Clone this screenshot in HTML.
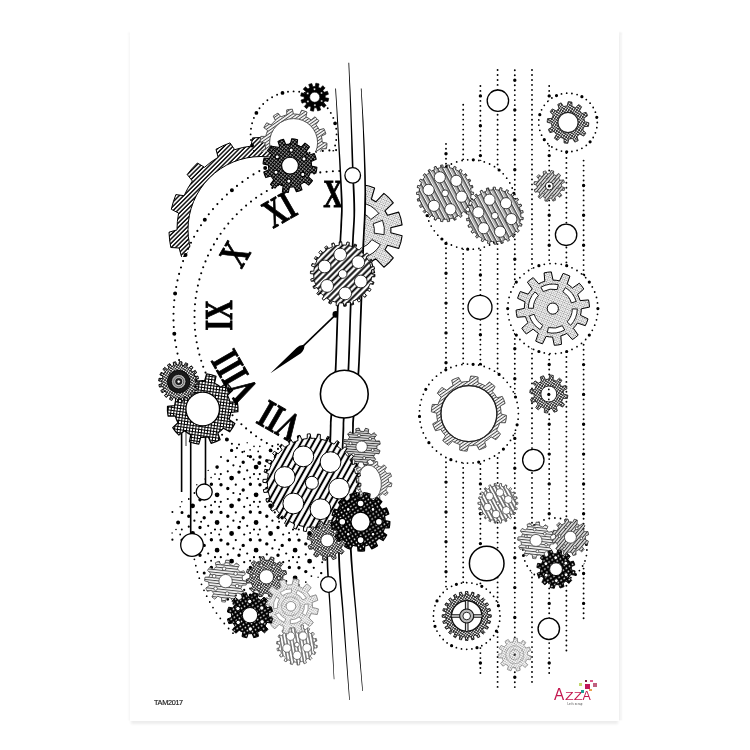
<!DOCTYPE html>
<html lang="fr">
<head>
<meta charset="utf-8">
<title>TAM2017 – AZZA</title>
<style>
html,body{margin:0;padding:0;background:#fff;}
body{width:750px;height:750px;overflow:hidden;position:relative;font-family:"Liberation Sans",sans-serif;}
#sheet{position:absolute;left:130px;top:31px;width:489px;height:689.5px;background:#fff;
 box-shadow:0 4px 2.5px -1px rgba(0,0,0,.075),3.5px 0 1.5px -.5px rgba(0,0,0,.05),-2.5px 0 1.5px -.5px rgba(0,0,0,.03);}
#art{position:absolute;left:0;top:0;width:750px;height:750px;will-change:transform;}
#ref{will-change:transform;position:absolute;left:154px;top:698.2px;font-size:7.3px;line-height:9px;letter-spacing:-.32px;color:#161616;-webkit-text-stroke:.15px #161616;white-space:nowrap;}
#logo{will-change:transform;position:absolute;left:550px;top:676px;width:54px;height:34px;}
#logo span{position:absolute;white-space:nowrap;}
#logo i{position:absolute;display:block;}
</style>
</head>
<body>
<div id="sheet"></div>
<svg id="art" width="750" height="750" viewBox="0 0 750 750">
<defs>
<pattern id="hRing" width="3.1" height="3.1" patternUnits="userSpaceOnUse" patternTransform="rotate(-45)"><line x1="0" y1="1.6" x2="3.1" y2="1.6" stroke="#000" stroke-width="1.4"/></pattern>
<pattern id="hLight" width="2.6" height="2.6" patternUnits="userSpaceOnUse" patternTransform="rotate(-35)"><line x1="0" y1="1.3" x2="2.6" y2="1.3" stroke="#484848" stroke-width="1"/></pattern>
<pattern id="hLightH" width="2.7" height="2.7" patternUnits="userSpaceOnUse" patternTransform="rotate(6)"><line x1="0" y1="1.4" x2="2.7" y2="1.4" stroke="#4a4a4a" stroke-width="1.1"/></pattern>
<pattern id="hMed" width="2.6" height="2.6" patternUnits="userSpaceOnUse" patternTransform="rotate(-50)"><line x1="0" y1="1.3" x2="2.6" y2="1.3" stroke="#333" stroke-width="1.2"/></pattern>
<pattern id="hMedH" width="2.4" height="2.4" patternUnits="userSpaceOnUse" patternTransform="rotate(4)"><line x1="0" y1="1.2" x2="2.4" y2="1.2" stroke="#3a3a3a" stroke-width="1.2"/></pattern>
<pattern id="xDark" width="2.6" height="2.6" patternUnits="userSpaceOnUse" patternTransform="rotate(40)"><path d="M0 1.3 H2.6 M1.3 0 V2.6" stroke="#000" stroke-width="1.4" fill="none"/></pattern>
<pattern id="xMed" width="2.2" height="2.2" patternUnits="userSpaceOnUse" patternTransform="rotate(35)"><path d="M0 1.1 H2.2 M1.1 0 V2.2" stroke="#2a2a2a" stroke-width="0.9" fill="none"/></pattern>
<pattern id="xGrid" width="3" height="3" patternUnits="userSpaceOnUse" patternTransform="rotate(8)"><path d="M0 1.5 H3 M1.5 0 V3" stroke="#000" stroke-width="1" fill="none"/></pattern>
<pattern id="stip" width="2.7" height="2.7" patternUnits="userSpaceOnUse" patternTransform="rotate(20)"><circle cx="0.7" cy="0.7" r="0.5" fill="#111"/><circle cx="2" cy="2" r="0.5" fill="#111"/></pattern>
<pattern id="stipL" width="2.2" height="2.2" patternUnits="userSpaceOnUse" patternTransform="rotate(20)"><circle cx="0.6" cy="0.6" r="0.4" fill="#444"/><circle cx="1.7" cy="1.7" r="0.4" fill="#444"/></pattern>
<pattern id="bdots" width="5.2" height="5.2" patternUnits="userSpaceOnUse" patternTransform="rotate(12)"><rect width="5.2" height="5.2" fill="#000"/><circle cx="1.3" cy="1.3" r="0.8" fill="#fff"/><circle cx="3.9" cy="3.9" r="0.8" fill="#fff"/></pattern>
<pattern id="sBig" width="5.4" height="5.4" patternUnits="userSpaceOnUse" patternTransform="rotate(-61)"><line x1="0" y1="2.7" x2="5.4" y2="2.7" stroke="#000" stroke-width="2"/></pattern>
<pattern id="sMid" width="4.4" height="4.4" patternUnits="userSpaceOnUse" patternTransform="rotate(-45)"><line x1="0" y1="2.2" x2="4.4" y2="2.2" stroke="#000" stroke-width="1.9"/></pattern>
<pattern id="sRight" width="4.4" height="4.4" patternUnits="userSpaceOnUse" patternTransform="rotate(62)"><line x1="0" y1="0.8" x2="4.4" y2="0.8" stroke="#000" stroke-width="1.1"/><line x1="0" y1="2.7" x2="4.4" y2="2.7" stroke="#000" stroke-width="0.5"/></pattern>
<pattern id="sSmall" width="3.4" height="3.4" patternUnits="userSpaceOnUse" patternTransform="rotate(62)"><line x1="0" y1="1.7" x2="3.4" y2="1.7" stroke="#222" stroke-width="1.1"/></pattern>
<pattern id="sSmallV" width="3.2" height="3.2" patternUnits="userSpaceOnUse" patternTransform="rotate(80)"><line x1="0" y1="1.6" x2="3.2" y2="1.6" stroke="#333" stroke-width="1"/></pattern>
<clipPath id="ringClip"><rect x="150" y="120" width="200" height="137"/></clipPath>
<clipPath id="topClip"><rect x="230" y="60" width="120" height="91.5"/></clipPath>
<clipPath id="leftOfRails"><rect x="120" y="30" width="222" height="700"/></clipPath>
<clipPath id="rightOfRails"><rect x="363" y="150" width="80" height="160"/></clipPath>
</defs>
<path d="M218.1 157.3L216 149.3A92 92 0 0 1 230 142.9L234.7 149.7A84 84 0 0 1 251.1 146.1L252.5 137.9A92 92 0 0 1 267.9 137.8L269.4 145.9A84 84 0 0 1 285.9 149.3L290.5 142.4A92 92 0 0 1 304.6 148.5L302.7 156.6A84 84 0 0 1 316.4 166.4L323.4 161.9A92 92 0 0 1 333.8 173.2L328.7 179.8A84 84 0 0 1 337.3 194.3L345.5 193.1A92 92 0 0 1 350.4 207.7L343.1 211.7A84 84 0 0 1 345 228.4L353 230.6A92 92 0 0 1 351.5 245.9L343.2 246.6A84 84 0 0 1 338.2 262.7L344.6 267.9A92 92 0 0 1 337 281.3L329.2 278.6A84 84 0 0 1 318 291.2L321.7 298.6A92 92 0 0 1 309.3 307.8L303.3 302.1A84 84 0 0 1 288 309L288.4 317.3A92 92 0 0 1 273.3 320.7L270.2 313A84 84 0 0 1 253.3 313.1L250.3 320.9A92 92 0 0 1 235.2 317.8L235.4 309.5A84 84 0 0 1 219.9 302.8L214 308.6A92 92 0 0 1 201.5 299.7L205.1 292.2A84 84 0 0 1 193.7 279.7L185.9 282.7A92 92 0 0 1 178.1 269.4L184.4 264A84 84 0 0 1 179.1 248L170.8 247.5A92 92 0 0 1 169 232.2L177 229.9A84 84 0 0 1 178.6 213.1L171.3 209.3A92 92 0 0 1 175.9 194.6L184.1 195.7A84 84 0 0 1 192.4 181L187.2 174.5A92 92 0 0 1 197.4 163L204.5 167.3A84 84 0 0 1 218.1 157.3ZM188 229.5a73 73 0 1 0 146 0a73 73 0 1 0 -146 0Z" fill="url(#hRing)" fill-rule="evenodd" stroke="#000" stroke-width="1" clip-path="url(#ringClip)"/>
<circle cx="340.5" cy="317" r="166" fill="#fff"/>
<g clip-path="url(#leftOfRails)">
<path d="M329.4 483.6h0M322.8 483.1h0M316.1 482.2h0M309.5 481.1h0M303 479.7h0M290 476.2h0M283.7 474h0M277.4 471.6h0M271.3 469h0M265.2 466.1h0M253.5 459.6h0M247.9 456h0M242.4 452.1h0M237 448.1h0M231.9 443.8h0M222.1 434.7h0M217.4 429.9h0M213 424.9h0M208.8 419.7h0M204.8 414.3h0M197.4 403.1h0M194.1 397.3h0M191 391.3h0M188.1 385.3h0M185.5 379.1h0M181 366.5h0M179.1 360.1h0M177.5 353.6h0M176.2 347h0M175.1 340.4h0M173.8 327h0M173.5 320.4h0M173.5 313.7h0M173.8 307h0M174.3 300.3h0M176.2 287h0M177.5 280.4h0M179.1 273.9h0M181 267.5h0M183.1 261.1h0M188.1 248.7h0M191 242.7h0M194.1 236.7h0M197.4 230.9h0M201 225.2h0M208.8 214.3h0M213 209.1h0M217.4 204.1h0M222.1 199.3h0M226.9 194.6h0M237 185.9h0M242.4 181.9h0M247.9 178h0M253.5 174.4h0M259.3 171.1h0M271.3 165h0M277.4 162.4h0M283.7 160h0M290 157.8h0M296.5 155.9h0M309.5 152.9h0M316.1 151.8h0M322.8 150.9h0M329.4 150.4h0M336.1 150.1h0" stroke="#000" stroke-width="2.1" stroke-linecap="round" fill="none"/>
<path d="M336.1 483.9h0M296.5 478.1h0M259.3 462.9h0M226.9 439.4h0M201 408.8h0M183.1 372.9h0M174.3 333.7h0M175.1 293.6h0M185.5 254.9h0M204.8 219.7h0M231.9 190.2h0M265.2 167.9h0M302.9 154.3h0M342.8 150h0" stroke="#000" stroke-width="4" stroke-linecap="round" fill="none"/>
<path d="M345.6 462.9h0M339.3 463h0M332.9 462.8h0M326.6 462.3h0M320.3 461.6h0M314.1 460.6h0M307.9 459.3h0M301.7 457.8h0M295.6 455.9h0M289.7 453.9h0M283.8 451.5h0M278 448.9h0M272.3 446.1h0M266.8 443h0M261.4 439.7h0M256.1 436.2h0M251 432.4h0M246.1 428.4h0M241.4 424.2h0M236.8 419.8h0M232.5 415.2h0M228.3 410.4h0M224.4 405.5h0M220.6 400.3h0M217.1 395.1h0M213.9 389.6h0M210.8 384.1h0M208 378.4h0M205.5 372.6h0M203.2 366.7h0M201.2 360.7h0M199.4 354.6h0M197.9 348.4h0M196.7 342.2h0M195.7 336h0M195 329.7h0M194.6 323.3h0M194.5 317h0M194.6 310.7h0M195 304.3h0M195.7 298h0M196.7 291.8h0M197.9 285.6h0M199.4 279.4h0M201.2 273.3h0M203.2 267.3h0M205.5 261.4h0M208 255.6h0M210.8 249.9h0M213.9 244.4h0M217.1 238.9h0M220.6 233.7h0M224.4 228.5h0M228.3 223.6h0M232.5 218.8h0M236.8 214.2h0M241.4 209.8h0M246.1 205.6h0M251 201.6h0M256.1 197.8h0M261.4 194.3h0M266.8 191h0M272.3 187.9h0M278 185.1h0M283.8 182.5h0M289.7 180.1h0M295.6 178.1h0M301.7 176.2h0M307.9 174.7h0M314.1 173.4h0M320.3 172.4h0M326.6 171.7h0M332.9 171.2h0M339.3 171h0M345.6 171.1h0" stroke="#000" stroke-width="2.1" stroke-linecap="round" fill="none"/>
</g>
<g clip-path="url(#topClip)">
<path d="M336.6 134.4h0M336.2 140h0M335.1 145.5h0M333.3 150.9h0M327.7 160.6h0M324 164.8h0M319.8 168.5h0M315.1 171.6h0M310.1 174.1h0M299.2 177h0M293.6 177.4h0M288 177h0M282.5 175.9h0M277.1 174.1h0M267.4 168.5h0M263.2 164.8h0M259.5 160.6h0M256.4 155.9h0M253.9 150.9h0M251 140h0M250.6 134.4h0M251 128.8h0M252.1 123.3h0M253.9 117.9h0M259.5 108.2h0M263.2 104h0M267.4 100.3h0M272.1 97.2h0M277.1 94.7h0M288 91.8h0M293.6 91.4h0M299.2 91.8h0M304.7 92.9h0M310.1 94.7h0M319.8 100.3h0M324 104h0M327.7 108.2h0M330.8 112.9h0M333.3 117.9h0M336.2 128.8h0" stroke="#000" stroke-width="1.9" stroke-linecap="round" fill="none"/>
<path d="M330.8 155.9h0M304.7 175.9h0M272.1 171.6h0M252.1 145.5h0M256.4 112.9h0M282.5 92.9h0M315.1 97.2h0M335.1 123.3h0" stroke="#000" stroke-width="3.8" stroke-linecap="round" fill="none"/>
<path d="M286.8 114.8L286.7 109.9A33.4 33.4 0 0 1 292.4 109.2L293.4 114A28.6 28.6 0 0 1 299.6 114.6L301.6 110.2A33.4 33.4 0 0 1 307 112L305.9 116.8A28.6 28.6 0 0 1 311.1 120L314.9 116.8A33.4 33.4 0 0 1 318.9 120.8L315.9 124.6A28.6 28.6 0 0 1 319.2 129.8L323.9 128.6A33.4 33.4 0 0 1 325.9 134L321.4 136.1A28.6 28.6 0 0 1 322.2 142.2L327 143.2A33.4 33.4 0 0 1 326.4 148.8L321.5 148.8A28.6 28.6 0 0 1 319.5 154.6L323.4 157.6A33.4 33.4 0 0 1 320.5 162.4L316.1 160.3A28.6 28.6 0 0 1 311.8 164.7L314 169.1A33.4 33.4 0 0 1 309.2 172.1L306.2 168.3A28.6 28.6 0 0 1 300.4 170.4L300.5 175.3A33.4 33.4 0 0 1 294.8 176L293.8 171.2A28.6 28.6 0 0 1 287.6 170.6L285.6 175A33.4 33.4 0 0 1 280.2 173.2L281.3 168.4A28.6 28.6 0 0 1 276.1 165.2L272.3 168.4A33.4 33.4 0 0 1 268.3 164.4L271.3 160.6A28.6 28.6 0 0 1 268 155.4L263.3 156.6A33.4 33.4 0 0 1 261.3 151.2L265.8 149.1A28.6 28.6 0 0 1 265 143L260.2 142A33.4 33.4 0 0 1 260.8 136.4L265.7 136.4A28.6 28.6 0 0 1 267.7 130.6L263.8 127.6A33.4 33.4 0 0 1 266.7 122.8L271.1 124.9A28.6 28.6 0 0 1 275.4 120.5L273.2 116.1A33.4 33.4 0 0 1 278 113.1L281 116.9A28.6 28.6 0 0 1 286.8 114.8ZM269.6 142.6a24 24 0 1 0 48 0a24 24 0 1 0 -48 0Z" fill="#fff"/>
<path d="M286.8 114.8L286.7 109.9A33.4 33.4 0 0 1 292.4 109.2L293.4 114A28.6 28.6 0 0 1 299.6 114.6L301.6 110.2A33.4 33.4 0 0 1 307 112L305.9 116.8A28.6 28.6 0 0 1 311.1 120L314.9 116.8A33.4 33.4 0 0 1 318.9 120.8L315.9 124.6A28.6 28.6 0 0 1 319.2 129.8L323.9 128.6A33.4 33.4 0 0 1 325.9 134L321.4 136.1A28.6 28.6 0 0 1 322.2 142.2L327 143.2A33.4 33.4 0 0 1 326.4 148.8L321.5 148.8A28.6 28.6 0 0 1 319.5 154.6L323.4 157.6A33.4 33.4 0 0 1 320.5 162.4L316.1 160.3A28.6 28.6 0 0 1 311.8 164.7L314 169.1A33.4 33.4 0 0 1 309.2 172.1L306.2 168.3A28.6 28.6 0 0 1 300.4 170.4L300.5 175.3A33.4 33.4 0 0 1 294.8 176L293.8 171.2A28.6 28.6 0 0 1 287.6 170.6L285.6 175A33.4 33.4 0 0 1 280.2 173.2L281.3 168.4A28.6 28.6 0 0 1 276.1 165.2L272.3 168.4A33.4 33.4 0 0 1 268.3 164.4L271.3 160.6A28.6 28.6 0 0 1 268 155.4L263.3 156.6A33.4 33.4 0 0 1 261.3 151.2L265.8 149.1A28.6 28.6 0 0 1 265 143L260.2 142A33.4 33.4 0 0 1 260.8 136.4L265.7 136.4A28.6 28.6 0 0 1 267.7 130.6L263.8 127.6A33.4 33.4 0 0 1 266.7 122.8L271.1 124.9A28.6 28.6 0 0 1 275.4 120.5L273.2 116.1A33.4 33.4 0 0 1 278 113.1L281 116.9A28.6 28.6 0 0 1 286.8 114.8ZM269.6 142.6a24 24 0 1 0 48 0a24 24 0 1 0 -48 0Z" fill="url(#hLight)" fill-rule="evenodd" stroke="#444" stroke-width="0.9"/>
</g>
<path d="M250.1 616.1h0M258.2 617.6h0" stroke="#000" stroke-width="1.2" stroke-linecap="round" fill="none"/>
<path d="M172.1 533h0M196.8 484.7h0M208.2 470.4h0M211.1 588.4h0M247.2 442.7h0M266.8 443.6h0M286.2 608.9h0M305.8 471.3h0M318.1 577.2h0M337.8 501.8h0M344.8 526.7h0M337.8 557.2h0" stroke="#000" stroke-width="1.4" stroke-linecap="round" fill="none"/>
<path d="M176 529.5h0M205.2 479.1h0M211.1 477.6h0M181.8 501.8h0M180.2 506.8h0M254 446.4h0M250.1 449.9h0M254 612.6h0M259.8 446.4h0M283.2 451.4h0M259.8 612.6h0M328.1 560.7h0M297.2 589.9h0M336.2 506.8h0" stroke="#000" stroke-width="1.6" stroke-linecap="round" fill="none"/>
<path d="M194.4 493h0M215 474.1h0M188.8 499h0M180.2 534.5h0M208.2 581.2h0M244.2 451.4h0M219.2 589.9h0M240.1 604.9h0M247.2 608.9h0M258.2 451.4h0M279.1 604.9h0M266.8 609.8h0M313.8 484.7h0M318.1 494.1h0M325.2 498.1h0M332 501.8h0M328.1 505.3h0M311.4 576.1h0M332 557.2h0M305.8 582.1h0M337.8 529.5h0M336.2 534.5h0" stroke="#000" stroke-width="1.8" stroke-linecap="round" fill="none"/>
<path d="M172.4 512h0M201.1 494.1h0M211.1 505.3h0M201.1 521.8h0M181.8 529.5h0M211.1 533h0M201.1 549.5h0M211.1 560.7h0M215 584.9h0M239 444.4h0M221 457h0M235.8 457h0M240.1 466.4h0M219.2 479.1h0M250.1 477.6h0M240.1 494.1h0M219.2 506.8h0M250.1 505.3h0M240.1 521.8h0M219.2 534.5h0M250.1 533h0M240.1 549.5h0M219.2 562.2h0M250.1 560.7h0M240.1 577.2h0M233.4 603.8h0M250.1 588.4h0M278 444.4h0M279.1 466.4h0M258.2 479.1h0M289.1 477.6h0M279.1 494.1h0M258.2 506.8h0M289.1 505.3h0M279.1 521.8h0M258.2 534.5h0M289.1 533h0M279.1 549.5h0M258.2 562.2h0M289.1 560.7h0M279.1 577.2h0M258.2 589.9h0M289.1 588.4h0M298.8 474.1h0M297.2 479.1h0M297.2 506.8h0M318.1 521.8h0M297.2 534.5h0M328.1 533h0M318.1 549.5h0M322.2 562.2h0M297.2 562.2h0M298.8 584.9h0M344.8 516.2h0M344.8 543.9h0" stroke="#000" stroke-width="2" stroke-linecap="round" fill="none"/>
<path d="M172.4 539.7h0M196.8 512.4h0M194.4 520.7h0M208.2 498.1h0M205.2 506.8h0M215 501.8h0M196.8 540.1h0M188.8 526.7h0M208.2 525.8h0M205.2 534.5h0M215 529.5h0M208.2 553.5h0M205.2 562.2h0M215 557.2h0M233.4 465.3h0M235.8 484.7h0M233.4 493h0M227.8 471.3h0M220.8 474.1h0M247.2 470.4h0M244.2 479.1h0M254 474.1h0M235.8 512.4h0M233.4 520.7h0M227.8 499h0M220.8 501.8h0M247.2 498.1h0M244.2 506.8h0M254 501.8h0M235.8 540.1h0M233.4 548.4h0M227.8 526.7h0M220.8 529.5h0M247.2 525.8h0M244.2 534.5h0M254 529.5h0M235.8 567.8h0M233.4 576.1h0M227.8 554.4h0M220.8 557.2h0M247.2 553.5h0M244.2 562.2h0M254 557.2h0M235.8 595.5h0M227.8 582.1h0M220.8 584.9h0M247.2 581.2h0M244.2 589.9h0M254 584.9h0M274.8 457h0M272.4 465.3h0M274.8 484.7h0M272.4 493h0M266.8 471.3h0M259.8 474.1h0M286.2 470.4h0M283.2 479.1h0M293 474.1h0M274.8 512.4h0M272.4 520.7h0M266.8 499h0M259.8 501.8h0M286.2 498.1h0M283.2 506.8h0M293 501.8h0M274.8 540.1h0M272.4 548.4h0M266.8 526.7h0M259.8 529.5h0M286.2 525.8h0M283.2 534.5h0M293 529.5h0M274.8 567.8h0M272.4 576.1h0M266.8 554.4h0M259.8 557.2h0M286.2 553.5h0M283.2 562.2h0M293 557.2h0M274.8 595.5h0M272.4 603.8h0M266.8 582.1h0M259.8 584.9h0M286.2 581.2h0M283.2 589.9h0M293 584.9h0M311.4 493h0M313.8 512.4h0M311.4 520.7h0M305.8 499h0M298.8 501.8h0M322.2 506.8h0M313.8 540.1h0M311.4 548.4h0M305.8 526.7h0M298.8 529.5h0M325.2 525.8h0M322.2 534.5h0M332 529.5h0M328.4 567.4h0M313.8 567.8h0M305.8 554.4h0M298.8 557.2h0M325.2 553.5h0" stroke="#000" stroke-width="2.2" stroke-linecap="round" fill="none"/>
<path d="M289.4 456.6h0M321.2 573.1h0M299 595.5h0" stroke="#000" stroke-width="2.4" stroke-linecap="round" fill="none"/>
<path d="M221 595.5h0M239 610.6h0M278 610.6h0M321.2 490h0M338 512.4h0" stroke="#000" stroke-width="2.6" stroke-linecap="round" fill="none"/>
<path d="M227.8 460.8h0M227.8 599.3h0M338 540.1h0" stroke="#000" stroke-width="2.8" stroke-linecap="round" fill="none"/>
<path d="M182 512.4h0M204.2 573.1h0M289.4 595.1h0M270.6 616.6h0" stroke="#000" stroke-width="3" stroke-linecap="round" fill="none"/>
<path d="M204.2 490h0M182 540.1h0M282.2 600.8h0" stroke="#000" stroke-width="3.2" stroke-linecap="round" fill="none"/>
<path d="M211.4 484.3h0M188.8 516.2h0M204.2 517.7h0M200 499.8h0M211.4 512h0M188.8 543.9h0M204.2 545.4h0M200 527.5h0M211.4 539.7h0M200 555.2h0M211.4 567.4h0M231.6 450.4h0M243.2 462.3h0M250.4 456.6h0M227.8 488.5h0M243.2 490h0M239 472.1h0M221 484.7h0M250.4 484.3h0M227.8 516.2h0M243.2 517.7h0M239 499.8h0M221 512.4h0M250.4 512h0M227.8 543.9h0M243.2 545.4h0M239 527.5h0M221 540.1h0M250.4 539.7h0M227.8 571.6h0M243.2 573.1h0M239 555.2h0M221 567.8h0M250.4 567.4h0M243.2 600.8h0M239 582.9h0M250.4 595.1h0M266.8 460.8h0M282.2 462.3h0M260 457h0M266.8 488.5h0M282.2 490h0M278 472.1h0M260 484.7h0M289.4 484.3h0M266.8 516.2h0M282.2 517.7h0M278 499.8h0M260 512.4h0M289.4 512h0M266.8 543.9h0M282.2 545.4h0M278 527.5h0M260 540.1h0M289.4 539.7h0M266.8 571.6h0M282.2 573.1h0M278 555.2h0M260 567.8h0M289.4 567.4h0M266.8 599.3h0M278 582.9h0M260 595.5h0M305.8 488.5h0M299 484.7h0M305.8 516.2h0M321.2 517.7h0M317 499.8h0M299 512.4h0M328.4 512h0M305.8 543.9h0M321.2 545.4h0M317 527.5h0M299 540.1h0M328.4 539.7h0M305.8 571.6h0M317 555.2h0M299 567.8h0" stroke="#000" stroke-width="3.4" stroke-linecap="round" fill="none"/>
<path d="M217.1 467.1h0M309.6 478.1h0" stroke="#000" stroke-width="3.6" stroke-linecap="round" fill="none"/>
<path d="M270.6 450.4h0" stroke="#000" stroke-width="3.8" stroke-linecap="round" fill="none"/>
<path d="M178.1 522.5h0M295.1 467.1h0" stroke="#000" stroke-width="4" stroke-linecap="round" fill="none"/>
<path d="M334.1 550.2h0" stroke="#000" stroke-width="4.2" stroke-linecap="round" fill="none"/>
<path d="M334.1 522.5h0" stroke="#000" stroke-width="4.4" stroke-linecap="round" fill="none"/>
<path d="M256.1 605.6h0" stroke="#000" stroke-width="4.6" stroke-linecap="round" fill="none"/>
<path d="M192.6 505.8h0M192.6 533.5h0M231.6 478.1h0M217.1 494.8h0M231.6 505.8h0M217.1 522.5h0M231.6 533.5h0M217.1 550.2h0M231.6 561.2h0M217.1 577.9h0M231.6 588.9h0M256.1 467.1h0M270.6 478.1h0M256.1 494.8h0M270.6 505.8h0M256.1 522.5h0M270.6 533.5h0M256.1 550.2h0M270.6 561.2h0M256.1 577.9h0M270.6 588.9h0M295.1 494.8h0M309.6 505.8h0M295.1 522.5h0M309.6 533.5h0M295.1 550.2h0M309.6 561.2h0M295.1 577.9h0" stroke="#000" stroke-width="4.8" stroke-linecap="round" fill="none"/>
<path d="M233 633.2h0M228.6 628.5h0M224.3 623.5h0M220.3 618.4h0M216.5 613.1h0M213 607.6h0M209.8 602h0M206.7 596.2h0M204 590.3h0M201.5 584.3h0M199.3 578.2h0M197.4 572h0M195.8 565.7h0M194.4 559.3h0M193.4 552.9h0" stroke="#000" stroke-width="1.8" stroke-linecap="round" fill="none"/>
<path d="M181.6 425V492M190.7 430V534M205.5 432V484" stroke="#000" stroke-width="1.6" fill="none"/>
<path d="M186 428V446" stroke="#000" stroke-width="0.8" fill="none"/>
<circle cx="204.2" cy="492" r="8" fill="#fff" stroke="#000" stroke-width="1.3"/>
<circle cx="192" cy="545" r="11.3" fill="#fff" stroke="#000" stroke-width="1.3"/>
<path d="M230.1 402.1L237.3 401.9A35.3 35.3 0 0 1 237.9 411.6L230.8 412.3A28.3 28.3 0 0 1 229 419.5L234.9 423.6A35.3 35.3 0 0 1 229.7 431.8L223.5 428.2A28.3 28.3 0 0 1 217.8 433L220.1 439.7A35.3 35.3 0 0 1 211.1 443.3L208.2 436.8A28.3 28.3 0 0 1 200.8 437.2L198.8 444.1A35.3 35.3 0 0 1 189.4 441.7L190.9 434.7A28.3 28.3 0 0 1 184.6 430.7L178.9 435.1A35.3 35.3 0 0 1 172.7 427.6L178 422.8A28.3 28.3 0 0 1 175.3 415.9L168.1 416.1A35.3 35.3 0 0 1 167.5 406.4L174.6 405.7A28.3 28.3 0 0 1 176.4 398.5L170.5 394.4A35.3 35.3 0 0 1 175.7 386.2L181.9 389.8A28.3 28.3 0 0 1 187.6 385L185.3 378.3A35.3 35.3 0 0 1 194.3 374.7L197.2 381.2A28.3 28.3 0 0 1 204.6 380.8L206.6 373.9A35.3 35.3 0 0 1 216 376.3L214.5 383.3A28.3 28.3 0 0 1 220.8 387.3L226.5 382.9A35.3 35.3 0 0 1 232.7 390.4L227.4 395.2A28.3 28.3 0 0 1 230.1 402.1Z" fill="#fff"/>
<path d="M230.1 402.1L237.3 401.9A35.3 35.3 0 0 1 237.9 411.6L230.8 412.3A28.3 28.3 0 0 1 229 419.5L234.9 423.6A35.3 35.3 0 0 1 229.7 431.8L223.5 428.2A28.3 28.3 0 0 1 217.8 433L220.1 439.7A35.3 35.3 0 0 1 211.1 443.3L208.2 436.8A28.3 28.3 0 0 1 200.8 437.2L198.8 444.1A35.3 35.3 0 0 1 189.4 441.7L190.9 434.7A28.3 28.3 0 0 1 184.6 430.7L178.9 435.1A35.3 35.3 0 0 1 172.7 427.6L178 422.8A28.3 28.3 0 0 1 175.3 415.9L168.1 416.1A35.3 35.3 0 0 1 167.5 406.4L174.6 405.7A28.3 28.3 0 0 1 176.4 398.5L170.5 394.4A35.3 35.3 0 0 1 175.7 386.2L181.9 389.8A28.3 28.3 0 0 1 187.6 385L185.3 378.3A35.3 35.3 0 0 1 194.3 374.7L197.2 381.2A28.3 28.3 0 0 1 204.6 380.8L206.6 373.9A35.3 35.3 0 0 1 216 376.3L214.5 383.3A28.3 28.3 0 0 1 220.8 387.3L226.5 382.9A35.3 35.3 0 0 1 232.7 390.4L227.4 395.2A28.3 28.3 0 0 1 230.1 402.1Z" fill="url(#xGrid)" stroke="#000" stroke-width="1.2" stroke-linejoin="round"/>
<circle cx="202.7" cy="409" r="16.8" fill="#fff" stroke="#000" stroke-width="1.3"/>
<path d="M195.4 381.8L198.7 382.3A20 20 0 0 1 198.4 384.9L195.1 384.7A16.7 16.7 0 0 1 194.5 387L197.5 388.4A20 20 0 0 1 196.4 390.8L193.4 389.6A16.7 16.7 0 0 1 192.1 391.6L194.5 393.9A20 20 0 0 1 192.7 395.9L190.2 393.7A16.7 16.7 0 0 1 188.3 395.2L189.9 398.2A20 20 0 0 1 187.6 399.5L185.8 396.7A16.7 16.7 0 0 1 183.6 397.6L184.2 400.8A20 20 0 0 1 181.7 401.4L180.8 398.2A16.7 16.7 0 0 1 178.5 398.3L178 401.6A20 20 0 0 1 175.4 401.3L175.6 398A16.7 16.7 0 0 1 173.3 397.4L171.9 400.4A20 20 0 0 1 169.5 399.3L170.7 396.3A16.7 16.7 0 0 1 168.7 395L166.4 397.4A20 20 0 0 1 164.4 395.6L166.6 393.1A16.7 16.7 0 0 1 165.1 391.2L162.1 392.8A20 20 0 0 1 160.8 390.5L163.6 388.7A16.7 16.7 0 0 1 162.7 386.5L159.5 387.1A20 20 0 0 1 158.9 384.6L162.1 383.7A16.7 16.7 0 0 1 162 381.4L158.7 380.9A20 20 0 0 1 159 378.3L162.3 378.5A16.7 16.7 0 0 1 162.9 376.2L159.9 374.8A20 20 0 0 1 161 372.4L164 373.6A16.7 16.7 0 0 1 165.3 371.6L162.9 369.3A20 20 0 0 1 164.7 367.3L167.2 369.5A16.7 16.7 0 0 1 169.1 368L167.5 365A20 20 0 0 1 169.8 363.7L171.6 366.5A16.7 16.7 0 0 1 173.8 365.6L173.2 362.4A20 20 0 0 1 175.7 361.8L176.6 365A16.7 16.7 0 0 1 178.9 364.9L179.4 361.6A20 20 0 0 1 182 361.9L181.8 365.2A16.7 16.7 0 0 1 184.1 365.8L185.5 362.8A20 20 0 0 1 187.9 363.9L186.7 366.9A16.7 16.7 0 0 1 188.7 368.2L191 365.8A20 20 0 0 1 193 367.6L190.8 370.1A16.7 16.7 0 0 1 192.3 372L195.3 370.4A20 20 0 0 1 196.6 372.7L193.8 374.5A16.7 16.7 0 0 1 194.7 376.7L197.9 376.1A20 20 0 0 1 198.5 378.6L195.3 379.5A16.7 16.7 0 0 1 195.4 381.8Z" fill="#fff"/>
<path d="M195.4 381.8L198.7 382.3A20 20 0 0 1 198.4 384.9L195.1 384.7A16.7 16.7 0 0 1 194.5 387L197.5 388.4A20 20 0 0 1 196.4 390.8L193.4 389.6A16.7 16.7 0 0 1 192.1 391.6L194.5 393.9A20 20 0 0 1 192.7 395.9L190.2 393.7A16.7 16.7 0 0 1 188.3 395.2L189.9 398.2A20 20 0 0 1 187.6 399.5L185.8 396.7A16.7 16.7 0 0 1 183.6 397.6L184.2 400.8A20 20 0 0 1 181.7 401.4L180.8 398.2A16.7 16.7 0 0 1 178.5 398.3L178 401.6A20 20 0 0 1 175.4 401.3L175.6 398A16.7 16.7 0 0 1 173.3 397.4L171.9 400.4A20 20 0 0 1 169.5 399.3L170.7 396.3A16.7 16.7 0 0 1 168.7 395L166.4 397.4A20 20 0 0 1 164.4 395.6L166.6 393.1A16.7 16.7 0 0 1 165.1 391.2L162.1 392.8A20 20 0 0 1 160.8 390.5L163.6 388.7A16.7 16.7 0 0 1 162.7 386.5L159.5 387.1A20 20 0 0 1 158.9 384.6L162.1 383.7A16.7 16.7 0 0 1 162 381.4L158.7 380.9A20 20 0 0 1 159 378.3L162.3 378.5A16.7 16.7 0 0 1 162.9 376.2L159.9 374.8A20 20 0 0 1 161 372.4L164 373.6A16.7 16.7 0 0 1 165.3 371.6L162.9 369.3A20 20 0 0 1 164.7 367.3L167.2 369.5A16.7 16.7 0 0 1 169.1 368L167.5 365A20 20 0 0 1 169.8 363.7L171.6 366.5A16.7 16.7 0 0 1 173.8 365.6L173.2 362.4A20 20 0 0 1 175.7 361.8L176.6 365A16.7 16.7 0 0 1 178.9 364.9L179.4 361.6A20 20 0 0 1 182 361.9L181.8 365.2A16.7 16.7 0 0 1 184.1 365.8L185.5 362.8A20 20 0 0 1 187.9 363.9L186.7 366.9A16.7 16.7 0 0 1 188.7 368.2L191 365.8A20 20 0 0 1 193 367.6L190.8 370.1A16.7 16.7 0 0 1 192.3 372L195.3 370.4A20 20 0 0 1 196.6 372.7L193.8 374.5A16.7 16.7 0 0 1 194.7 376.7L197.9 376.1A20 20 0 0 1 198.5 378.6L195.3 379.5A16.7 16.7 0 0 1 195.4 381.8Z" fill="url(#xMed)" stroke="#000" stroke-width="1" stroke-linejoin="round"/>
<circle cx="178.7" cy="381.6" r="11.3" fill="#1a1a1a" stroke="#000" stroke-width="0.8"/>
<circle cx="178.7" cy="381.6" r="7.3" fill="#aaa" stroke="#000" stroke-width="0.8"/>
<circle cx="178.7" cy="381.6" r="4.9" fill="#ddd" stroke="#333" stroke-width="0.7"/>
<circle cx="178.7" cy="381.6" r="3.3" fill="#222" stroke="#000" stroke-width="0.5"/>
<circle cx="178.7" cy="381.6" r="1.6" fill="#fff" stroke="#000" stroke-width="0.5"/>
<g opacity="0.999">
<text transform="translate(340.5 193.4) rotate(0) scale(0.675 1)" x="5" y="13.3" stroke="#000" stroke-width="0.9" text-anchor="middle" font-family="'Liberation Serif',serif" font-weight="bold" font-size="40.5">XII</text>
<text transform="translate(279.5 209.7) rotate(-30) scale(0.675 1)" x="0" y="13.3" stroke="#000" stroke-width="0.9" text-anchor="middle" font-family="'Liberation Serif',serif" font-weight="bold" font-size="40.5">XI</text>
<text transform="translate(234.8 254.4) rotate(-60) scale(0.675 1)" x="0" y="13.3" stroke="#000" stroke-width="0.9" text-anchor="middle" font-family="'Liberation Serif',serif" font-weight="bold" font-size="40.5">X</text>
<text transform="translate(218.5 315.4) rotate(-90) scale(0.675 1)" x="0" y="13.3" stroke="#000" stroke-width="0.9" text-anchor="middle" font-family="'Liberation Serif',serif" font-weight="bold" font-size="40.5">IX</text>
<text transform="translate(234.8 376.4) rotate(-120) scale(0.675 1)" x="0" y="13.3" stroke="#000" stroke-width="0.9" text-anchor="middle" font-family="'Liberation Serif',serif" font-weight="bold" font-size="40.5">VIII</text>
<text transform="translate(279.5 421.1) rotate(-150) scale(0.675 1)" x="0" y="13.3" stroke="#000" stroke-width="0.9" text-anchor="middle" font-family="'Liberation Serif',serif" font-weight="bold" font-size="40.5">VII</text>
</g>
<path d="M335.8 314.6L301.5 347.6" stroke="#000" stroke-width="1.6" fill="none"/>
<path d="M270.4 373.2L296.4 348.1Q300.3 344.2 304.3 345.3Q305 349.6 300.9 353.3Z" fill="#000"/>
<circle cx="335.8" cy="314.4" r="3.3" fill="#000" stroke="#000" stroke-width="0"/>
<g clip-path="url(#rightOfRails)">
<path d="M390.8 232.8L402.1 235.7A46 46 0 0 1 398.7 248.5L387.5 245.3A34.5 34.5 0 0 1 384.9 249.7L393.3 257.8A46 46 0 0 1 383.9 267.2L375.8 258.8A34.5 34.5 0 0 1 371.4 261.4L374.6 272.6A46 46 0 0 1 361.8 276L358.9 264.7A34.5 34.5 0 0 1 353.9 264.7L351 276A46 46 0 0 1 338.2 272.6L341.4 261.4A34.5 34.5 0 0 1 337 258.8L328.9 267.2A46 46 0 0 1 319.5 257.8L327.9 249.7A34.5 34.5 0 0 1 325.3 245.3L314.1 248.5A46 46 0 0 1 310.7 235.7L322 232.8A34.5 34.5 0 0 1 322 227.8L310.7 224.9A46 46 0 0 1 314.1 212.1L325.3 215.3A34.5 34.5 0 0 1 327.9 210.9L319.5 202.8A46 46 0 0 1 328.9 193.4L337 201.8A34.5 34.5 0 0 1 341.4 199.2L338.2 188A46 46 0 0 1 351 184.6L353.9 195.9A34.5 34.5 0 0 1 358.9 195.9L361.8 184.6A46 46 0 0 1 374.6 188L371.4 199.2A34.5 34.5 0 0 1 375.8 201.8L383.9 193.4A46 46 0 0 1 393.3 202.8L384.9 210.9A34.5 34.5 0 0 1 387.5 215.3L398.7 212.1A46 46 0 0 1 402.1 224.9L390.8 227.8A34.5 34.5 0 0 1 390.8 232.8Z" fill="#fff"/>
<path d="M390.8 232.8L402.1 235.7A46 46 0 0 1 398.7 248.5L387.5 245.3A34.5 34.5 0 0 1 384.9 249.7L393.3 257.8A46 46 0 0 1 383.9 267.2L375.8 258.8A34.5 34.5 0 0 1 371.4 261.4L374.6 272.6A46 46 0 0 1 361.8 276L358.9 264.7A34.5 34.5 0 0 1 353.9 264.7L351 276A46 46 0 0 1 338.2 272.6L341.4 261.4A34.5 34.5 0 0 1 337 258.8L328.9 267.2A46 46 0 0 1 319.5 257.8L327.9 249.7A34.5 34.5 0 0 1 325.3 245.3L314.1 248.5A46 46 0 0 1 310.7 235.7L322 232.8A34.5 34.5 0 0 1 322 227.8L310.7 224.9A46 46 0 0 1 314.1 212.1L325.3 215.3A34.5 34.5 0 0 1 327.9 210.9L319.5 202.8A46 46 0 0 1 328.9 193.4L337 201.8A34.5 34.5 0 0 1 341.4 199.2L338.2 188A46 46 0 0 1 351 184.6L353.9 195.9A34.5 34.5 0 0 1 358.9 195.9L361.8 184.6A46 46 0 0 1 374.6 188L371.4 199.2A34.5 34.5 0 0 1 375.8 201.8L383.9 193.4A46 46 0 0 1 393.3 202.8L384.9 210.9A34.5 34.5 0 0 1 387.5 215.3L398.7 212.1A46 46 0 0 1 402.1 224.9L390.8 227.8A34.5 34.5 0 0 1 390.8 232.8Z" fill="url(#stip)" stroke="#000" stroke-width="1.1" stroke-linejoin="round"/>
<path d="M359.8 202.5A28 28 0 0 1 378.8 213.4L370.8 219.5A18 18 0 0 0 358.6 212.4Z" fill="#fff" stroke="#000" stroke-width="0.9"/>
<path d="M382.5 220.3A28 28 0 0 1 384.1 234.7L374.2 233.1A18 18 0 0 0 373.2 223.8Z" fill="#fff" stroke="#000" stroke-width="0.9"/>
<path d="M380.4 244.7A28 28 0 0 1 362.7 257.6L360.4 247.8A18 18 0 0 0 371.8 239.6Z" fill="#fff" stroke="#000" stroke-width="0.9"/>
</g>
<path d="M335.6 88.4L336.1 97.5L336.9 110.5L337.8 125.3L338.6 140L339.5 155.2L340.4 171.7L341.2 187.3L341.7 200L341.8 208.7L341.7 214.7L341.5 219.6L341.2 225L341 230.4L340.7 235.3L340.3 241.3L339.9 250L339.4 262.6L338.8 278L338.3 294.4L337.7 310.3L337.2 326.1L336.6 342.4L336.1 357.5L335.6 370L335.1 378.7L334.6 384.7L334.1 389.6L333.6 395L332.9 401.3L332.2 407.6L331.5 413.7L331 419L330.8 422.2L330.7 423.9L330.7 426.9L330.5 434L330 447.1L329.4 464.3L328.8 482.9L328.3 500L327.9 514.9L327.4 529.2L327.2 543.3L327.3 557.7L327.8 572.6L328.7 587.6L329.7 602.8L330.7 618L331.6 634.7L332.6 652.4L333.5 668.3L334.1 679.3L362.6 691L361.5 678.2L360 659.9L358.2 639.4L356.6 620L355 601.9L353.3 583.6L351.8 565.7L350.8 549.2L350.4 534.6L350.4 521.5L350.7 508.6L351 495L351.4 479.1L351.9 462.1L352.4 446.2L352.8 434L353 427.2L353 424.2L353.1 422.3L353.3 419L353.8 413.7L354.5 407.6L355.3 401.3L356 395L356.7 389.8L357.3 385.1L358 379.2L358.6 370L359.3 356.2L359.9 339.1L360.6 321L361.2 304L361.8 288.2L362.3 272.6L362.8 257.9L363.3 245L363.8 234.5L364.3 225.9L364.7 218.1L365 210L365.2 201.7L365.2 193.7L365.2 185.3L365 176L364.7 165.2L364.3 153.5L363.9 141.5L363.4 130L362.8 118.3L362.2 106.3L361.6 95.8L361.2 88.4Z" fill="#fff"/>
<path d="M335.2 88.4L335.5 93.9L336 101.5L336.5 110.5L337 120.3L337.5 130.3L338 140L338.5 149.9L339.1 160.7L339.6 171.7L340.1 182.3L340.5 191.9L340.8 200L341 206.2L341 210.9L340.8 214.7L340.7 218L340.5 221.2L340.3 225L340.2 228.8L340 232L339.8 235.3L339.6 239.1L339.3 243.8L339 250L338.7 258L338.4 267.5L338 278L337.6 288.9L337.2 299.9L336.8 310.3L336.5 320.7L336.1 331.5L335.8 342.4L335.4 352.7L335.1 362.1L334.7 370L334.4 376.2L334.1 380.9L333.8 384.7L333.4 388L333.1 391.3L332.7 395L332.3 399.2L331.8 403.4L331.3 407.6L330.9 411.7L330.4 415.5L330.1 419L329.9 421.4L329.9 422.8L329.9 423.9L329.8 425.6L329.8 428.7L329.6 434L329.3 442.1L329 452.5L328.6 464.3L328.1 476.7L327.7 488.9L327.4 500L327.1 510.1L326.8 519.8L326.6 529.2L326.4 538.6L326.3 548L326.5 557.7L326.8 567.6L327.4 577.6L328 587.6L328.8 597.7L329.5 607.9L330.1 618L330.8 628.9L331.5 640.6L332.2 652.4L332.9 663.4L333.4 672.6L333.8 679.3L334.4 679.3L334 672.6L333.6 663.4L333 652.4L332.4 640.6L331.8 628.9L331.3 618L330.7 607.9L330.1 597.7L329.4 587.6L328.9 577.6L328.4 567.6L328.1 557.7L328.1 548L328.1 538.6L328.3 529.2L328.6 519.8L328.9 510.1L329.2 500L329.5 488.9L329.9 476.7L330.3 464.3L330.7 452.5L331.1 442.1L331.4 434L331.5 428.7L331.6 425.6L331.6 423.9L331.6 422.8L331.7 421.4L331.9 419L332.2 415.5L332.6 411.7L333.1 407.6L333.6 403.4L334.1 399.2L334.5 395L334.8 391.3L335.2 388L335.5 384.7L335.8 380.9L336.1 376.2L336.5 370L336.8 362.1L337.2 352.7L337.5 342.4L337.9 331.5L338.2 320.7L338.6 310.3L338.9 299.9L339.3 288.9L339.7 278L340.1 267.5L340.5 258L340.8 250L341.1 243.8L341.3 239.1L341.5 235.3L341.7 232L341.9 228.8L342.1 225L342.2 221.2L342.4 218L342.6 214.7L342.7 210.9L342.7 206.2L342.6 200L342.2 191.9L341.7 182.3L341.1 171.7L340.5 160.7L339.8 149.9L339.2 140L338.6 130.3L338 120.3L337.4 110.5L336.8 101.5L336.3 93.9L336 88.4Z" fill="#000"/>
<path d="M348.4 62.8L348.6 67.8L348.9 74.7L349.2 82.8L349.6 91.8L349.9 101L350.2 110L350.5 119.1L350.8 128.9L351.1 138.9L351.3 148.9L351.6 158.5L351.9 167.3L352.1 175.4L352.5 182.9L352.8 190L353.1 196.9L353.3 203.5L353.4 210L353.4 215.9L353.2 221.1L352.9 226.1L352.5 231.4L352.2 237.5L351.8 245L351.5 254.2L351.1 264.7L350.8 276.1L350.4 287.8L350 299.4L349.6 310.3L349.3 321L348.9 331.9L348.6 342.7L348.2 352.9L347.9 362.1L347.5 370L347.2 376.2L346.8 380.9L346.4 384.7L346.1 388L345.7 391.3L345.3 395L344.9 399.2L344.4 403.4L344 407.6L343.5 411.7L343.1 415.5L342.8 419L342.7 421.5L342.6 423L342.6 424.2L342.6 425.9L342.5 428.9L342.3 434L342 441.5L341.5 450.9L341 461.6L340.5 472.9L340 484.3L339.6 495L339.2 505.2L338.8 515.5L338.4 525.7L338.1 536L338 546.3L338.1 556.7L338.5 567L339.2 577.1L340 587.2L341 597.6L342 608.5L343 620L344 633.3L345.2 648.4L346.4 664L347.5 678.6L348.5 691.1L349.2 700L349.8 700L349.2 691.1L348.3 678.6L347.3 664L346.2 648.4L345.2 633.3L344.2 620L343.4 608.5L342.5 597.6L341.6 587.2L340.9 577.1L340.3 567L339.9 556.7L339.8 546.3L339.9 536L340.2 525.7L340.6 515.5L341 505.2L341.4 495L341.8 484.3L342.3 472.9L342.8 461.6L343.3 450.9L343.7 441.5L344.1 434L344.3 428.9L344.3 425.9L344.3 424.2L344.3 423L344.4 421.5L344.6 419L344.9 415.5L345.3 411.7L345.7 407.6L346.2 403.4L346.7 399.2L347.1 395L347.5 391.3L347.8 388L348.2 384.7L348.6 380.9L348.9 376.2L349.3 370L349.6 362.1L350 352.9L350.3 342.7L350.7 331.9L351 321L351.4 310.3L351.7 299.4L352.1 287.8L352.5 276.1L352.9 264.7L353.2 254.2L353.6 245L353.9 237.5L354.3 231.4L354.6 226.1L354.9 221.1L355.1 215.9L355.2 210L355.1 203.5L354.9 196.9L354.6 190L354.2 182.9L353.9 175.4L353.5 167.3L353.2 158.5L352.9 148.9L352.5 138.9L352.1 128.9L351.7 119.1L351.4 110L351 101L350.6 91.8L350.1 82.8L349.7 74.7L349.4 67.8L349.2 62.8Z" fill="#000"/>
<path d="M360.8 88.4L361.1 92.9L361.4 99L361.8 106.3L362.2 114.3L362.5 122.3L362.9 130L363.1 137.6L363.4 145.5L363.7 153.5L363.9 161.4L364.1 169L364.2 176L364.3 182.3L364.4 188.2L364.4 193.7L364.3 199L364.2 204.4L364.1 210L363.9 215.5L363.7 220.7L363.4 225.9L363.1 231.5L362.8 237.8L362.4 245L362.1 253.4L361.8 262.6L361.4 272.6L361.1 282.9L360.7 293.5L360.3 304L359.9 315.1L359.5 327L359.1 339.1L358.6 350.8L358.2 361.3L357.7 370L357.3 376.6L356.9 381.4L356.4 385.1L356 388.3L355.6 391.4L355.1 395L354.7 399.2L354.2 403.4L353.6 407.6L353.2 411.7L352.7 415.5L352.4 419L352.2 421.5L352.1 423L352.1 424.2L352.1 425.9L352.1 428.9L351.9 434L351.7 441.6L351.4 451.2L351 462.1L350.7 473.5L350.3 484.7L350.1 495L349.9 504.2L349.7 513L349.5 521.5L349.5 530.2L349.6 539.3L349.9 549.2L350.5 560L351.5 571.6L352.5 583.6L353.7 595.8L354.9 608L356 620L357.1 632.6L358.3 646.3L359.5 659.9L360.7 672.6L361.6 683.3L362.3 691L362.9 691L362.3 683.3L361.4 672.6L360.4 659.9L359.3 646.3L358.2 632.6L357.2 620L356.2 608L355.1 595.8L354.1 583.6L353.1 571.6L352.3 560L351.7 549.2L351.3 539.3L351.2 530.2L351.3 521.5L351.5 513L351.7 504.2L351.9 495L352.1 484.7L352.4 473.5L352.8 462.1L353.1 451.2L353.4 441.6L353.7 434L353.8 428.9L353.9 425.9L353.9 424.2L353.9 423L354 421.5L354.2 419L354.5 415.5L354.9 411.7L355.4 407.6L355.9 403.4L356.4 399.2L356.9 395L357.3 391.4L357.7 388.3L358.2 385.1L358.6 381.4L359 376.6L359.5 370L359.9 361.3L360.4 350.8L360.8 339.1L361.2 327L361.7 315.1L362.1 304L362.5 293.5L362.8 282.9L363.2 272.6L363.5 262.6L363.9 253.4L364.2 245L364.5 237.8L364.8 231.5L365.2 225.9L365.4 220.7L365.7 215.5L365.9 210L366 204.4L366.1 199L366.1 193.7L366 188.2L365.9 182.3L365.8 176L365.6 169L365.3 161.4L365 153.5L364.7 145.5L364.3 137.6L363.9 130L363.6 122.3L363.1 114.3L362.6 106.3L362.2 99L361.8 92.9L361.6 88.4Z" fill="#000"/>
<circle cx="352.7" cy="175.4" r="7.8" fill="#fff" stroke="#000" stroke-width="1.3"/>
<circle cx="344.3" cy="394.1" r="23.9" fill="#fff" stroke="#000" stroke-width="1.6"/>
<circle cx="328.4" cy="584.5" r="7.8" fill="#fff" stroke="#000" stroke-width="1.3"/>
<path d="M325.3 97.7L328.7 98.3A14 14 0 0 1 328 101.6L324.6 100.9A10.6 10.6 0 0 1 323.6 102.9L326.2 105.2A14 14 0 0 1 324 107.6L321.4 105.4A10.6 10.6 0 0 1 319.6 106.6L320.7 109.9A14 14 0 0 1 317.6 110.9L316.5 107.7A10.6 10.6 0 0 1 314.2 107.8L313.6 111.2A14 14 0 0 1 310.3 110.5L311 107.1A10.6 10.6 0 0 1 309 106.1L306.7 108.7A14 14 0 0 1 304.3 106.5L306.5 103.9A10.6 10.6 0 0 1 305.3 102.1L302 103.2A14 14 0 0 1 301 100.1L304.2 99A10.6 10.6 0 0 1 304.1 96.7L300.7 96.1A14 14 0 0 1 301.4 92.8L304.8 93.5A10.6 10.6 0 0 1 305.8 91.5L303.2 89.2A14 14 0 0 1 305.4 86.8L308 89A10.6 10.6 0 0 1 309.8 87.8L308.7 84.5A14 14 0 0 1 311.8 83.5L312.9 86.7A10.6 10.6 0 0 1 315.2 86.6L315.8 83.2A14 14 0 0 1 319.1 83.9L318.4 87.3A10.6 10.6 0 0 1 320.4 88.3L322.7 85.7A14 14 0 0 1 325.1 87.9L322.9 90.5A10.6 10.6 0 0 1 324.1 92.3L327.4 91.2A14 14 0 0 1 328.4 94.3L325.2 95.4A10.6 10.6 0 0 1 325.3 97.7Z" fill="#fff"/>
<path d="M325.3 97.7L328.7 98.3A14 14 0 0 1 328 101.6L324.6 100.9A10.6 10.6 0 0 1 323.6 102.9L326.2 105.2A14 14 0 0 1 324 107.6L321.4 105.4A10.6 10.6 0 0 1 319.6 106.6L320.7 109.9A14 14 0 0 1 317.6 110.9L316.5 107.7A10.6 10.6 0 0 1 314.2 107.8L313.6 111.2A14 14 0 0 1 310.3 110.5L311 107.1A10.6 10.6 0 0 1 309 106.1L306.7 108.7A14 14 0 0 1 304.3 106.5L306.5 103.9A10.6 10.6 0 0 1 305.3 102.1L302 103.2A14 14 0 0 1 301 100.1L304.2 99A10.6 10.6 0 0 1 304.1 96.7L300.7 96.1A14 14 0 0 1 301.4 92.8L304.8 93.5A10.6 10.6 0 0 1 305.8 91.5L303.2 89.2A14 14 0 0 1 305.4 86.8L308 89A10.6 10.6 0 0 1 309.8 87.8L308.7 84.5A14 14 0 0 1 311.8 83.5L312.9 86.7A10.6 10.6 0 0 1 315.2 86.6L315.8 83.2A14 14 0 0 1 319.1 83.9L318.4 87.3A10.6 10.6 0 0 1 320.4 88.3L322.7 85.7A14 14 0 0 1 325.1 87.9L322.9 90.5A10.6 10.6 0 0 1 324.1 92.3L327.4 91.2A14 14 0 0 1 328.4 94.3L325.2 95.4A10.6 10.6 0 0 1 325.3 97.7Z" fill="#000" stroke="#000" stroke-width="0.6" stroke-linejoin="round"/>
<circle cx="314.7" cy="97.2" r="5" fill="#fff" stroke="#000" stroke-width="0.5"/>
<circle cx="321.7" cy="101" r="1.1" fill="#fff" stroke="#000" stroke-width="0.5"/>
<circle cx="314.9" cy="105.2" r="1.1" fill="#fff" stroke="#000" stroke-width="0.5"/>
<circle cx="307.9" cy="101.4" r="1.1" fill="#fff" stroke="#000" stroke-width="0.5"/>
<circle cx="307.7" cy="93.4" r="1.1" fill="#fff" stroke="#000" stroke-width="0.5"/>
<circle cx="314.5" cy="89.2" r="1.1" fill="#fff" stroke="#000" stroke-width="0.5"/>
<circle cx="321.5" cy="93" r="1.1" fill="#fff" stroke="#000" stroke-width="0.5"/>
<path d="M311.5 166.1L316.9 167.3A27 27 0 0 1 315.9 173.2L310.4 172.5A21.5 21.5 0 0 1 308.4 176.8L312.5 180.6A27 27 0 0 1 308.7 185.1L304.2 181.8A21.5 21.5 0 0 1 300.3 184.5L302 189.8A27 27 0 0 1 296.4 191.8L294.2 186.7A21.5 21.5 0 0 1 289.5 187.1L288.3 192.5A27 27 0 0 1 282.4 191.5L283.1 186A21.5 21.5 0 0 1 278.8 184L275 188.1A27 27 0 0 1 270.5 184.3L273.8 179.8A21.5 21.5 0 0 1 271.1 175.9L265.8 177.6A27 27 0 0 1 263.8 172L268.9 169.8A21.5 21.5 0 0 1 268.5 165.1L263.1 163.9A27 27 0 0 1 264.1 158L269.6 158.7A21.5 21.5 0 0 1 271.6 154.4L267.5 150.6A27 27 0 0 1 271.3 146.1L275.8 149.4A21.5 21.5 0 0 1 279.7 146.7L278 141.4A27 27 0 0 1 283.6 139.4L285.8 144.5A21.5 21.5 0 0 1 290.5 144.1L291.7 138.7A27 27 0 0 1 297.6 139.7L296.9 145.2A21.5 21.5 0 0 1 301.2 147.2L305 143.1A27 27 0 0 1 309.5 146.9L306.2 151.4A21.5 21.5 0 0 1 308.9 155.3L314.2 153.6A27 27 0 0 1 316.2 159.2L311.1 161.4A21.5 21.5 0 0 1 311.5 166.1Z" fill="#fff"/>
<path d="M311.5 166.1L316.9 167.3A27 27 0 0 1 315.9 173.2L310.4 172.5A21.5 21.5 0 0 1 308.4 176.8L312.5 180.6A27 27 0 0 1 308.7 185.1L304.2 181.8A21.5 21.5 0 0 1 300.3 184.5L302 189.8A27 27 0 0 1 296.4 191.8L294.2 186.7A21.5 21.5 0 0 1 289.5 187.1L288.3 192.5A27 27 0 0 1 282.4 191.5L283.1 186A21.5 21.5 0 0 1 278.8 184L275 188.1A27 27 0 0 1 270.5 184.3L273.8 179.8A21.5 21.5 0 0 1 271.1 175.9L265.8 177.6A27 27 0 0 1 263.8 172L268.9 169.8A21.5 21.5 0 0 1 268.5 165.1L263.1 163.9A27 27 0 0 1 264.1 158L269.6 158.7A21.5 21.5 0 0 1 271.6 154.4L267.5 150.6A27 27 0 0 1 271.3 146.1L275.8 149.4A21.5 21.5 0 0 1 279.7 146.7L278 141.4A27 27 0 0 1 283.6 139.4L285.8 144.5A21.5 21.5 0 0 1 290.5 144.1L291.7 138.7A27 27 0 0 1 297.6 139.7L296.9 145.2A21.5 21.5 0 0 1 301.2 147.2L305 143.1A27 27 0 0 1 309.5 146.9L306.2 151.4A21.5 21.5 0 0 1 308.9 155.3L314.2 153.6A27 27 0 0 1 316.2 159.2L311.1 161.4A21.5 21.5 0 0 1 311.5 166.1Z" fill="url(#xDark)" stroke="#000" stroke-width="1.1" stroke-linejoin="round"/>
<circle cx="290" cy="165.6" r="8.4" fill="#fff" stroke="#000" stroke-width="1.1"/>
<circle cx="302.8" cy="174.4" r="2.1" fill="#fff" stroke="#000" stroke-width="1.1"/>
<circle cx="288.8" cy="181.1" r="2.1" fill="#fff" stroke="#000" stroke-width="1.1"/>
<circle cx="276" cy="172.3" r="2.1" fill="#fff" stroke="#000" stroke-width="1.1"/>
<circle cx="277.2" cy="156.8" r="2.1" fill="#fff" stroke="#000" stroke-width="1.1"/>
<circle cx="291.2" cy="150.1" r="2.1" fill="#fff" stroke="#000" stroke-width="1.1"/>
<circle cx="304" cy="158.9" r="2.1" fill="#fff" stroke="#000" stroke-width="1.1"/>
<path d="M371.7 274L375 274.4A32.3 32.3 0 0 1 374.9 276.8L371.6 276.9A29 29 0 0 1 370.9 280.9L374 282.2A32.3 32.3 0 0 1 373.3 284.4L370 283.7A29 29 0 0 1 368.4 287.5L371.1 289.4A32.3 32.3 0 0 1 369.9 291.4L366.9 290A29 29 0 0 1 364.4 293.2L366.6 295.7A32.3 32.3 0 0 1 364.9 297.4L362.4 295.3A29 29 0 0 1 359.2 297.9L360.7 300.8A32.3 32.3 0 0 1 358.7 302.1L356.7 299.4A29 29 0 0 1 353 301.1L353.7 304.4A32.3 32.3 0 0 1 351.5 305.1L350.2 302A29 29 0 0 1 346.2 302.8L346.2 306.1A32.3 32.3 0 0 1 343.8 306.3L343.3 303A29 29 0 0 1 339.2 302.8L338.4 306A32.3 32.3 0 0 1 336.1 305.6L336.3 302.3A29 29 0 0 1 332.4 301.1L330.8 304A32.3 32.3 0 0 1 328.7 303.1L329.7 299.9A29 29 0 0 1 326.2 297.9L324 300.3A32.3 32.3 0 0 1 322.1 298.9L323.9 296.1A29 29 0 0 1 321 293.2L318.2 295.1A32.3 32.3 0 0 1 316.8 293.3L319.2 290.9A29 29 0 0 1 317 287.5L313.9 288.6A32.3 32.3 0 0 1 312.9 286.5L315.8 284.8A29 29 0 0 1 314.5 281L311.2 281.3A32.3 32.3 0 0 1 310.8 279L314 278.1A29 29 0 0 1 313.7 274L310.4 273.6A32.3 32.3 0 0 1 310.5 271.2L313.8 271.1A29 29 0 0 1 314.5 267.1L311.4 265.8A32.3 32.3 0 0 1 312.1 263.6L315.4 264.3A29 29 0 0 1 317 260.5L314.3 258.6A32.3 32.3 0 0 1 315.5 256.6L318.5 258A29 29 0 0 1 321 254.8L318.8 252.3A32.3 32.3 0 0 1 320.5 250.6L323 252.7A29 29 0 0 1 326.2 250.1L324.7 247.2A32.3 32.3 0 0 1 326.7 245.9L328.7 248.6A29 29 0 0 1 332.4 246.9L331.7 243.6A32.3 32.3 0 0 1 333.9 242.9L335.2 246A29 29 0 0 1 339.2 245.2L339.2 241.9A32.3 32.3 0 0 1 341.6 241.7L342.1 245A29 29 0 0 1 346.2 245.2L347 242A32.3 32.3 0 0 1 349.3 242.4L349.1 245.7A29 29 0 0 1 353 246.9L354.6 244A32.3 32.3 0 0 1 356.7 244.9L355.7 248.1A29 29 0 0 1 359.2 250.1L361.4 247.7A32.3 32.3 0 0 1 363.3 249.1L361.5 251.9A29 29 0 0 1 364.4 254.8L367.2 252.9A32.3 32.3 0 0 1 368.6 254.7L366.2 257.1A29 29 0 0 1 368.4 260.5L371.5 259.4A32.3 32.3 0 0 1 372.5 261.5L369.6 263.2A29 29 0 0 1 370.9 267L374.2 266.7A32.3 32.3 0 0 1 374.6 269L371.4 269.9A29 29 0 0 1 371.7 274Z" fill="#fff"/>
<path d="M371.7 274L375 274.4A32.3 32.3 0 0 1 374.9 276.8L371.6 276.9A29 29 0 0 1 370.9 280.9L374 282.2A32.3 32.3 0 0 1 373.3 284.4L370 283.7A29 29 0 0 1 368.4 287.5L371.1 289.4A32.3 32.3 0 0 1 369.9 291.4L366.9 290A29 29 0 0 1 364.4 293.2L366.6 295.7A32.3 32.3 0 0 1 364.9 297.4L362.4 295.3A29 29 0 0 1 359.2 297.9L360.7 300.8A32.3 32.3 0 0 1 358.7 302.1L356.7 299.4A29 29 0 0 1 353 301.1L353.7 304.4A32.3 32.3 0 0 1 351.5 305.1L350.2 302A29 29 0 0 1 346.2 302.8L346.2 306.1A32.3 32.3 0 0 1 343.8 306.3L343.3 303A29 29 0 0 1 339.2 302.8L338.4 306A32.3 32.3 0 0 1 336.1 305.6L336.3 302.3A29 29 0 0 1 332.4 301.1L330.8 304A32.3 32.3 0 0 1 328.7 303.1L329.7 299.9A29 29 0 0 1 326.2 297.9L324 300.3A32.3 32.3 0 0 1 322.1 298.9L323.9 296.1A29 29 0 0 1 321 293.2L318.2 295.1A32.3 32.3 0 0 1 316.8 293.3L319.2 290.9A29 29 0 0 1 317 287.5L313.9 288.6A32.3 32.3 0 0 1 312.9 286.5L315.8 284.8A29 29 0 0 1 314.5 281L311.2 281.3A32.3 32.3 0 0 1 310.8 279L314 278.1A29 29 0 0 1 313.7 274L310.4 273.6A32.3 32.3 0 0 1 310.5 271.2L313.8 271.1A29 29 0 0 1 314.5 267.1L311.4 265.8A32.3 32.3 0 0 1 312.1 263.6L315.4 264.3A29 29 0 0 1 317 260.5L314.3 258.6A32.3 32.3 0 0 1 315.5 256.6L318.5 258A29 29 0 0 1 321 254.8L318.8 252.3A32.3 32.3 0 0 1 320.5 250.6L323 252.7A29 29 0 0 1 326.2 250.1L324.7 247.2A32.3 32.3 0 0 1 326.7 245.9L328.7 248.6A29 29 0 0 1 332.4 246.9L331.7 243.6A32.3 32.3 0 0 1 333.9 242.9L335.2 246A29 29 0 0 1 339.2 245.2L339.2 241.9A32.3 32.3 0 0 1 341.6 241.7L342.1 245A29 29 0 0 1 346.2 245.2L347 242A32.3 32.3 0 0 1 349.3 242.4L349.1 245.7A29 29 0 0 1 353 246.9L354.6 244A32.3 32.3 0 0 1 356.7 244.9L355.7 248.1A29 29 0 0 1 359.2 250.1L361.4 247.7A32.3 32.3 0 0 1 363.3 249.1L361.5 251.9A29 29 0 0 1 364.4 254.8L367.2 252.9A32.3 32.3 0 0 1 368.6 254.7L366.2 257.1A29 29 0 0 1 368.4 260.5L371.5 259.4A32.3 32.3 0 0 1 372.5 261.5L369.6 263.2A29 29 0 0 1 370.9 267L374.2 266.7A32.3 32.3 0 0 1 374.6 269L371.4 269.9A29 29 0 0 1 371.7 274Z" fill="url(#sMid)" stroke="#000" stroke-width="0.9" stroke-linejoin="round"/>
<circle cx="342.7" cy="274" r="4.3" fill="#fff" stroke="#000" stroke-width="0.8"/>
<circle cx="360.8" cy="281.5" r="6.4" fill="#fff" stroke="#000" stroke-width="0.8"/>
<circle cx="345.2" cy="293.4" r="6.4" fill="#fff" stroke="#000" stroke-width="0.8"/>
<circle cx="327.1" cy="285.9" r="6.4" fill="#fff" stroke="#000" stroke-width="0.8"/>
<circle cx="324.6" cy="266.5" r="6.4" fill="#fff" stroke="#000" stroke-width="0.8"/>
<circle cx="340.2" cy="254.6" r="6.4" fill="#fff" stroke="#000" stroke-width="0.8"/>
<circle cx="358.3" cy="262.1" r="6.4" fill="#fff" stroke="#000" stroke-width="0.8"/>
<path d="M388.5 481.9L391.9 483.2A20 20 0 0 1 391.2 486.7L387.5 486.6A16.5 16.5 0 0 1 385.8 490L388.1 492.9A20 20 0 0 1 385.8 495.5L382.6 493.6A16.5 16.5 0 0 1 379.5 495.7L380 499.3A20 20 0 0 1 376.6 500.5L374.9 497.2A16.5 16.5 0 0 1 371.1 497.5L369.8 500.9A20 20 0 0 1 366.3 500.2L366.4 496.5A16.5 16.5 0 0 1 363 494.8L360.1 497.1A20 20 0 0 1 357.5 494.8L359.4 491.6A16.5 16.5 0 0 1 357.3 488.5L353.7 489A20 20 0 0 1 352.5 485.6L355.8 483.9A16.5 16.5 0 0 1 355.5 480.1L352.1 478.8A20 20 0 0 1 352.8 475.3L356.5 475.4A16.5 16.5 0 0 1 358.2 472L355.9 469.1A20 20 0 0 1 358.2 466.5L361.4 468.4A16.5 16.5 0 0 1 364.5 466.3L364 462.7A20 20 0 0 1 367.4 461.5L369.1 464.8A16.5 16.5 0 0 1 372.9 464.5L374.2 461.1A20 20 0 0 1 377.7 461.8L377.6 465.5A16.5 16.5 0 0 1 381 467.2L383.9 464.9A20 20 0 0 1 386.5 467.2L384.6 470.4A16.5 16.5 0 0 1 386.7 473.5L390.3 473A20 20 0 0 1 391.5 476.4L388.2 478.1A16.5 16.5 0 0 1 388.5 481.9Z" fill="#fff"/>
<path d="M388.5 481.9L391.9 483.2A20 20 0 0 1 391.2 486.7L387.5 486.6A16.5 16.5 0 0 1 385.8 490L388.1 492.9A20 20 0 0 1 385.8 495.5L382.6 493.6A16.5 16.5 0 0 1 379.5 495.7L380 499.3A20 20 0 0 1 376.6 500.5L374.9 497.2A16.5 16.5 0 0 1 371.1 497.5L369.8 500.9A20 20 0 0 1 366.3 500.2L366.4 496.5A16.5 16.5 0 0 1 363 494.8L360.1 497.1A20 20 0 0 1 357.5 494.8L359.4 491.6A16.5 16.5 0 0 1 357.3 488.5L353.7 489A20 20 0 0 1 352.5 485.6L355.8 483.9A16.5 16.5 0 0 1 355.5 480.1L352.1 478.8A20 20 0 0 1 352.8 475.3L356.5 475.4A16.5 16.5 0 0 1 358.2 472L355.9 469.1A20 20 0 0 1 358.2 466.5L361.4 468.4A16.5 16.5 0 0 1 364.5 466.3L364 462.7A20 20 0 0 1 367.4 461.5L369.1 464.8A16.5 16.5 0 0 1 372.9 464.5L374.2 461.1A20 20 0 0 1 377.7 461.8L377.6 465.5A16.5 16.5 0 0 1 381 467.2L383.9 464.9A20 20 0 0 1 386.5 467.2L384.6 470.4A16.5 16.5 0 0 1 386.7 473.5L390.3 473A20 20 0 0 1 391.5 476.4L388.2 478.1A16.5 16.5 0 0 1 388.5 481.9Z" fill="url(#hLight)" stroke="#555" stroke-width="0.9" stroke-linejoin="round"/>
<ellipse cx="370" cy="482" rx="11.3" ry="17" fill="#fff" stroke="#555" stroke-width="0.9" transform="rotate(-8 370 482)"/>
<path d="M376.7 449L380 450.6A18.8 18.8 0 0 1 379 453.8L375.4 453.3A15.3 15.3 0 0 1 373.5 456.3L375.6 459.3A18.8 18.8 0 0 1 373.1 461.6L370.2 459.3A15.3 15.3 0 0 1 367.1 461L367.4 464.6A18.8 18.8 0 0 1 364.1 465.3L362.8 462A15.3 15.3 0 0 1 359.3 461.8L357.7 465.1A18.8 18.8 0 0 1 354.5 464.1L355 460.5A15.3 15.3 0 0 1 352 458.6L349 460.7A18.8 18.8 0 0 1 346.7 458.2L349 455.3A15.3 15.3 0 0 1 347.3 452.2L343.7 452.5A18.8 18.8 0 0 1 343 449.2L346.3 447.9A15.3 15.3 0 0 1 346.5 444.4L343.2 442.8A18.8 18.8 0 0 1 344.2 439.6L347.8 440.1A15.3 15.3 0 0 1 349.7 437.1L347.6 434.1A18.8 18.8 0 0 1 350.1 431.8L353 434.1A15.3 15.3 0 0 1 356.1 432.4L355.8 428.8A18.8 18.8 0 0 1 359.1 428.1L360.4 431.4A15.3 15.3 0 0 1 363.9 431.6L365.5 428.3A18.8 18.8 0 0 1 368.7 429.3L368.2 432.9A15.3 15.3 0 0 1 371.2 434.8L374.2 432.7A18.8 18.8 0 0 1 376.5 435.2L374.2 438.1A15.3 15.3 0 0 1 375.9 441.2L379.5 440.9A18.8 18.8 0 0 1 380.2 444.2L376.9 445.5A15.3 15.3 0 0 1 376.7 449Z" fill="#fff"/>
<path d="M376.7 449L380 450.6A18.8 18.8 0 0 1 379 453.8L375.4 453.3A15.3 15.3 0 0 1 373.5 456.3L375.6 459.3A18.8 18.8 0 0 1 373.1 461.6L370.2 459.3A15.3 15.3 0 0 1 367.1 461L367.4 464.6A18.8 18.8 0 0 1 364.1 465.3L362.8 462A15.3 15.3 0 0 1 359.3 461.8L357.7 465.1A18.8 18.8 0 0 1 354.5 464.1L355 460.5A15.3 15.3 0 0 1 352 458.6L349 460.7A18.8 18.8 0 0 1 346.7 458.2L349 455.3A15.3 15.3 0 0 1 347.3 452.2L343.7 452.5A18.8 18.8 0 0 1 343 449.2L346.3 447.9A15.3 15.3 0 0 1 346.5 444.4L343.2 442.8A18.8 18.8 0 0 1 344.2 439.6L347.8 440.1A15.3 15.3 0 0 1 349.7 437.1L347.6 434.1A18.8 18.8 0 0 1 350.1 431.8L353 434.1A15.3 15.3 0 0 1 356.1 432.4L355.8 428.8A18.8 18.8 0 0 1 359.1 428.1L360.4 431.4A15.3 15.3 0 0 1 363.9 431.6L365.5 428.3A18.8 18.8 0 0 1 368.7 429.3L368.2 432.9A15.3 15.3 0 0 1 371.2 434.8L374.2 432.7A18.8 18.8 0 0 1 376.5 435.2L374.2 438.1A15.3 15.3 0 0 1 375.9 441.2L379.5 440.9A18.8 18.8 0 0 1 380.2 444.2L376.9 445.5A15.3 15.3 0 0 1 376.7 449Z" fill="url(#hMedH)" stroke="#333" stroke-width="0.9" stroke-linejoin="round"/>
<circle cx="361.6" cy="446.7" r="5.7" fill="#fff" stroke="#333" stroke-width="0.8"/>
<circle cx="372.7" cy="450.1" r="1.5" fill="#fff" stroke="#333" stroke-width="0.8"/>
<circle cx="364.2" cy="458" r="1.5" fill="#fff" stroke="#333" stroke-width="0.8"/>
<circle cx="353.1" cy="454.6" r="1.5" fill="#fff" stroke="#333" stroke-width="0.8"/>
<circle cx="350.5" cy="443.3" r="1.5" fill="#fff" stroke="#333" stroke-width="0.8"/>
<circle cx="359" cy="435.4" r="1.5" fill="#fff" stroke="#333" stroke-width="0.8"/>
<circle cx="370.1" cy="438.8" r="1.5" fill="#fff" stroke="#333" stroke-width="0.8"/>
<path d="M356.4 482.7L360.9 483.3A49 49 0 0 1 360.8 486.2L356.3 486.4A44.5 44.5 0 0 1 355.4 492L359.7 493.5A49 49 0 0 1 359 496.3L354.5 495.6A44.5 44.5 0 0 1 352.6 500.8L356.4 503.2A49 49 0 0 1 355.2 505.8L350.9 504.2A44.5 44.5 0 0 1 348 508.9L351.2 512A49 49 0 0 1 349.5 514.3L345.6 511.8A44.5 44.5 0 0 1 341.7 515.8L344.3 519.6A49 49 0 0 1 342.1 521.4L338.9 518.2A44.5 44.5 0 0 1 334.2 521.3L335.9 525.5A49 49 0 0 1 333.4 526.8L330.9 523A44.5 44.5 0 0 1 325.7 525.1L326.5 529.6A49 49 0 0 1 323.8 530.3L322.1 526.1A44.5 44.5 0 0 1 316.6 527L316.5 531.6A49 49 0 0 1 313.6 531.8L312.9 527.3A44.5 44.5 0 0 1 307.3 527.1L306.3 531.5A49 49 0 0 1 303.4 531.1L303.6 526.5A44.5 44.5 0 0 1 298.2 525.1L296.3 529.2A49 49 0 0 1 293.6 528.2L294.7 523.9A44.5 44.5 0 0 1 289.7 521.4L286.9 525A49 49 0 0 1 284.5 523.4L286.6 519.4A44.5 44.5 0 0 1 282.2 515.9L278.7 518.9A49 49 0 0 1 276.7 516.9L279.5 513.3A44.5 44.5 0 0 1 275.9 509L272 511.2A49 49 0 0 1 270.4 508.8L273.9 505.9A44.5 44.5 0 0 1 271.3 501L266.9 502.3A49 49 0 0 1 265.9 499.6L269.9 497.5A44.5 44.5 0 0 1 268.4 492.1L263.9 492.5A49 49 0 0 1 263.4 489.6L267.8 488.5A44.5 44.5 0 0 1 267.4 482.9L262.9 482.3A49 49 0 0 1 263 479.4L267.5 479.2A44.5 44.5 0 0 1 268.4 473.6L264.1 472.1A49 49 0 0 1 264.8 469.3L269.3 470A44.5 44.5 0 0 1 271.2 464.8L267.4 462.4A49 49 0 0 1 268.6 459.8L272.9 461.4A44.5 44.5 0 0 1 275.8 456.7L272.6 453.6A49 49 0 0 1 274.3 451.3L278.2 453.8A44.5 44.5 0 0 1 282.1 449.8L279.5 446A49 49 0 0 1 281.7 444.2L284.9 447.4A44.5 44.5 0 0 1 289.6 444.3L287.9 440.1A49 49 0 0 1 290.4 438.8L292.9 442.6A44.5 44.5 0 0 1 298.1 440.5L297.3 436A49 49 0 0 1 300 435.3L301.7 439.5A44.5 44.5 0 0 1 307.2 438.6L307.3 434A49 49 0 0 1 310.2 433.8L310.9 438.3A44.5 44.5 0 0 1 316.5 438.5L317.5 434.1A49 49 0 0 1 320.4 434.5L320.2 439.1A44.5 44.5 0 0 1 325.6 440.5L327.5 436.4A49 49 0 0 1 330.2 437.4L329.1 441.7A44.5 44.5 0 0 1 334.1 444.2L336.9 440.6A49 49 0 0 1 339.3 442.2L337.2 446.2A44.5 44.5 0 0 1 341.6 449.7L345.1 446.7A49 49 0 0 1 347.1 448.7L344.3 452.3A44.5 44.5 0 0 1 347.9 456.6L351.8 454.4A49 49 0 0 1 353.4 456.8L349.9 459.7A44.5 44.5 0 0 1 352.5 464.6L356.9 463.3A49 49 0 0 1 357.9 466L353.9 468.1A44.5 44.5 0 0 1 355.4 473.5L359.9 473.1A49 49 0 0 1 360.4 476L356 477.1A44.5 44.5 0 0 1 356.4 482.7Z" fill="#fff"/>
<path d="M356.4 482.7L360.9 483.3A49 49 0 0 1 360.8 486.2L356.3 486.4A44.5 44.5 0 0 1 355.4 492L359.7 493.5A49 49 0 0 1 359 496.3L354.5 495.6A44.5 44.5 0 0 1 352.6 500.8L356.4 503.2A49 49 0 0 1 355.2 505.8L350.9 504.2A44.5 44.5 0 0 1 348 508.9L351.2 512A49 49 0 0 1 349.5 514.3L345.6 511.8A44.5 44.5 0 0 1 341.7 515.8L344.3 519.6A49 49 0 0 1 342.1 521.4L338.9 518.2A44.5 44.5 0 0 1 334.2 521.3L335.9 525.5A49 49 0 0 1 333.4 526.8L330.9 523A44.5 44.5 0 0 1 325.7 525.1L326.5 529.6A49 49 0 0 1 323.8 530.3L322.1 526.1A44.5 44.5 0 0 1 316.6 527L316.5 531.6A49 49 0 0 1 313.6 531.8L312.9 527.3A44.5 44.5 0 0 1 307.3 527.1L306.3 531.5A49 49 0 0 1 303.4 531.1L303.6 526.5A44.5 44.5 0 0 1 298.2 525.1L296.3 529.2A49 49 0 0 1 293.6 528.2L294.7 523.9A44.5 44.5 0 0 1 289.7 521.4L286.9 525A49 49 0 0 1 284.5 523.4L286.6 519.4A44.5 44.5 0 0 1 282.2 515.9L278.7 518.9A49 49 0 0 1 276.7 516.9L279.5 513.3A44.5 44.5 0 0 1 275.9 509L272 511.2A49 49 0 0 1 270.4 508.8L273.9 505.9A44.5 44.5 0 0 1 271.3 501L266.9 502.3A49 49 0 0 1 265.9 499.6L269.9 497.5A44.5 44.5 0 0 1 268.4 492.1L263.9 492.5A49 49 0 0 1 263.4 489.6L267.8 488.5A44.5 44.5 0 0 1 267.4 482.9L262.9 482.3A49 49 0 0 1 263 479.4L267.5 479.2A44.5 44.5 0 0 1 268.4 473.6L264.1 472.1A49 49 0 0 1 264.8 469.3L269.3 470A44.5 44.5 0 0 1 271.2 464.8L267.4 462.4A49 49 0 0 1 268.6 459.8L272.9 461.4A44.5 44.5 0 0 1 275.8 456.7L272.6 453.6A49 49 0 0 1 274.3 451.3L278.2 453.8A44.5 44.5 0 0 1 282.1 449.8L279.5 446A49 49 0 0 1 281.7 444.2L284.9 447.4A44.5 44.5 0 0 1 289.6 444.3L287.9 440.1A49 49 0 0 1 290.4 438.8L292.9 442.6A44.5 44.5 0 0 1 298.1 440.5L297.3 436A49 49 0 0 1 300 435.3L301.7 439.5A44.5 44.5 0 0 1 307.2 438.6L307.3 434A49 49 0 0 1 310.2 433.8L310.9 438.3A44.5 44.5 0 0 1 316.5 438.5L317.5 434.1A49 49 0 0 1 320.4 434.5L320.2 439.1A44.5 44.5 0 0 1 325.6 440.5L327.5 436.4A49 49 0 0 1 330.2 437.4L329.1 441.7A44.5 44.5 0 0 1 334.1 444.2L336.9 440.6A49 49 0 0 1 339.3 442.2L337.2 446.2A44.5 44.5 0 0 1 341.6 449.7L345.1 446.7A49 49 0 0 1 347.1 448.7L344.3 452.3A44.5 44.5 0 0 1 347.9 456.6L351.8 454.4A49 49 0 0 1 353.4 456.8L349.9 459.7A44.5 44.5 0 0 1 352.5 464.6L356.9 463.3A49 49 0 0 1 357.9 466L353.9 468.1A44.5 44.5 0 0 1 355.4 473.5L359.9 473.1A49 49 0 0 1 360.4 476L356 477.1A44.5 44.5 0 0 1 356.4 482.7Z" fill="url(#sBig)" stroke="#000" stroke-width="1" stroke-linejoin="round"/>
<circle cx="311.9" cy="482.8" r="6.5" fill="#fff" stroke="#000" stroke-width="1"/>
<circle cx="303.3" cy="456.4" r="10.4" fill="#fff" stroke="#000" stroke-width="1"/>
<circle cx="330.5" cy="462.1" r="10.4" fill="#fff" stroke="#000" stroke-width="1"/>
<circle cx="339.1" cy="488.6" r="10.4" fill="#fff" stroke="#000" stroke-width="1"/>
<circle cx="320.5" cy="509.2" r="10.4" fill="#fff" stroke="#000" stroke-width="1"/>
<circle cx="293.3" cy="503.5" r="10.4" fill="#fff" stroke="#000" stroke-width="1"/>
<circle cx="284.7" cy="477" r="10.4" fill="#fff" stroke="#000" stroke-width="1"/>
<path d="M343.3 540.5L347.3 541.6A20 20 0 0 1 346.7 545.1L342.6 545.1A16 16 0 0 1 341.1 548.4L344 551.4A20 20 0 0 1 341.8 554.2L338.2 552.1A16 16 0 0 1 335.3 554.3L336.2 558.3A20 20 0 0 1 332.9 559.6L330.9 556A16 16 0 0 1 327.2 556.4L326.1 560.4A20 20 0 0 1 322.6 559.8L322.6 555.7A16 16 0 0 1 319.3 554.2L316.3 557.1A20 20 0 0 1 313.5 554.9L315.6 551.3A16 16 0 0 1 313.4 548.4L309.4 549.3A20 20 0 0 1 308.1 546L311.7 544A16 16 0 0 1 311.3 540.3L307.3 539.2A20 20 0 0 1 307.9 535.7L312 535.7A16 16 0 0 1 313.5 532.4L310.6 529.4A20 20 0 0 1 312.8 526.6L316.4 528.7A16 16 0 0 1 319.3 526.5L318.4 522.5A20 20 0 0 1 321.7 521.2L323.7 524.8A16 16 0 0 1 327.4 524.4L328.5 520.4A20 20 0 0 1 332 521L332 525.1A16 16 0 0 1 335.3 526.6L338.3 523.7A20 20 0 0 1 341.1 525.9L339 529.5A16 16 0 0 1 341.2 532.4L345.2 531.5A20 20 0 0 1 346.5 534.8L342.9 536.8A16 16 0 0 1 343.3 540.5Z" fill="#fff"/>
<path d="M343.3 540.5L347.3 541.6A20 20 0 0 1 346.7 545.1L342.6 545.1A16 16 0 0 1 341.1 548.4L344 551.4A20 20 0 0 1 341.8 554.2L338.2 552.1A16 16 0 0 1 335.3 554.3L336.2 558.3A20 20 0 0 1 332.9 559.6L330.9 556A16 16 0 0 1 327.2 556.4L326.1 560.4A20 20 0 0 1 322.6 559.8L322.6 555.7A16 16 0 0 1 319.3 554.2L316.3 557.1A20 20 0 0 1 313.5 554.9L315.6 551.3A16 16 0 0 1 313.4 548.4L309.4 549.3A20 20 0 0 1 308.1 546L311.7 544A16 16 0 0 1 311.3 540.3L307.3 539.2A20 20 0 0 1 307.9 535.7L312 535.7A16 16 0 0 1 313.5 532.4L310.6 529.4A20 20 0 0 1 312.8 526.6L316.4 528.7A16 16 0 0 1 319.3 526.5L318.4 522.5A20 20 0 0 1 321.7 521.2L323.7 524.8A16 16 0 0 1 327.4 524.4L328.5 520.4A20 20 0 0 1 332 521L332 525.1A16 16 0 0 1 335.3 526.6L338.3 523.7A20 20 0 0 1 341.1 525.9L339 529.5A16 16 0 0 1 341.2 532.4L345.2 531.5A20 20 0 0 1 346.5 534.8L342.9 536.8A16 16 0 0 1 343.3 540.5Z" fill="url(#xMed)" stroke="#222" stroke-width="0.9" stroke-linejoin="round"/>
<circle cx="327.3" cy="540.4" r="6.5" fill="#fff" stroke="#222" stroke-width="0.9"/>
<circle cx="338.6" cy="542.7" r="1.6" fill="#fff" stroke="#222" stroke-width="0.9"/>
<circle cx="331" cy="551.3" r="1.6" fill="#fff" stroke="#222" stroke-width="0.9"/>
<circle cx="319.7" cy="549" r="1.6" fill="#fff" stroke="#222" stroke-width="0.9"/>
<circle cx="316" cy="538.1" r="1.6" fill="#fff" stroke="#222" stroke-width="0.9"/>
<circle cx="323.6" cy="529.5" r="1.6" fill="#fff" stroke="#222" stroke-width="0.9"/>
<circle cx="334.9" cy="531.8" r="1.6" fill="#fff" stroke="#222" stroke-width="0.9"/>
<path d="M385.2 520.7L389.9 521.5A29.3 29.3 0 0 1 389.2 527.9L384.5 527.8A24.6 24.6 0 0 1 382.9 532.2L386.7 535.1A29.3 29.3 0 0 1 383.1 540.6L379 538.2A24.6 24.6 0 0 1 375.5 541.4L377.5 545.7A29.3 29.3 0 0 1 371.8 548.9L369.2 544.8A24.6 24.6 0 0 1 364.7 546.1L364.5 550.8A29.3 29.3 0 0 1 358 551L357.6 546.2A24.6 24.6 0 0 1 352.9 545.2L350.5 549.3A29.3 29.3 0 0 1 344.7 546.4L346.6 542A24.6 24.6 0 0 1 342.9 538.9L338.9 541.5A29.3 29.3 0 0 1 335.1 536.2L338.8 533.2A24.6 24.6 0 0 1 337 528.8L332.2 529.1A29.3 29.3 0 0 1 331.3 522.7L336 521.7A24.6 24.6 0 0 1 336.5 517L332.1 515.1A29.3 29.3 0 0 1 334.3 509L338.9 510.3A24.6 24.6 0 0 1 341.5 506.3L338.5 502.6A29.3 29.3 0 0 1 343.2 498.2L346.7 501.5A24.6 24.6 0 0 1 350.9 499.2L349.9 494.5A29.3 29.3 0 0 1 356.2 492.8L357.7 497.4A24.6 24.6 0 0 1 362.5 497.3L363.8 492.7A29.3 29.3 0 0 1 370.1 494.1L369.4 498.8A24.6 24.6 0 0 1 373.6 500.9L377 497.5A29.3 29.3 0 0 1 381.9 501.7L379.1 505.5A24.6 24.6 0 0 1 381.8 509.4L386.4 507.9A29.3 29.3 0 0 1 388.8 513.9L384.5 516A24.6 24.6 0 0 1 385.2 520.7Z" fill="#fff"/>
<path d="M385.2 520.7L389.9 521.5A29.3 29.3 0 0 1 389.2 527.9L384.5 527.8A24.6 24.6 0 0 1 382.9 532.2L386.7 535.1A29.3 29.3 0 0 1 383.1 540.6L379 538.2A24.6 24.6 0 0 1 375.5 541.4L377.5 545.7A29.3 29.3 0 0 1 371.8 548.9L369.2 544.8A24.6 24.6 0 0 1 364.7 546.1L364.5 550.8A29.3 29.3 0 0 1 358 551L357.6 546.2A24.6 24.6 0 0 1 352.9 545.2L350.5 549.3A29.3 29.3 0 0 1 344.7 546.4L346.6 542A24.6 24.6 0 0 1 342.9 538.9L338.9 541.5A29.3 29.3 0 0 1 335.1 536.2L338.8 533.2A24.6 24.6 0 0 1 337 528.8L332.2 529.1A29.3 29.3 0 0 1 331.3 522.7L336 521.7A24.6 24.6 0 0 1 336.5 517L332.1 515.1A29.3 29.3 0 0 1 334.3 509L338.9 510.3A24.6 24.6 0 0 1 341.5 506.3L338.5 502.6A29.3 29.3 0 0 1 343.2 498.2L346.7 501.5A24.6 24.6 0 0 1 350.9 499.2L349.9 494.5A29.3 29.3 0 0 1 356.2 492.8L357.7 497.4A24.6 24.6 0 0 1 362.5 497.3L363.8 492.7A29.3 29.3 0 0 1 370.1 494.1L369.4 498.8A24.6 24.6 0 0 1 373.6 500.9L377 497.5A29.3 29.3 0 0 1 381.9 501.7L379.1 505.5A24.6 24.6 0 0 1 381.8 509.4L386.4 507.9A29.3 29.3 0 0 1 388.8 513.9L384.5 516A24.6 24.6 0 0 1 385.2 520.7Z" fill="url(#bdots)" stroke="#000" stroke-width="1.2" stroke-linejoin="round"/>
<circle cx="360.6" cy="521.8" r="9.6" fill="#fff" stroke="#000" stroke-width="1.2"/>
<circle cx="360.6" cy="503.5" r="3.4" fill="#fff" stroke="#000" stroke-width="1.2"/>
<circle cx="378.9" cy="521.8" r="3.4" fill="#fff" stroke="#000" stroke-width="1.2"/>
<circle cx="360.6" cy="540.1" r="3.4" fill="#fff" stroke="#000" stroke-width="1.2"/>
<circle cx="342.3" cy="521.8" r="3.4" fill="#fff" stroke="#000" stroke-width="1.2"/>
<circle cx="373" cy="509.4" r="1.9" fill="#fff" stroke="#000" stroke-width="1.2"/>
<circle cx="373" cy="534.2" r="1.9" fill="#fff" stroke="#000" stroke-width="1.2"/>
<circle cx="348.2" cy="534.2" r="1.9" fill="#fff" stroke="#000" stroke-width="1.2"/>
<circle cx="348.2" cy="509.4" r="1.9" fill="#fff" stroke="#000" stroke-width="1.2"/>
<path d="M242.6 580.3L246.6 581.3A21 21 0 0 1 246.2 585L242.1 585.2A17 17 0 0 1 240.7 588.9L243.7 591.8A21 21 0 0 1 241.5 594.8L237.8 592.9A17 17 0 0 1 234.8 595.4L235.9 599.4A21 21 0 0 1 232.5 600.9L230.2 597.5A17 17 0 0 1 226.4 598.1L225.4 602.1A21 21 0 0 1 221.7 601.7L221.5 597.6A17 17 0 0 1 217.8 596.2L214.9 599.2A21 21 0 0 1 211.9 597L213.8 593.3A17 17 0 0 1 211.3 590.3L207.3 591.4A21 21 0 0 1 205.8 588L209.2 585.7A17 17 0 0 1 208.6 581.9L204.6 580.9A21 21 0 0 1 205 577.2L209.1 577A17 17 0 0 1 210.5 573.3L207.5 570.4A21 21 0 0 1 209.7 567.4L213.4 569.3A17 17 0 0 1 216.4 566.8L215.3 562.8A21 21 0 0 1 218.7 561.3L221 564.7A17 17 0 0 1 224.8 564.1L225.8 560.1A21 21 0 0 1 229.5 560.5L229.7 564.6A17 17 0 0 1 233.4 566L236.3 563A21 21 0 0 1 239.3 565.2L237.4 568.9A17 17 0 0 1 239.9 571.9L243.9 570.8A21 21 0 0 1 245.4 574.2L242 576.5A17 17 0 0 1 242.6 580.3Z" fill="#fff"/>
<path d="M242.6 580.3L246.6 581.3A21 21 0 0 1 246.2 585L242.1 585.2A17 17 0 0 1 240.7 588.9L243.7 591.8A21 21 0 0 1 241.5 594.8L237.8 592.9A17 17 0 0 1 234.8 595.4L235.9 599.4A21 21 0 0 1 232.5 600.9L230.2 597.5A17 17 0 0 1 226.4 598.1L225.4 602.1A21 21 0 0 1 221.7 601.7L221.5 597.6A17 17 0 0 1 217.8 596.2L214.9 599.2A21 21 0 0 1 211.9 597L213.8 593.3A17 17 0 0 1 211.3 590.3L207.3 591.4A21 21 0 0 1 205.8 588L209.2 585.7A17 17 0 0 1 208.6 581.9L204.6 580.9A21 21 0 0 1 205 577.2L209.1 577A17 17 0 0 1 210.5 573.3L207.5 570.4A21 21 0 0 1 209.7 567.4L213.4 569.3A17 17 0 0 1 216.4 566.8L215.3 562.8A21 21 0 0 1 218.7 561.3L221 564.7A17 17 0 0 1 224.8 564.1L225.8 560.1A21 21 0 0 1 229.5 560.5L229.7 564.6A17 17 0 0 1 233.4 566L236.3 563A21 21 0 0 1 239.3 565.2L237.4 568.9A17 17 0 0 1 239.9 571.9L243.9 570.8A21 21 0 0 1 245.4 574.2L242 576.5A17 17 0 0 1 242.6 580.3Z" fill="url(#hLightH)" stroke="#444" stroke-width="0.8" stroke-linejoin="round"/>
<circle cx="225.6" cy="581.1" r="6.7" fill="#fff" stroke="#444" stroke-width="0.8"/>
<circle cx="237.1" cy="586" r="1.8" fill="#fff" stroke="#444" stroke-width="0.8"/>
<circle cx="227.1" cy="593.5" r="1.8" fill="#fff" stroke="#444" stroke-width="0.8"/>
<circle cx="215.6" cy="588.6" r="1.8" fill="#fff" stroke="#444" stroke-width="0.8"/>
<circle cx="214.1" cy="576.2" r="1.8" fill="#fff" stroke="#444" stroke-width="0.8"/>
<circle cx="224.1" cy="568.7" r="1.8" fill="#fff" stroke="#444" stroke-width="0.8"/>
<circle cx="235.6" cy="573.6" r="1.8" fill="#fff" stroke="#444" stroke-width="0.8"/>
<path d="M282.7 579.3L286.3 581.1A20.4 20.4 0 0 1 285.3 584.5L281.3 583.9A16.5 16.5 0 0 1 279.3 587.1L281.5 590.5A20.4 20.4 0 0 1 278.9 592.9L275.7 590.4A16.5 16.5 0 0 1 272.4 592.2L272.7 596.2A20.4 20.4 0 0 1 269.1 597L267.7 593.3A16.5 16.5 0 0 1 263.9 593.1L262.1 596.7A20.4 20.4 0 0 1 258.7 595.7L259.3 591.7A16.5 16.5 0 0 1 256.1 589.7L252.7 591.9A20.4 20.4 0 0 1 250.3 589.3L252.8 586.1A16.5 16.5 0 0 1 251 582.8L247 583.1A20.4 20.4 0 0 1 246.2 579.5L249.9 578.1A16.5 16.5 0 0 1 250.1 574.3L246.5 572.5A20.4 20.4 0 0 1 247.5 569.1L251.5 569.7A16.5 16.5 0 0 1 253.5 566.5L251.3 563.1A20.4 20.4 0 0 1 253.9 560.7L257.1 563.2A16.5 16.5 0 0 1 260.4 561.4L260.1 557.4A20.4 20.4 0 0 1 263.7 556.6L265.1 560.3A16.5 16.5 0 0 1 268.9 560.5L270.7 556.9A20.4 20.4 0 0 1 274.1 557.9L273.5 561.9A16.5 16.5 0 0 1 276.7 563.9L280.1 561.7A20.4 20.4 0 0 1 282.5 564.3L280 567.5A16.5 16.5 0 0 1 281.8 570.8L285.8 570.5A20.4 20.4 0 0 1 286.6 574.1L282.9 575.5A16.5 16.5 0 0 1 282.7 579.3Z" fill="#fff"/>
<path d="M282.7 579.3L286.3 581.1A20.4 20.4 0 0 1 285.3 584.5L281.3 583.9A16.5 16.5 0 0 1 279.3 587.1L281.5 590.5A20.4 20.4 0 0 1 278.9 592.9L275.7 590.4A16.5 16.5 0 0 1 272.4 592.2L272.7 596.2A20.4 20.4 0 0 1 269.1 597L267.7 593.3A16.5 16.5 0 0 1 263.9 593.1L262.1 596.7A20.4 20.4 0 0 1 258.7 595.7L259.3 591.7A16.5 16.5 0 0 1 256.1 589.7L252.7 591.9A20.4 20.4 0 0 1 250.3 589.3L252.8 586.1A16.5 16.5 0 0 1 251 582.8L247 583.1A20.4 20.4 0 0 1 246.2 579.5L249.9 578.1A16.5 16.5 0 0 1 250.1 574.3L246.5 572.5A20.4 20.4 0 0 1 247.5 569.1L251.5 569.7A16.5 16.5 0 0 1 253.5 566.5L251.3 563.1A20.4 20.4 0 0 1 253.9 560.7L257.1 563.2A16.5 16.5 0 0 1 260.4 561.4L260.1 557.4A20.4 20.4 0 0 1 263.7 556.6L265.1 560.3A16.5 16.5 0 0 1 268.9 560.5L270.7 556.9A20.4 20.4 0 0 1 274.1 557.9L273.5 561.9A16.5 16.5 0 0 1 276.7 563.9L280.1 561.7A20.4 20.4 0 0 1 282.5 564.3L280 567.5A16.5 16.5 0 0 1 281.8 570.8L285.8 570.5A20.4 20.4 0 0 1 286.6 574.1L282.9 575.5A16.5 16.5 0 0 1 282.7 579.3Z" fill="url(#xMed)" stroke="#222" stroke-width="0.9" stroke-linejoin="round"/>
<circle cx="266.4" cy="576.8" r="7.2" fill="#fff" stroke="#222" stroke-width="0.9"/>
<circle cx="278.8" cy="578" r="1.6" fill="#fff" stroke="#222" stroke-width="0.9"/>
<circle cx="271.5" cy="588.2" r="1.6" fill="#fff" stroke="#222" stroke-width="0.9"/>
<circle cx="259.1" cy="586.9" r="1.6" fill="#fff" stroke="#222" stroke-width="0.9"/>
<circle cx="254" cy="575.6" r="1.6" fill="#fff" stroke="#222" stroke-width="0.9"/>
<circle cx="261.3" cy="565.4" r="1.6" fill="#fff" stroke="#222" stroke-width="0.9"/>
<circle cx="273.7" cy="566.7" r="1.6" fill="#fff" stroke="#222" stroke-width="0.9"/>
<path d="M314.4 644.9L317.3 645.5A20.4 20.4 0 0 1 317 647.9L314.1 648A17.5 17.5 0 0 1 313.3 650.9L315.8 652.5A20.4 20.4 0 0 1 314.7 654.6L311.9 653.6A17.5 17.5 0 0 1 310.2 656.1L312 658.4A20.4 20.4 0 0 1 310.2 660.1L308 658.2A17.5 17.5 0 0 1 305.5 660L306.4 662.8A20.4 20.4 0 0 1 304.2 663.8L302.7 661.2A17.5 17.5 0 0 1 299.7 662L299.6 664.9A20.4 20.4 0 0 1 297.2 665.1L296.7 662.2A17.5 17.5 0 0 1 293.6 661.9L292.5 664.6A20.4 20.4 0 0 1 290.2 664L290.7 661.1A17.5 17.5 0 0 1 288 659.7L286 661.9A20.4 20.4 0 0 1 284 660.5L285.5 658A17.5 17.5 0 0 1 283.4 655.8L280.8 657.2A20.4 20.4 0 0 1 279.4 655.2L281.6 653.3A17.5 17.5 0 0 1 280.4 650.5L277.5 650.9A20.4 20.4 0 0 1 276.9 648.5L279.6 647.5A17.5 17.5 0 0 1 279.4 644.5L276.5 643.9A20.4 20.4 0 0 1 276.8 641.5L279.7 641.4A17.5 17.5 0 0 1 280.5 638.5L278 636.9A20.4 20.4 0 0 1 279.1 634.8L281.9 635.8A17.5 17.5 0 0 1 283.6 633.3L281.8 631A20.4 20.4 0 0 1 283.6 629.3L285.8 631.2A17.5 17.5 0 0 1 288.3 629.4L287.4 626.6A20.4 20.4 0 0 1 289.6 625.6L291.1 628.2A17.5 17.5 0 0 1 294.1 627.4L294.2 624.5A20.4 20.4 0 0 1 296.6 624.3L297.1 627.2A17.5 17.5 0 0 1 300.2 627.5L301.3 624.8A20.4 20.4 0 0 1 303.6 625.4L303.1 628.3A17.5 17.5 0 0 1 305.8 629.7L307.8 627.5A20.4 20.4 0 0 1 309.8 628.9L308.3 631.4A17.5 17.5 0 0 1 310.4 633.6L313 632.2A20.4 20.4 0 0 1 314.4 634.2L312.2 636.1A17.5 17.5 0 0 1 313.4 638.9L316.3 638.5A20.4 20.4 0 0 1 316.9 640.9L314.2 641.9A17.5 17.5 0 0 1 314.4 644.9Z" fill="#fff"/>
<path d="M314.4 644.9L317.3 645.5A20.4 20.4 0 0 1 317 647.9L314.1 648A17.5 17.5 0 0 1 313.3 650.9L315.8 652.5A20.4 20.4 0 0 1 314.7 654.6L311.9 653.6A17.5 17.5 0 0 1 310.2 656.1L312 658.4A20.4 20.4 0 0 1 310.2 660.1L308 658.2A17.5 17.5 0 0 1 305.5 660L306.4 662.8A20.4 20.4 0 0 1 304.2 663.8L302.7 661.2A17.5 17.5 0 0 1 299.7 662L299.6 664.9A20.4 20.4 0 0 1 297.2 665.1L296.7 662.2A17.5 17.5 0 0 1 293.6 661.9L292.5 664.6A20.4 20.4 0 0 1 290.2 664L290.7 661.1A17.5 17.5 0 0 1 288 659.7L286 661.9A20.4 20.4 0 0 1 284 660.5L285.5 658A17.5 17.5 0 0 1 283.4 655.8L280.8 657.2A20.4 20.4 0 0 1 279.4 655.2L281.6 653.3A17.5 17.5 0 0 1 280.4 650.5L277.5 650.9A20.4 20.4 0 0 1 276.9 648.5L279.6 647.5A17.5 17.5 0 0 1 279.4 644.5L276.5 643.9A20.4 20.4 0 0 1 276.8 641.5L279.7 641.4A17.5 17.5 0 0 1 280.5 638.5L278 636.9A20.4 20.4 0 0 1 279.1 634.8L281.9 635.8A17.5 17.5 0 0 1 283.6 633.3L281.8 631A20.4 20.4 0 0 1 283.6 629.3L285.8 631.2A17.5 17.5 0 0 1 288.3 629.4L287.4 626.6A20.4 20.4 0 0 1 289.6 625.6L291.1 628.2A17.5 17.5 0 0 1 294.1 627.4L294.2 624.5A20.4 20.4 0 0 1 296.6 624.3L297.1 627.2A17.5 17.5 0 0 1 300.2 627.5L301.3 624.8A20.4 20.4 0 0 1 303.6 625.4L303.1 628.3A17.5 17.5 0 0 1 305.8 629.7L307.8 627.5A20.4 20.4 0 0 1 309.8 628.9L308.3 631.4A17.5 17.5 0 0 1 310.4 633.6L313 632.2A20.4 20.4 0 0 1 314.4 634.2L312.2 636.1A17.5 17.5 0 0 1 313.4 638.9L316.3 638.5A20.4 20.4 0 0 1 316.9 640.9L314.2 641.9A17.5 17.5 0 0 1 314.4 644.9Z" fill="url(#sSmallV)" stroke="#444" stroke-width="0.7" stroke-linejoin="round"/>
<circle cx="296.9" cy="644.7" r="2.4" fill="#fff" stroke="#444" stroke-width="0.7"/>
<circle cx="307" cy="647.8" r="4.2" fill="#fff" stroke="#444" stroke-width="0.7"/>
<circle cx="297.1" cy="655.3" r="4.2" fill="#fff" stroke="#444" stroke-width="0.7"/>
<circle cx="286.9" cy="648.1" r="4.2" fill="#fff" stroke="#444" stroke-width="0.7"/>
<circle cx="290.5" cy="636.2" r="4.2" fill="#fff" stroke="#444" stroke-width="0.7"/>
<circle cx="303" cy="636" r="4.2" fill="#fff" stroke="#444" stroke-width="0.7"/>
<path d="M312.4 607.4L318.4 608.9A27.6 27.6 0 0 1 317.2 614.6L311.1 613.6A21.5 21.5 0 0 1 308.9 618L313.4 622.3A27.6 27.6 0 0 1 309.6 626.6L304.8 622.7A21.5 21.5 0 0 1 300.6 625.5L302.4 631.4A27.6 27.6 0 0 1 296.9 633.2L294.7 627.5A21.5 21.5 0 0 1 289.8 627.8L288.3 633.8A27.6 27.6 0 0 1 282.6 632.6L283.6 626.5A21.5 21.5 0 0 1 279.2 624.3L274.9 628.8A27.6 27.6 0 0 1 270.6 625L274.5 620.2A21.5 21.5 0 0 1 271.7 616L265.8 617.8A27.6 27.6 0 0 1 264 612.3L269.7 610.1A21.5 21.5 0 0 1 269.4 605.2L263.4 603.7A27.6 27.6 0 0 1 264.6 598L270.7 599A21.5 21.5 0 0 1 272.9 594.6L268.4 590.3A27.6 27.6 0 0 1 272.2 586L277 589.9A21.5 21.5 0 0 1 281.2 587.1L279.4 581.2A27.6 27.6 0 0 1 284.9 579.4L287.1 585.1A21.5 21.5 0 0 1 292 584.8L293.5 578.8A27.6 27.6 0 0 1 299.2 580L298.2 586.1A21.5 21.5 0 0 1 302.6 588.3L306.9 583.8A27.6 27.6 0 0 1 311.2 587.6L307.3 592.4A21.5 21.5 0 0 1 310.1 596.6L316 594.8A27.6 27.6 0 0 1 317.8 600.3L312.1 602.5A21.5 21.5 0 0 1 312.4 607.4Z" fill="#fff"/>
<path d="M312.4 607.4L318.4 608.9A27.6 27.6 0 0 1 317.2 614.6L311.1 613.6A21.5 21.5 0 0 1 308.9 618L313.4 622.3A27.6 27.6 0 0 1 309.6 626.6L304.8 622.7A21.5 21.5 0 0 1 300.6 625.5L302.4 631.4A27.6 27.6 0 0 1 296.9 633.2L294.7 627.5A21.5 21.5 0 0 1 289.8 627.8L288.3 633.8A27.6 27.6 0 0 1 282.6 632.6L283.6 626.5A21.5 21.5 0 0 1 279.2 624.3L274.9 628.8A27.6 27.6 0 0 1 270.6 625L274.5 620.2A21.5 21.5 0 0 1 271.7 616L265.8 617.8A27.6 27.6 0 0 1 264 612.3L269.7 610.1A21.5 21.5 0 0 1 269.4 605.2L263.4 603.7A27.6 27.6 0 0 1 264.6 598L270.7 599A21.5 21.5 0 0 1 272.9 594.6L268.4 590.3A27.6 27.6 0 0 1 272.2 586L277 589.9A21.5 21.5 0 0 1 281.2 587.1L279.4 581.2A27.6 27.6 0 0 1 284.9 579.4L287.1 585.1A21.5 21.5 0 0 1 292 584.8L293.5 578.8A27.6 27.6 0 0 1 299.2 580L298.2 586.1A21.5 21.5 0 0 1 302.6 588.3L306.9 583.8A27.6 27.6 0 0 1 311.2 587.6L307.3 592.4A21.5 21.5 0 0 1 310.1 596.6L316 594.8A27.6 27.6 0 0 1 317.8 600.3L312.1 602.5A21.5 21.5 0 0 1 312.4 607.4Z" fill="url(#stipL)" stroke="#777" stroke-width="0.8" stroke-linejoin="round"/>
<circle cx="290.9" cy="606.3" r="4.8" fill="#fff" stroke="#777" stroke-width="0.8"/>
<path d="M308.2 603.9A17.5 17.5 0 0 1 305.7 615.6L302.3 613.5A13.5 13.5 0 0 0 304.3 604.4Z" fill="#fff" stroke="#777" stroke-width="0.7"/>
<path d="M301.7 620.1A17.5 17.5 0 0 1 290.3 623.8L290.4 619.8A13.5 13.5 0 0 0 299.2 616.9Z" fill="#fff" stroke="#777" stroke-width="0.7"/>
<path d="M284.3 622.5A17.5 17.5 0 0 1 275.4 614.5L279 612.6A13.5 13.5 0 0 0 285.8 618.8Z" fill="#fff" stroke="#777" stroke-width="0.7"/>
<path d="M273.6 608.7A17.5 17.5 0 0 1 276.1 597L279.5 599.1A13.5 13.5 0 0 0 277.5 608.2Z" fill="#fff" stroke="#777" stroke-width="0.7"/>
<path d="M280.1 592.5A17.5 17.5 0 0 1 291.5 588.8L291.4 592.8A13.5 13.5 0 0 0 282.6 595.7Z" fill="#fff" stroke="#777" stroke-width="0.7"/>
<path d="M297.5 590.1A17.5 17.5 0 0 1 306.4 598.1L302.8 600A13.5 13.5 0 0 0 296 593.8Z" fill="#fff" stroke="#777" stroke-width="0.7"/>
<circle cx="290.9" cy="606.3" r="9.5" fill="none" stroke="#888" stroke-width="0.6"/>
<path d="M268.4 617L272.6 618.4A22.8 22.8 0 0 1 271.3 623.2L267 622.4A18.5 18.5 0 0 1 265 626L268 629.2A22.8 22.8 0 0 1 264.5 632.8L261.1 630A18.5 18.5 0 0 1 257.6 632.1L258.5 636.3A22.8 22.8 0 0 1 253.7 637.7L252.2 633.6A18.5 18.5 0 0 1 248.2 633.6L246.8 637.8A22.8 22.8 0 0 1 242 636.5L242.8 632.2A18.5 18.5 0 0 1 239.2 630.2L236 633.2A22.8 22.8 0 0 1 232.4 629.7L235.2 626.3A18.5 18.5 0 0 1 233.1 622.8L228.9 623.7A22.8 22.8 0 0 1 227.5 618.9L231.6 617.4A18.5 18.5 0 0 1 231.6 613.4L227.4 612A22.8 22.8 0 0 1 228.7 607.2L233 608A18.5 18.5 0 0 1 235 604.4L232 601.2A22.8 22.8 0 0 1 235.5 597.6L238.9 600.4A18.5 18.5 0 0 1 242.4 598.3L241.5 594.1A22.8 22.8 0 0 1 246.3 592.7L247.8 596.8A18.5 18.5 0 0 1 251.8 596.8L253.2 592.6A22.8 22.8 0 0 1 258 593.9L257.2 598.2A18.5 18.5 0 0 1 260.8 600.2L264 597.2A22.8 22.8 0 0 1 267.6 600.7L264.8 604.1A18.5 18.5 0 0 1 266.9 607.6L271.1 606.7A22.8 22.8 0 0 1 272.5 611.5L268.4 613A18.5 18.5 0 0 1 268.4 617Z" fill="#fff"/>
<path d="M268.4 617L272.6 618.4A22.8 22.8 0 0 1 271.3 623.2L267 622.4A18.5 18.5 0 0 1 265 626L268 629.2A22.8 22.8 0 0 1 264.5 632.8L261.1 630A18.5 18.5 0 0 1 257.6 632.1L258.5 636.3A22.8 22.8 0 0 1 253.7 637.7L252.2 633.6A18.5 18.5 0 0 1 248.2 633.6L246.8 637.8A22.8 22.8 0 0 1 242 636.5L242.8 632.2A18.5 18.5 0 0 1 239.2 630.2L236 633.2A22.8 22.8 0 0 1 232.4 629.7L235.2 626.3A18.5 18.5 0 0 1 233.1 622.8L228.9 623.7A22.8 22.8 0 0 1 227.5 618.9L231.6 617.4A18.5 18.5 0 0 1 231.6 613.4L227.4 612A22.8 22.8 0 0 1 228.7 607.2L233 608A18.5 18.5 0 0 1 235 604.4L232 601.2A22.8 22.8 0 0 1 235.5 597.6L238.9 600.4A18.5 18.5 0 0 1 242.4 598.3L241.5 594.1A22.8 22.8 0 0 1 246.3 592.7L247.8 596.8A18.5 18.5 0 0 1 251.8 596.8L253.2 592.6A22.8 22.8 0 0 1 258 593.9L257.2 598.2A18.5 18.5 0 0 1 260.8 600.2L264 597.2A22.8 22.8 0 0 1 267.6 600.7L264.8 604.1A18.5 18.5 0 0 1 266.9 607.6L271.1 606.7A22.8 22.8 0 0 1 272.5 611.5L268.4 613A18.5 18.5 0 0 1 268.4 617Z" fill="url(#bdots)" stroke="#000" stroke-width="1" stroke-linejoin="round"/>
<circle cx="250" cy="615.2" r="7.7" fill="#fff" stroke="#000" stroke-width="1"/>
<circle cx="262.1" cy="621.8" r="2.2" fill="#fff" stroke="#000" stroke-width="1"/>
<circle cx="250.3" cy="629" r="2.2" fill="#fff" stroke="#000" stroke-width="1"/>
<circle cx="238.2" cy="622.4" r="2.2" fill="#fff" stroke="#000" stroke-width="1"/>
<circle cx="237.9" cy="608.6" r="2.2" fill="#fff" stroke="#000" stroke-width="1"/>
<circle cx="249.7" cy="601.4" r="2.2" fill="#fff" stroke="#000" stroke-width="1"/>
<circle cx="261.8" cy="608" r="2.2" fill="#fff" stroke="#000" stroke-width="1"/>
<path d="M446 143.9h0M446 148.8h0M446 158.8h0M446 163.8h0M446 168.7h0M446 173.7h0M446 178.7h0M446 188.6h0M446 193.6h0M446 198.6h0M446 203.6h0M446 208.5h0M446 218.5h0M446 223.4h0M446 228.4h0M446 233.4h0M446 238.4h0M446 248.3h0M446 253.3h0M446 258.3h0M446 263.2h0M446 268.2h0M446 278.2h0M446 283.1h0M446 288.1h0M446 293.1h0M446 298.1h0M446 308h0M446 313h0M446 318h0M446 322.9h0M446 327.9h0M446 337.9h0M446 342.9h0M446 347.8h0M446 352.8h0M446 357.8h0M446 367.7h0M446 372.7h0M446 377.7h0M446 382.6h0M446 387.6h0M446 397.6h0M446 402.5h0M446 407.5h0M446 412.5h0M446 417.5h0M446 427.4h0M446 432.4h0M446 437.4h0M446 442.3h0M446 447.3h0M446 457.3h0M446 462.2h0M446 467.2h0M446 472.2h0M446 477.2h0M446 487.1h0M446 492.1h0M446 497.1h0M446 502.1h0M446 507h0M446 517h0M446 522h0M446 526.9h0M446 531.9h0M446 536.9h0M446 546.8h0M446 551.8h0M446 556.8h0M446 561.8h0M446 566.7h0M446 576.7h0M446 581.6h0M446 586.6h0" stroke="#000" stroke-width="1.9" stroke-linecap="round" fill="none"/>
<path d="M446 153.8h0M446 183.7h0M446 213.5h0M446 243.4h0M446 273.2h0M446 303.1h0M446 332.9h0M446 362.8h0M446 392.6h0M446 422.4h0M446 452.3h0M446 482.1h0M446 512h0M446 541.8h0M446 571.7h0" stroke="#000" stroke-width="3.4" stroke-linecap="round" fill="none"/>
<path d="M463.2 104.7h0M463.2 109.7h0M463.2 114.7h0M463.2 119.6h0M463.2 124.6h0M463.2 129.6h0M463.2 134.6h0M463.2 139.5h0M463.2 144.5h0M463.2 149.5h0M463.2 154.4h0M463.2 159.4h0M463.2 164.4h0M463.2 169.4h0M463.2 174.3h0M463.2 179.3h0M463.2 184.3h0M463.2 189.3h0M463.2 194.2h0M463.2 199.2h0M463.2 204.2h0M463.2 209.2h0M463.2 214.1h0M463.2 219.1h0M463.2 224.1h0M463.2 229.1h0M463.2 234.1h0M463.2 239h0M463.2 244h0M463.2 249h0M463.2 253.9h0M463.2 258.9h0M463.2 263.9h0M463.2 268.9h0M463.2 273.8h0M463.2 278.8h0M463.2 283.8h0M463.2 288.8h0M463.2 293.8h0M463.2 298.7h0M463.2 303.7h0M463.2 308.7h0M463.2 313.6h0M463.2 318.6h0M463.2 323.6h0M463.2 328.6h0M463.2 333.6h0M463.2 338.5h0M463.2 343.5h0M463.2 348.5h0M463.2 353.4h0M463.2 358.4h0M463.2 363.4h0M463.2 368.4h0M463.2 373.3h0M463.2 378.3h0M463.2 383.3h0M463.2 388.3h0M463.2 393.2h0M463.2 398.2h0M463.2 403.2h0M463.2 408.2h0M463.2 413.1h0M463.2 418.1h0M463.2 423.1h0M463.2 428.1h0M463.2 433h0M463.2 438h0M463.2 443h0M463.2 448h0M463.2 452.9h0M463.2 457.9h0M463.2 462.9h0M463.2 467.9h0M463.2 472.8h0M463.2 477.8h0M463.2 482.8h0M463.2 487.8h0M463.2 492.7h0M463.2 497.7h0M463.2 502.7h0M463.2 507.7h0M463.2 512.6h0M463.2 517.6h0M463.2 522.6h0M463.2 527.6h0M463.2 532.5h0M463.2 537.5h0M463.2 542.5h0M463.2 547.5h0M463.2 552.4h0M463.2 557.4h0M463.2 562.4h0M463.2 567.4h0M463.2 572.4h0M463.2 577.3h0M463.2 582.3h0" stroke="#000" stroke-width="1.9" stroke-linecap="round" fill="none"/>
<path d="M480.4 86h0M480.4 90.9h0M480.4 100.9h0M480.4 105.9h0M480.4 110.8h0M480.4 115.8h0M480.4 120.8h0M480.4 130.7h0M480.4 135.7h0M480.4 140.7h0M480.4 145.7h0M480.4 150.6h0M480.4 160.6h0M480.4 165.6h0M480.4 170.5h0M480.4 175.5h0M480.4 180.5h0M480.4 190.4h0M480.4 195.4h0M480.4 200.4h0M480.4 205.3h0M480.4 210.3h0M480.4 220.3h0M480.4 225.2h0M480.4 230.2h0M480.4 235.2h0M480.4 240.2h0M480.4 250.1h0M480.4 255.1h0M480.4 260.1h0M480.4 265h0M480.4 270h0M480.4 280h0M480.4 284.9h0M480.4 289.9h0M480.4 294.9h0M480.4 299.9h0M480.4 309.8h0M480.4 314.8h0M480.4 319.8h0M480.4 324.8h0M480.4 329.7h0M480.4 339.7h0M480.4 344.6h0M480.4 349.6h0M480.4 354.6h0M480.4 359.6h0M480.4 369.5h0M480.4 374.5h0M480.4 379.5h0M480.4 384.4h0M480.4 389.4h0M480.4 399.4h0M480.4 404.4h0M480.4 409.3h0M480.4 414.3h0M480.4 419.3h0M480.4 429.2h0M480.4 434.2h0M480.4 439.2h0M480.4 444.1h0M480.4 449.1h0M480.4 459.1h0M480.4 464h0M480.4 469h0M480.4 474h0M480.4 479h0M480.4 488.9h0M480.4 493.9h0M480.4 498.9h0M480.4 503.9h0M480.4 508.8h0M480.4 518.8h0M480.4 523.8h0M480.4 528.7h0M480.4 533.7h0M480.4 538.7h0M480.4 548.6h0M480.4 553.6h0M480.4 558.6h0M480.4 563.5h0M480.4 568.5h0M480.4 578.5h0M480.4 583.4h0M480.4 588.4h0M480.4 593.4h0M480.4 598.4h0M480.4 608.3h0M480.4 613.3h0M480.4 618.3h0M480.4 623.2h0M480.4 628.2h0M480.4 638.2h0M480.4 643.1h0M480.4 648.1h0M480.4 653.1h0M480.4 658.1h0M480.4 668h0M480.4 673h0" stroke="#000" stroke-width="1.9" stroke-linecap="round" fill="none"/>
<path d="M480.4 95.9h0M480.4 125.8h0M480.4 155.6h0M480.4 185.4h0M480.4 215.3h0M480.4 245.2h0M480.4 275h0M480.4 304.9h0M480.4 334.7h0M480.4 364.5h0M480.4 394.4h0M480.4 424.2h0M480.4 454.1h0M480.4 483.9h0M480.4 513.8h0M480.4 543.6h0M480.4 573.5h0M480.4 603.4h0M480.4 633.2h0M480.4 663h0" stroke="#000" stroke-width="3.4" stroke-linecap="round" fill="none"/>
<path d="M497.6 70h0M497.6 75h0M497.6 80h0M497.6 84.9h0M497.6 89.9h0M497.6 94.9h0M497.6 99.8h0M497.6 104.8h0M497.6 109.8h0M497.6 114.8h0M497.6 119.8h0M497.6 124.7h0M497.6 129.7h0M497.6 134.7h0M497.6 139.6h0M497.6 144.6h0M497.6 149.6h0M497.6 154.6h0M497.6 159.6h0M497.6 164.5h0M497.6 169.5h0M497.6 174.5h0M497.6 179.4h0M497.6 184.4h0M497.6 189.4h0M497.6 194.4h0M497.6 199.3h0M497.6 204.3h0M497.6 209.3h0M497.6 214.3h0M497.6 219.2h0M497.6 224.2h0M497.6 229.2h0M497.6 234.2h0M497.6 239.1h0M497.6 244.1h0M497.6 249.1h0M497.6 254.1h0M497.6 259h0M497.6 264h0M497.6 269h0M497.6 274h0M497.6 278.9h0M497.6 283.9h0M497.6 288.9h0M497.6 293.9h0M497.6 298.9h0M497.6 303.8h0M497.6 308.8h0M497.6 313.8h0M497.6 318.8h0M497.6 323.7h0M497.6 328.7h0M497.6 333.7h0M497.6 338.6h0M497.6 343.6h0M497.6 348.6h0M497.6 353.6h0M497.6 358.5h0M497.6 363.5h0M497.6 368.5h0M497.6 373.5h0M497.6 378.4h0M497.6 383.4h0M497.6 388.4h0M497.6 393.4h0M497.6 398.3h0M497.6 403.3h0M497.6 408.3h0M497.6 413.3h0M497.6 418.2h0M497.6 423.2h0M497.6 428.2h0M497.6 433.2h0M497.6 438.1h0M497.6 443.1h0M497.6 448.1h0M497.6 453.1h0M497.6 458h0M497.6 463h0M497.6 468h0M497.6 473h0M497.6 477.9h0M497.6 482.9h0M497.6 487.9h0M497.6 492.9h0M497.6 497.8h0M497.6 502.8h0M497.6 507.8h0M497.6 512.8h0M497.6 517.8h0M497.6 522.7h0M497.6 527.7h0M497.6 532.7h0M497.6 537.6h0M497.6 542.6h0M497.6 547.6h0M497.6 552.6h0M497.6 557.5h0M497.6 562.5h0M497.6 567.5h0M497.6 572.5h0M497.6 577.5h0M497.6 582.4h0M497.6 587.4h0M497.6 592.4h0M497.6 597.3h0M497.6 602.3h0M497.6 607.3h0M497.6 612.3h0M497.6 617.2h0M497.6 622.2h0M497.6 627.2h0M497.6 632.2h0M497.6 637.1h0M497.6 642.1h0M497.6 647.1h0M497.6 652.1h0M497.6 657h0M497.6 662h0M497.6 667h0M497.6 672h0M497.6 676.9h0M497.6 681.9h0M497.6 686.9h0" stroke="#000" stroke-width="1.9" stroke-linecap="round" fill="none"/>
<path d="M514.8 70.2h0M514.8 75.2h0M514.8 85.2h0M514.8 90.2h0M514.8 95.1h0M514.8 100.1h0M514.8 105.1h0M514.8 115h0M514.8 120h0M514.8 125h0M514.8 129.9h0M514.8 134.9h0M514.8 144.9h0M514.8 149.8h0M514.8 154.8h0M514.8 159.8h0M514.8 164.8h0M514.8 174.7h0M514.8 179.7h0M514.8 184.7h0M514.8 189.6h0M514.8 194.6h0M514.8 204.6h0M514.8 209.6h0M514.8 214.5h0M514.8 219.5h0M514.8 224.5h0M514.8 234.4h0M514.8 239.4h0M514.8 244.4h0M514.8 249.3h0M514.8 254.3h0M514.8 264.3h0M514.8 269.2h0M514.8 274.2h0M514.8 279.2h0M514.8 284.2h0M514.8 294.1h0M514.8 299.1h0M514.8 304.1h0M514.8 309.1h0M514.8 314h0M514.8 324h0M514.8 328.9h0M514.8 333.9h0M514.8 338.9h0M514.8 343.9h0M514.8 353.8h0M514.8 358.8h0M514.8 363.8h0M514.8 368.7h0M514.8 373.7h0M514.8 383.7h0M514.8 388.6h0M514.8 393.6h0M514.8 398.6h0M514.8 403.6h0M514.8 413.5h0M514.8 418.5h0M514.8 423.5h0M514.8 428.4h0M514.8 433.4h0M514.8 443.4h0M514.8 448.3h0M514.8 453.3h0M514.8 458.3h0M514.8 463.3h0M514.8 473.2h0M514.8 478.2h0M514.8 483.2h0M514.8 488.1h0M514.8 493.1h0M514.8 503.1h0M514.8 508h0M514.8 513h0M514.8 518h0M514.8 523h0M514.8 532.9h0M514.8 537.9h0M514.8 542.9h0M514.8 547.9h0M514.8 552.8h0M514.8 562.8h0M514.8 567.8h0M514.8 572.7h0M514.8 577.7h0M514.8 582.7h0M514.8 592.6h0M514.8 597.6h0M514.8 602.6h0M514.8 607.5h0M514.8 612.5h0M514.8 622.5h0M514.8 627.5h0M514.8 632.4h0M514.8 637.4h0M514.8 642.4h0M514.8 652.3h0M514.8 657.3h0M514.8 662.3h0M514.8 667.2h0M514.8 672.2h0M514.8 682.2h0M514.8 687.1h0" stroke="#000" stroke-width="1.9" stroke-linecap="round" fill="none"/>
<path d="M514.8 80.2h0M514.8 110h0M514.8 139.9h0M514.8 169.8h0M514.8 199.6h0M514.8 229.4h0M514.8 259.3h0M514.8 289.1h0M514.8 319h0M514.8 348.8h0M514.8 378.7h0M514.8 408.5h0M514.8 438.4h0M514.8 468.2h0M514.8 498.1h0M514.8 527.9h0M514.8 557.8h0M514.8 587.6h0M514.8 617.5h0M514.8 647.4h0M514.8 677.2h0" stroke="#000" stroke-width="3.4" stroke-linecap="round" fill="none"/>
<path d="M532 70h0M532 75h0M532 80h0M532 84.9h0M532 89.9h0M532 94.9h0M532 99.8h0M532 104.8h0M532 109.8h0M532 114.8h0M532 119.8h0M532 124.7h0M532 129.7h0M532 134.7h0M532 139.6h0M532 144.6h0M532 149.6h0M532 154.6h0M532 159.6h0M532 164.5h0M532 169.5h0M532 174.5h0M532 179.4h0M532 184.4h0M532 189.4h0M532 194.4h0M532 199.3h0M532 204.3h0M532 209.3h0M532 214.3h0M532 219.2h0M532 224.2h0M532 229.2h0M532 234.2h0M532 239.1h0M532 244.1h0M532 249.1h0M532 254.1h0M532 259h0M532 264h0M532 269h0M532 274h0M532 278.9h0M532 283.9h0M532 288.9h0M532 293.9h0M532 298.9h0M532 303.8h0M532 308.8h0M532 313.8h0M532 318.8h0M532 323.7h0M532 328.7h0M532 333.7h0M532 338.6h0M532 343.6h0M532 348.6h0M532 353.6h0M532 358.5h0M532 363.5h0M532 368.5h0M532 373.5h0M532 378.4h0M532 383.4h0M532 388.4h0M532 393.4h0M532 398.3h0M532 403.3h0M532 408.3h0M532 413.3h0M532 418.2h0M532 423.2h0M532 428.2h0M532 433.2h0M532 438.1h0M532 443.1h0M532 448.1h0M532 453.1h0M532 458h0M532 463h0M532 468h0M532 473h0M532 477.9h0M532 482.9h0M532 487.9h0M532 492.9h0M532 497.8h0M532 502.8h0M532 507.8h0M532 512.8h0M532 517.8h0M532 522.7h0M532 527.7h0M532 532.7h0M532 537.6h0M532 542.6h0M532 547.6h0M532 552.6h0M532 557.5h0M532 562.5h0M532 567.5h0M532 572.5h0M532 577.5h0M532 582.4h0M532 587.4h0M532 592.4h0M532 597.3h0M532 602.3h0M532 607.3h0M532 612.3h0M532 617.2h0M532 622.2h0M532 627.2h0M532 632.2h0M532 637.1h0M532 642.1h0M532 647.1h0M532 652.1h0M532 657h0M532 662h0M532 667h0M532 672h0M532 676.9h0M532 681.9h0" stroke="#000" stroke-width="1.9" stroke-linecap="round" fill="none"/>
<path d="M549.2 86h0M549.2 90.9h0M549.2 100.9h0M549.2 105.9h0M549.2 110.8h0M549.2 115.8h0M549.2 120.8h0M549.2 130.7h0M549.2 135.7h0M549.2 140.7h0M549.2 145.7h0M549.2 150.6h0M549.2 160.6h0M549.2 165.6h0M549.2 170.5h0M549.2 175.5h0M549.2 180.5h0M549.2 190.4h0M549.2 195.4h0M549.2 200.4h0M549.2 205.3h0M549.2 210.3h0M549.2 220.3h0M549.2 225.2h0M549.2 230.2h0M549.2 235.2h0M549.2 240.2h0M549.2 250.1h0M549.2 255.1h0M549.2 260.1h0M549.2 265h0M549.2 270h0M549.2 280h0M549.2 284.9h0M549.2 289.9h0M549.2 294.9h0M549.2 299.9h0M549.2 309.8h0M549.2 314.8h0M549.2 319.8h0M549.2 324.8h0M549.2 329.7h0M549.2 339.7h0M549.2 344.6h0M549.2 349.6h0M549.2 354.6h0M549.2 359.6h0M549.2 369.5h0M549.2 374.5h0M549.2 379.5h0M549.2 384.4h0M549.2 389.4h0M549.2 399.4h0M549.2 404.4h0M549.2 409.3h0M549.2 414.3h0M549.2 419.3h0M549.2 429.2h0M549.2 434.2h0M549.2 439.2h0M549.2 444.1h0M549.2 449.1h0M549.2 459.1h0M549.2 464h0M549.2 469h0M549.2 474h0M549.2 479h0M549.2 488.9h0M549.2 493.9h0M549.2 498.9h0M549.2 503.9h0M549.2 508.8h0M549.2 518.8h0M549.2 523.8h0M549.2 528.7h0M549.2 533.7h0M549.2 538.7h0M549.2 548.6h0M549.2 553.6h0M549.2 558.6h0M549.2 563.5h0M549.2 568.5h0M549.2 578.5h0M549.2 583.4h0M549.2 588.4h0M549.2 593.4h0M549.2 598.4h0M549.2 608.3h0M549.2 613.3h0M549.2 618.3h0M549.2 623.2h0M549.2 628.2h0M549.2 638.2h0M549.2 643.1h0M549.2 648.1h0M549.2 653.1h0M549.2 658.1h0M549.2 668h0M549.2 673h0" stroke="#000" stroke-width="1.9" stroke-linecap="round" fill="none"/>
<path d="M549.2 95.9h0M549.2 125.8h0M549.2 155.6h0M549.2 185.4h0M549.2 215.3h0M549.2 245.2h0M549.2 275h0M549.2 304.9h0M549.2 334.7h0M549.2 364.5h0M549.2 394.4h0M549.2 424.2h0M549.2 454.1h0M549.2 483.9h0M549.2 513.8h0M549.2 543.6h0M549.2 573.5h0M549.2 603.4h0M549.2 633.2h0M549.2 663h0" stroke="#000" stroke-width="3.4" stroke-linecap="round" fill="none"/>
<path d="M566.4 153h0M566.4 158h0M566.4 162.9h0M566.4 167.9h0M566.4 172.9h0M566.4 177.9h0M566.4 182.8h0M566.4 187.8h0M566.4 192.8h0M566.4 197.8h0M566.4 202.8h0M566.4 207.7h0M566.4 212.7h0M566.4 217.7h0M566.4 222.6h0M566.4 227.6h0M566.4 232.6h0M566.4 237.6h0M566.4 242.6h0M566.4 247.5h0M566.4 252.5h0M566.4 257.5h0M566.4 262.4h0M566.4 267.4h0M566.4 272.4h0M566.4 277.4h0M566.4 282.4h0M566.4 287.3h0M566.4 292.3h0M566.4 297.3h0M566.4 302.2h0M566.4 307.2h0M566.4 312.2h0M566.4 317.2h0M566.4 322.1h0M566.4 327.1h0M566.4 332.1h0M566.4 337.1h0M566.4 342h0M566.4 347h0M566.4 352h0M566.4 357h0M566.4 361.9h0M566.4 366.9h0M566.4 371.9h0M566.4 376.9h0M566.4 381.9h0M566.4 386.8h0M566.4 391.8h0M566.4 396.8h0M566.4 401.8h0M566.4 406.7h0M566.4 411.7h0M566.4 416.7h0M566.4 421.6h0M566.4 426.6h0M566.4 431.6h0M566.4 436.6h0M566.4 441.5h0M566.4 446.5h0M566.4 451.5h0M566.4 456.5h0M566.4 461.4h0M566.4 466.4h0M566.4 471.4h0M566.4 476.4h0M566.4 481.3h0M566.4 486.3h0M566.4 491.3h0M566.4 496.3h0M566.4 501.2h0M566.4 506.2h0M566.4 511.2h0M566.4 516.2h0M566.4 521.1h0M566.4 526.1h0M566.4 531.1h0M566.4 536.1h0M566.4 541h0M566.4 546h0M566.4 551h0M566.4 556h0M566.4 561h0M566.4 565.9h0M566.4 570.9h0M566.4 575.9h0M566.4 580.8h0M566.4 585.8h0M566.4 590.8h0M566.4 595.8h0M566.4 600.8h0M566.4 605.7h0M566.4 610.7h0M566.4 615.7h0M566.4 620.6h0M566.4 625.6h0M566.4 630.6h0M566.4 635.6h0M566.4 640.5h0M566.4 645.5h0M566.4 650.5h0" stroke="#000" stroke-width="1.9" stroke-linecap="round" fill="none"/>
<path d="M583.6 160.6h0M583.6 165.6h0M583.6 170.6h0M583.6 175.6h0M583.6 180.5h0M583.6 190.5h0M583.6 195.4h0M583.6 200.4h0M583.6 205.4h0M583.6 210.4h0M583.6 220.3h0M583.6 225.3h0M583.6 230.3h0M583.6 235.2h0M583.6 240.2h0M583.6 250.2h0M583.6 255.1h0M583.6 260.1h0M583.6 265.1h0M583.6 270.1h0M583.6 280h0M583.6 285h0M583.6 290h0M583.6 294.9h0M583.6 299.9h0M583.6 309.9h0M583.6 314.9h0M583.6 319.8h0M583.6 324.8h0M583.6 329.8h0M583.6 339.7h0M583.6 344.7h0M583.6 349.7h0M583.6 354.6h0M583.6 359.6h0M583.6 369.6h0M583.6 374.5h0M583.6 379.5h0M583.6 384.5h0M583.6 389.5h0M583.6 399.4h0M583.6 404.4h0M583.6 409.4h0M583.6 414.4h0M583.6 419.3h0M583.6 429.3h0M583.6 434.2h0M583.6 439.2h0M583.6 444.2h0M583.6 449.2h0M583.6 459.1h0M583.6 464.1h0M583.6 469.1h0M583.6 474h0M583.6 479h0M583.6 489h0M583.6 493.9h0M583.6 498.9h0M583.6 503.9h0M583.6 508.9h0M583.6 518.8h0M583.6 523.8h0M583.6 528.8h0M583.6 533.8h0M583.6 538.7h0M583.6 548.7h0M583.6 553.6h0M583.6 558.6h0M583.6 563.6h0M583.6 568.6h0M583.6 578.5h0M583.6 583.5h0M583.6 588.5h0M583.6 593.5h0M583.6 598.4h0M583.6 608.4h0M583.6 613.3h0M583.6 618.3h0" stroke="#000" stroke-width="1.9" stroke-linecap="round" fill="none"/>
<path d="M583.6 185.5h0M583.6 215.3h0M583.6 245.2h0M583.6 275.1h0M583.6 304.9h0M583.6 334.8h0M583.6 364.6h0M583.6 394.4h0M583.6 424.3h0M583.6 454.1h0M583.6 484h0M583.6 513.8h0M583.6 543.7h0M583.6 573.5h0M583.6 603.4h0" stroke="#000" stroke-width="3.4" stroke-linecap="round" fill="none"/>
<circle cx="568" cy="122.5" r="29.3" fill="#fff"/>
<path d="M597.3 122.5h0M596.8 127.7h0M595.4 132.8h0M593.2 137.5h0M586.3 145.4h0M581.9 148.3h0M577.1 150.4h0M571.9 151.5h0M561.5 151.1h0M556.5 149.4h0M551.9 147h0M547.8 143.7h0M541.6 135.2h0M539.8 130.3h0M538.8 125.1h0M538.8 119.9h0M541.6 109.8h0M544.3 105.3h0M547.8 101.3h0M551.9 98h0M561.5 93.9h0M566.7 93.2h0M571.9 93.5h0M577.1 94.6h0M586.3 99.6h0M590.1 103.2h0M593.2 107.5h0M595.4 112.2h0" stroke="#000" stroke-width="1.8" stroke-linecap="round" fill="none"/>
<path d="M590.1 141.8h0M566.7 151.8h0M544.3 139.7h0M539.8 114.7h0M556.5 95.6h0M581.9 96.7h0M596.8 117.3h0" stroke="#000" stroke-width="3.2" stroke-linecap="round" fill="none"/>
<circle cx="470.5" cy="204.5" r="44.8" fill="#fff"/>
<path d="M515.3 204.5h0M514.9 210.1h0M513.9 215.6h0M509.8 226.1h0M506.7 230.8h0M503.2 235.2h0M499.1 239h0M489.6 245h0M484.3 247.1h0M478.9 248.5h0M473.3 249.2h0M462.1 248.5h0M456.7 247.1h0M451.4 245h0M446.5 242.3h0M437.8 235.2h0M434.3 230.8h0M431.2 226.1h0M428.8 221h0M426.1 210.1h0M425.7 204.5h0M426.1 198.9h0M427.1 193.4h0M431.2 182.9h0M434.3 178.2h0M437.8 173.8h0M441.9 170h0M451.4 164h0M456.7 161.9h0M462.1 160.5h0M467.7 159.8h0M478.9 160.5h0M484.3 161.9h0M489.6 164h0M494.5 166.7h0M503.2 173.8h0M506.7 178.2h0M509.8 182.9h0M512.2 188h0M514.9 198.9h0" stroke="#000" stroke-width="1.8" stroke-linecap="round" fill="none"/>
<path d="M512.2 221h0M494.5 242.3h0M467.7 249.2h0M441.9 239h0M427.1 215.6h0M428.8 188h0M446.5 166.7h0M473.3 159.8h0M499.1 170h0M513.9 193.4h0" stroke="#000" stroke-width="3.2" stroke-linecap="round" fill="none"/>
<circle cx="552.8" cy="308.6" r="45.1" fill="#fff"/>
<path d="M597.5 314.3h0M596.5 319.8h0M594.7 325.2h0M592.3 330.3h0M585.7 339.5h0M581.5 343.4h0M577 346.7h0M572 349.4h0M561.3 352.9h0M555.6 353.6h0M550 353.6h0M544.3 352.9h0M533.6 349.4h0M528.6 346.7h0M524.1 343.4h0M519.9 339.5h0M513.3 330.3h0M510.9 325.2h0M509.1 319.8h0M508.1 314.3h0M508.1 302.9h0M509.1 297.4h0M510.9 292h0M513.3 286.9h0M519.9 277.7h0M524.1 273.8h0M528.6 270.5h0M533.6 267.8h0M544.3 264.3h0M550 263.6h0M555.6 263.6h0M561.3 264.3h0M572 267.8h0M577 270.5h0M581.5 273.8h0M585.7 277.7h0M592.3 286.9h0M594.7 292h0M596.5 297.4h0M597.5 302.9h0" stroke="#000" stroke-width="1.8" stroke-linecap="round" fill="none"/>
<path d="M597.9 308.6h0M589.3 335.1h0M566.7 351.5h0M538.9 351.5h0M516.3 335.1h0M507.7 308.6h0M516.3 282.1h0M538.9 265.7h0M566.7 265.7h0M589.3 282.1h0" stroke="#000" stroke-width="3.2" stroke-linecap="round" fill="none"/>
<circle cx="468.9" cy="413.6" r="49.5" fill="#fff"/>
<path d="M518.4 413.6h0M518.1 419.2h0M515.5 430.2h0M513.3 435.4h0M510.5 440.4h0M507.2 444.9h0M499.1 452.8h0M494.5 456h0M489.5 458.6h0M484.2 460.7h0M473.1 462.9h0M467.5 463.1h0M461.9 462.6h0M456.3 461.5h0M445.8 457.4h0M441 454.5h0M436.5 451h0M432.4 447.1h0M425.8 437.9h0M423.3 432.9h0M421.4 427.5h0M420.1 422h0M419.5 410.8h0M420.1 405.2h0M421.4 399.7h0M423.3 394.3h0M428.9 384.5h0M432.4 380.1h0M436.5 376.2h0M441 372.7h0M450.9 367.5h0M456.3 365.7h0M461.9 364.6h0M467.5 364.1h0M478.7 365.1h0M484.2 366.5h0M489.5 368.6h0M494.5 371.2h0M503.4 378.1h0M507.2 382.3h0M510.5 386.8h0M513.3 391.8h0M517.1 402.4h0M518.1 408h0" stroke="#000" stroke-width="1.8" stroke-linecap="round" fill="none"/>
<path d="M517.1 424.8h0M503.4 449.1h0M478.7 462.1h0M450.9 459.7h0M428.9 442.7h0M419.5 416.4h0M425.8 389.3h0M445.8 369.8h0M473.1 364.3h0M499.1 374.4h0M515.5 397h0" stroke="#000" stroke-width="3.2" stroke-linecap="round" fill="none"/>
<circle cx="554.9" cy="550" r="32" fill="#fff"/>
<path d="M586.9 550h0M586.4 555.6h0M585 560.9h0M582.6 566h0M579.4 570.6h0M570.9 577.7h0M565.8 580.1h0M560.5 581.5h0M554.9 582h0M549.3 581.5h0M538.9 577.7h0M534.3 574.5h0M530.4 570.6h0M527.2 566h0M524.8 560.9h0M522.9 550h0M523.4 544.4h0M524.8 539.1h0M527.2 534h0M530.4 529.4h0M538.9 522.3h0M544 519.9h0M549.3 518.5h0M554.9 518h0M560.5 518.5h0M570.9 522.3h0M575.5 525.5h0M579.4 529.4h0M582.6 534h0M585 539.1h0" stroke="#000" stroke-width="1.8" stroke-linecap="round" fill="none"/>
<path d="M575.5 574.5h0M544 580.1h0M523.4 555.6h0M534.3 525.5h0M565.8 519.9h0M586.4 544.4h0" stroke="#000" stroke-width="3" stroke-linecap="round" fill="none"/>
<circle cx="466.7" cy="616" r="33.3" fill="#fff"/>
<path d="M500 616h0M499.6 621.2h0M498.4 626.3h0M493.6 635.6h0M490.2 639.5h0M486.3 642.9h0M481.8 645.7h0M471.9 648.9h0M466.7 649.3h0M461.5 648.9h0M456.4 647.7h0M447.1 642.9h0M443.2 639.5h0M439.8 635.6h0M437 631.1h0M433.8 621.2h0M433.4 616h0M433.8 610.8h0M435 605.7h0M439.8 596.4h0M443.2 592.5h0M447.1 589.1h0M451.6 586.3h0M461.5 583.1h0M466.7 582.7h0M471.9 583.1h0M477 584.3h0M486.3 589.1h0M490.2 592.5h0M493.6 596.4h0M496.4 600.9h0M499.6 610.8h0" stroke="#000" stroke-width="1.8" stroke-linecap="round" fill="none"/>
<path d="M496.4 631.1h0M477 647.7h0M451.6 645.7h0M435 626.3h0M437 600.9h0M456.4 584.3h0M481.8 586.3h0M498.4 605.7h0" stroke="#000" stroke-width="3.2" stroke-linecap="round" fill="none"/>
<circle cx="497.9" cy="100.7" r="10.7" fill="#fff" stroke="#000" stroke-width="1.3"/>
<circle cx="566.1" cy="234.8" r="10.7" fill="#fff" stroke="#000" stroke-width="1.3"/>
<circle cx="480" cy="307.3" r="12" fill="#fff" stroke="#000" stroke-width="1.3"/>
<circle cx="533.3" cy="460.1" r="10.7" fill="#fff" stroke="#000" stroke-width="1.3"/>
<circle cx="486.7" cy="563.5" r="17.3" fill="#fff" stroke="#000" stroke-width="1.5"/>
<circle cx="548.8" cy="628.8" r="10.7" fill="#fff" stroke="#000" stroke-width="1.4"/>
<path d="M584.5 121.7L588.8 122.7A20.8 20.8 0 0 1 588.4 126.4L584 126.5A16.5 16.5 0 0 1 582.7 130.1L585.9 133.1A20.8 20.8 0 0 1 583.7 136.1L579.8 134A16.5 16.5 0 0 1 576.9 136.4L578.2 140.6A20.8 20.8 0 0 1 574.8 142.1L572.5 138.4A16.5 16.5 0 0 1 568.8 139L567.8 143.3A20.8 20.8 0 0 1 564.1 142.9L564 138.5A16.5 16.5 0 0 1 560.4 137.2L557.4 140.4A20.8 20.8 0 0 1 554.4 138.2L556.5 134.3A16.5 16.5 0 0 1 554.1 131.4L549.9 132.7A20.8 20.8 0 0 1 548.4 129.3L552.1 127A16.5 16.5 0 0 1 551.5 123.3L547.2 122.3A20.8 20.8 0 0 1 547.6 118.6L552 118.5A16.5 16.5 0 0 1 553.3 114.9L550.1 111.9A20.8 20.8 0 0 1 552.3 108.9L556.2 111A16.5 16.5 0 0 1 559.1 108.6L557.8 104.4A20.8 20.8 0 0 1 561.2 102.9L563.5 106.6A16.5 16.5 0 0 1 567.2 106L568.2 101.7A20.8 20.8 0 0 1 571.9 102.1L572 106.5A16.5 16.5 0 0 1 575.6 107.8L578.6 104.6A20.8 20.8 0 0 1 581.6 106.8L579.5 110.7A16.5 16.5 0 0 1 581.9 113.6L586.1 112.3A20.8 20.8 0 0 1 587.6 115.7L583.9 118A16.5 16.5 0 0 1 584.5 121.7Z" fill="#fff"/>
<path d="M584.5 121.7L588.8 122.7A20.8 20.8 0 0 1 588.4 126.4L584 126.5A16.5 16.5 0 0 1 582.7 130.1L585.9 133.1A20.8 20.8 0 0 1 583.7 136.1L579.8 134A16.5 16.5 0 0 1 576.9 136.4L578.2 140.6A20.8 20.8 0 0 1 574.8 142.1L572.5 138.4A16.5 16.5 0 0 1 568.8 139L567.8 143.3A20.8 20.8 0 0 1 564.1 142.9L564 138.5A16.5 16.5 0 0 1 560.4 137.2L557.4 140.4A20.8 20.8 0 0 1 554.4 138.2L556.5 134.3A16.5 16.5 0 0 1 554.1 131.4L549.9 132.7A20.8 20.8 0 0 1 548.4 129.3L552.1 127A16.5 16.5 0 0 1 551.5 123.3L547.2 122.3A20.8 20.8 0 0 1 547.6 118.6L552 118.5A16.5 16.5 0 0 1 553.3 114.9L550.1 111.9A20.8 20.8 0 0 1 552.3 108.9L556.2 111A16.5 16.5 0 0 1 559.1 108.6L557.8 104.4A20.8 20.8 0 0 1 561.2 102.9L563.5 106.6A16.5 16.5 0 0 1 567.2 106L568.2 101.7A20.8 20.8 0 0 1 571.9 102.1L572 106.5A16.5 16.5 0 0 1 575.6 107.8L578.6 104.6A20.8 20.8 0 0 1 581.6 106.8L579.5 110.7A16.5 16.5 0 0 1 581.9 113.6L586.1 112.3A20.8 20.8 0 0 1 587.6 115.7L583.9 118A16.5 16.5 0 0 1 584.5 121.7Z" fill="url(#xMed)" stroke="#222" stroke-width="0.9" stroke-linejoin="round"/>
<circle cx="568" cy="122.5" r="10.1" fill="#fff" stroke="#222" stroke-width="1.1"/>
<path d="M561.6 186.7L564.7 187.7A15.5 15.5 0 0 1 564.2 190.4L560.9 190.2A12.3 12.3 0 0 1 559.6 192.7L561.8 195.2A15.5 15.5 0 0 1 560 197.3L557.2 195.4A12.3 12.3 0 0 1 554.9 197L555.5 200.2A15.5 15.5 0 0 1 552.9 201.1L551.5 198.1A12.3 12.3 0 0 1 548.6 198.3L547.6 201.4A15.5 15.5 0 0 1 544.9 200.9L545.1 197.6A12.3 12.3 0 0 1 542.6 196.3L540.1 198.5A15.5 15.5 0 0 1 538 196.7L539.9 193.9A12.3 12.3 0 0 1 538.3 191.6L535.1 192.2A15.5 15.5 0 0 1 534.2 189.6L537.2 188.2A12.3 12.3 0 0 1 537 185.3L533.9 184.3A15.5 15.5 0 0 1 534.4 181.6L537.7 181.8A12.3 12.3 0 0 1 539 179.3L536.8 176.8A15.5 15.5 0 0 1 538.6 174.7L541.4 176.6A12.3 12.3 0 0 1 543.7 175L543.1 171.8A15.5 15.5 0 0 1 545.7 170.9L547.1 173.9A12.3 12.3 0 0 1 550 173.7L551 170.6A15.5 15.5 0 0 1 553.7 171.1L553.5 174.4A12.3 12.3 0 0 1 556 175.7L558.5 173.5A15.5 15.5 0 0 1 560.6 175.3L558.7 178.1A12.3 12.3 0 0 1 560.3 180.4L563.5 179.8A15.5 15.5 0 0 1 564.4 182.4L561.4 183.8A12.3 12.3 0 0 1 561.6 186.7Z" fill="#fff"/>
<path d="M561.6 186.7L564.7 187.7A15.5 15.5 0 0 1 564.2 190.4L560.9 190.2A12.3 12.3 0 0 1 559.6 192.7L561.8 195.2A15.5 15.5 0 0 1 560 197.3L557.2 195.4A12.3 12.3 0 0 1 554.9 197L555.5 200.2A15.5 15.5 0 0 1 552.9 201.1L551.5 198.1A12.3 12.3 0 0 1 548.6 198.3L547.6 201.4A15.5 15.5 0 0 1 544.9 200.9L545.1 197.6A12.3 12.3 0 0 1 542.6 196.3L540.1 198.5A15.5 15.5 0 0 1 538 196.7L539.9 193.9A12.3 12.3 0 0 1 538.3 191.6L535.1 192.2A15.5 15.5 0 0 1 534.2 189.6L537.2 188.2A12.3 12.3 0 0 1 537 185.3L533.9 184.3A15.5 15.5 0 0 1 534.4 181.6L537.7 181.8A12.3 12.3 0 0 1 539 179.3L536.8 176.8A15.5 15.5 0 0 1 538.6 174.7L541.4 176.6A12.3 12.3 0 0 1 543.7 175L543.1 171.8A15.5 15.5 0 0 1 545.7 170.9L547.1 173.9A12.3 12.3 0 0 1 550 173.7L551 170.6A15.5 15.5 0 0 1 553.7 171.1L553.5 174.4A12.3 12.3 0 0 1 556 175.7L558.5 173.5A15.5 15.5 0 0 1 560.6 175.3L558.7 178.1A12.3 12.3 0 0 1 560.3 180.4L563.5 179.8A15.5 15.5 0 0 1 564.4 182.4L561.4 183.8A12.3 12.3 0 0 1 561.6 186.7Z" fill="url(#hMed)" stroke="#333" stroke-width="0.8" stroke-linejoin="round"/>
<circle cx="549.3" cy="186" r="4" fill="#fff" stroke="#000" stroke-width="0.8"/>
<circle cx="549.3" cy="186" r="1.5" fill="#000" stroke="#000" stroke-width="0"/>
<circle cx="558.1" cy="187.8" r="1" fill="#fff" stroke="#000" stroke-width="0.5"/>
<circle cx="552.2" cy="194.5" r="1" fill="#fff" stroke="#000" stroke-width="0.5"/>
<circle cx="543.3" cy="192.7" r="1" fill="#fff" stroke="#000" stroke-width="0.5"/>
<circle cx="540.5" cy="184.2" r="1" fill="#fff" stroke="#000" stroke-width="0.5"/>
<circle cx="546.4" cy="177.5" r="1" fill="#fff" stroke="#000" stroke-width="0.5"/>
<circle cx="555.3" cy="179.3" r="1" fill="#fff" stroke="#000" stroke-width="0.5"/>
<path d="M471.1 192L473.6 192.2A28.5 28.5 0 0 1 473.6 194.4L471.1 194.6A26 26 0 0 1 470.6 198.3L473 199A28.5 28.5 0 0 1 472.5 201.2L470 200.7A26 26 0 0 1 468.7 204.3L470.8 205.6A28.5 28.5 0 0 1 469.8 207.5L467.5 206.5A26 26 0 0 1 465.4 209.6L467.1 211.4A28.5 28.5 0 0 1 465.7 213L463.7 211.5A26 26 0 0 1 460.9 214L462.2 216.1A28.5 28.5 0 0 1 460.4 217.4L458.8 215.4A26 26 0 0 1 455.5 217.1L456.2 219.5A28.5 28.5 0 0 1 454.2 220.3L453.1 218A26 26 0 0 1 449.5 218.9L449.6 221.4A28.5 28.5 0 0 1 447.4 221.7L447 219.2A26 26 0 0 1 443.2 219.2L442.8 221.7A28.5 28.5 0 0 1 440.6 221.4L440.7 218.9A26 26 0 0 1 437.1 218L436 220.3A28.5 28.5 0 0 1 434 219.5L434.7 217.1A26 26 0 0 1 431.4 215.4L429.8 217.4A28.5 28.5 0 0 1 428 216.1L429.3 214A26 26 0 0 1 426.5 211.5L424.5 213A28.5 28.5 0 0 1 423.1 211.4L424.8 209.6A26 26 0 0 1 422.7 206.5L420.4 207.5A28.5 28.5 0 0 1 419.4 205.6L421.5 204.3A26 26 0 0 1 420.2 200.7L417.7 201.2A28.5 28.5 0 0 1 417.2 199L419.6 198.3A26 26 0 0 1 419.1 194.6L416.6 194.4A28.5 28.5 0 0 1 416.6 192.2L419.1 192A26 26 0 0 1 419.6 188.3L417.2 187.6A28.5 28.5 0 0 1 417.7 185.4L420.2 185.9A26 26 0 0 1 421.5 182.3L419.4 181A28.5 28.5 0 0 1 420.4 179.1L422.7 180.1A26 26 0 0 1 424.8 177L423.1 175.2A28.5 28.5 0 0 1 424.5 173.6L426.5 175.1A26 26 0 0 1 429.3 172.6L428 170.5A28.5 28.5 0 0 1 429.8 169.2L431.4 171.2A26 26 0 0 1 434.7 169.5L434 167.1A28.5 28.5 0 0 1 436 166.3L437.1 168.6A26 26 0 0 1 440.7 167.7L440.6 165.2A28.5 28.5 0 0 1 442.8 164.9L443.2 167.4A26 26 0 0 1 447 167.4L447.4 164.9A28.5 28.5 0 0 1 449.6 165.2L449.5 167.7A26 26 0 0 1 453.1 168.6L454.2 166.3A28.5 28.5 0 0 1 456.2 167.1L455.5 169.5A26 26 0 0 1 458.8 171.2L460.4 169.2A28.5 28.5 0 0 1 462.2 170.5L460.9 172.6A26 26 0 0 1 463.7 175.1L465.7 173.6A28.5 28.5 0 0 1 467.1 175.2L465.4 177A26 26 0 0 1 467.5 180.1L469.8 179.1A28.5 28.5 0 0 1 470.8 181L468.7 182.3A26 26 0 0 1 470 185.9L472.5 185.4A28.5 28.5 0 0 1 473 187.6L470.6 188.3A26 26 0 0 1 471.1 192Z" fill="#fff"/>
<path d="M471.1 192L473.6 192.2A28.5 28.5 0 0 1 473.6 194.4L471.1 194.6A26 26 0 0 1 470.6 198.3L473 199A28.5 28.5 0 0 1 472.5 201.2L470 200.7A26 26 0 0 1 468.7 204.3L470.8 205.6A28.5 28.5 0 0 1 469.8 207.5L467.5 206.5A26 26 0 0 1 465.4 209.6L467.1 211.4A28.5 28.5 0 0 1 465.7 213L463.7 211.5A26 26 0 0 1 460.9 214L462.2 216.1A28.5 28.5 0 0 1 460.4 217.4L458.8 215.4A26 26 0 0 1 455.5 217.1L456.2 219.5A28.5 28.5 0 0 1 454.2 220.3L453.1 218A26 26 0 0 1 449.5 218.9L449.6 221.4A28.5 28.5 0 0 1 447.4 221.7L447 219.2A26 26 0 0 1 443.2 219.2L442.8 221.7A28.5 28.5 0 0 1 440.6 221.4L440.7 218.9A26 26 0 0 1 437.1 218L436 220.3A28.5 28.5 0 0 1 434 219.5L434.7 217.1A26 26 0 0 1 431.4 215.4L429.8 217.4A28.5 28.5 0 0 1 428 216.1L429.3 214A26 26 0 0 1 426.5 211.5L424.5 213A28.5 28.5 0 0 1 423.1 211.4L424.8 209.6A26 26 0 0 1 422.7 206.5L420.4 207.5A28.5 28.5 0 0 1 419.4 205.6L421.5 204.3A26 26 0 0 1 420.2 200.7L417.7 201.2A28.5 28.5 0 0 1 417.2 199L419.6 198.3A26 26 0 0 1 419.1 194.6L416.6 194.4A28.5 28.5 0 0 1 416.6 192.2L419.1 192A26 26 0 0 1 419.6 188.3L417.2 187.6A28.5 28.5 0 0 1 417.7 185.4L420.2 185.9A26 26 0 0 1 421.5 182.3L419.4 181A28.5 28.5 0 0 1 420.4 179.1L422.7 180.1A26 26 0 0 1 424.8 177L423.1 175.2A28.5 28.5 0 0 1 424.5 173.6L426.5 175.1A26 26 0 0 1 429.3 172.6L428 170.5A28.5 28.5 0 0 1 429.8 169.2L431.4 171.2A26 26 0 0 1 434.7 169.5L434 167.1A28.5 28.5 0 0 1 436 166.3L437.1 168.6A26 26 0 0 1 440.7 167.7L440.6 165.2A28.5 28.5 0 0 1 442.8 164.9L443.2 167.4A26 26 0 0 1 447 167.4L447.4 164.9A28.5 28.5 0 0 1 449.6 165.2L449.5 167.7A26 26 0 0 1 453.1 168.6L454.2 166.3A28.5 28.5 0 0 1 456.2 167.1L455.5 169.5A26 26 0 0 1 458.8 171.2L460.4 169.2A28.5 28.5 0 0 1 462.2 170.5L460.9 172.6A26 26 0 0 1 463.7 175.1L465.7 173.6A28.5 28.5 0 0 1 467.1 175.2L465.4 177A26 26 0 0 1 467.5 180.1L469.8 179.1A28.5 28.5 0 0 1 470.8 181L468.7 182.3A26 26 0 0 1 470 185.9L472.5 185.4A28.5 28.5 0 0 1 473 187.6L470.6 188.3A26 26 0 0 1 471.1 192Z" fill="url(#sRight)" stroke="#000" stroke-width="0.7" stroke-linejoin="round"/>
<circle cx="445.1" cy="193.3" r="3.4" fill="#fff" stroke="#000" stroke-width="0.7"/>
<circle cx="461.6" cy="196.7" r="5.6" fill="#fff" stroke="#000" stroke-width="0.7"/>
<circle cx="450.4" cy="209.3" r="5.6" fill="#fff" stroke="#000" stroke-width="0.7"/>
<circle cx="433.9" cy="205.8" r="5.6" fill="#fff" stroke="#000" stroke-width="0.7"/>
<circle cx="428.6" cy="189.9" r="5.6" fill="#fff" stroke="#000" stroke-width="0.7"/>
<circle cx="439.8" cy="177.3" r="5.6" fill="#fff" stroke="#000" stroke-width="0.7"/>
<circle cx="456.3" cy="180.8" r="5.6" fill="#fff" stroke="#000" stroke-width="0.7"/>
<path d="M520.8 217L523.3 217.5A28.6 28.6 0 0 1 523.1 219.7L520.5 219.5A26 26 0 0 1 519.7 223.2L522.1 224.2A28.6 28.6 0 0 1 521.4 226.3L518.8 225.6A26 26 0 0 1 517.2 229L519.3 230.5A28.6 28.6 0 0 1 518 232.4L515.8 231.1A26 26 0 0 1 513.3 233.9L515 235.9A28.6 28.6 0 0 1 513.4 237.4L511.5 235.6A26 26 0 0 1 508.4 237.8L509.6 240.2A28.6 28.6 0 0 1 507.6 241.3L506.2 239A26 26 0 0 1 502.8 240.5L503.3 243A28.6 28.6 0 0 1 501.1 243.6L500.3 241.1A26 26 0 0 1 496.6 241.6L496.5 244.2A28.6 28.6 0 0 1 494.3 244.3L494.1 241.7A26 26 0 0 1 490.3 241.3L489.6 243.8A28.6 28.6 0 0 1 487.5 243.3L487.9 240.8A26 26 0 0 1 484.3 239.5L483 241.8A28.6 28.6 0 0 1 481.1 240.8L482.1 238.4A26 26 0 0 1 478.9 236.3L477.1 238.2A28.6 28.6 0 0 1 475.5 236.8L477 234.7A26 26 0 0 1 474.5 231.9L472.3 233.3A28.6 28.6 0 0 1 471 231.5L473 229.9A26 26 0 0 1 471.2 226.6L468.7 227.4A28.6 28.6 0 0 1 467.9 225.4L470.2 224.2A26 26 0 0 1 469.3 220.6L466.7 220.8A28.6 28.6 0 0 1 466.4 218.6L468.9 218.1A26 26 0 0 1 468.8 214.4L466.3 213.9A28.6 28.6 0 0 1 466.5 211.7L469.1 211.9A26 26 0 0 1 469.9 208.2L467.5 207.2A28.6 28.6 0 0 1 468.2 205.1L470.8 205.8A26 26 0 0 1 472.4 202.4L470.3 200.9A28.6 28.6 0 0 1 471.6 199L473.8 200.3A26 26 0 0 1 476.3 197.5L474.6 195.5A28.6 28.6 0 0 1 476.2 194L478.1 195.8A26 26 0 0 1 481.2 193.6L480 191.2A28.6 28.6 0 0 1 482 190.1L483.4 192.4A26 26 0 0 1 486.8 190.9L486.3 188.4A28.6 28.6 0 0 1 488.5 187.8L489.3 190.3A26 26 0 0 1 493 189.8L493.1 187.2A28.6 28.6 0 0 1 495.3 187.1L495.5 189.7A26 26 0 0 1 499.3 190.1L500 187.6A28.6 28.6 0 0 1 502.1 188.1L501.7 190.6A26 26 0 0 1 505.3 191.9L506.6 189.6A28.6 28.6 0 0 1 508.5 190.6L507.5 193A26 26 0 0 1 510.7 195.1L512.5 193.2A28.6 28.6 0 0 1 514.1 194.6L512.6 196.7A26 26 0 0 1 515.1 199.5L517.3 198.1A28.6 28.6 0 0 1 518.6 199.9L516.6 201.5A26 26 0 0 1 518.4 204.8L520.9 204A28.6 28.6 0 0 1 521.7 206L519.4 207.2A26 26 0 0 1 520.3 210.8L522.9 210.6A28.6 28.6 0 0 1 523.2 212.8L520.7 213.3A26 26 0 0 1 520.8 217Z" fill="#fff"/>
<path d="M520.8 217L523.3 217.5A28.6 28.6 0 0 1 523.1 219.7L520.5 219.5A26 26 0 0 1 519.7 223.2L522.1 224.2A28.6 28.6 0 0 1 521.4 226.3L518.8 225.6A26 26 0 0 1 517.2 229L519.3 230.5A28.6 28.6 0 0 1 518 232.4L515.8 231.1A26 26 0 0 1 513.3 233.9L515 235.9A28.6 28.6 0 0 1 513.4 237.4L511.5 235.6A26 26 0 0 1 508.4 237.8L509.6 240.2A28.6 28.6 0 0 1 507.6 241.3L506.2 239A26 26 0 0 1 502.8 240.5L503.3 243A28.6 28.6 0 0 1 501.1 243.6L500.3 241.1A26 26 0 0 1 496.6 241.6L496.5 244.2A28.6 28.6 0 0 1 494.3 244.3L494.1 241.7A26 26 0 0 1 490.3 241.3L489.6 243.8A28.6 28.6 0 0 1 487.5 243.3L487.9 240.8A26 26 0 0 1 484.3 239.5L483 241.8A28.6 28.6 0 0 1 481.1 240.8L482.1 238.4A26 26 0 0 1 478.9 236.3L477.1 238.2A28.6 28.6 0 0 1 475.5 236.8L477 234.7A26 26 0 0 1 474.5 231.9L472.3 233.3A28.6 28.6 0 0 1 471 231.5L473 229.9A26 26 0 0 1 471.2 226.6L468.7 227.4A28.6 28.6 0 0 1 467.9 225.4L470.2 224.2A26 26 0 0 1 469.3 220.6L466.7 220.8A28.6 28.6 0 0 1 466.4 218.6L468.9 218.1A26 26 0 0 1 468.8 214.4L466.3 213.9A28.6 28.6 0 0 1 466.5 211.7L469.1 211.9A26 26 0 0 1 469.9 208.2L467.5 207.2A28.6 28.6 0 0 1 468.2 205.1L470.8 205.8A26 26 0 0 1 472.4 202.4L470.3 200.9A28.6 28.6 0 0 1 471.6 199L473.8 200.3A26 26 0 0 1 476.3 197.5L474.6 195.5A28.6 28.6 0 0 1 476.2 194L478.1 195.8A26 26 0 0 1 481.2 193.6L480 191.2A28.6 28.6 0 0 1 482 190.1L483.4 192.4A26 26 0 0 1 486.8 190.9L486.3 188.4A28.6 28.6 0 0 1 488.5 187.8L489.3 190.3A26 26 0 0 1 493 189.8L493.1 187.2A28.6 28.6 0 0 1 495.3 187.1L495.5 189.7A26 26 0 0 1 499.3 190.1L500 187.6A28.6 28.6 0 0 1 502.1 188.1L501.7 190.6A26 26 0 0 1 505.3 191.9L506.6 189.6A28.6 28.6 0 0 1 508.5 190.6L507.5 193A26 26 0 0 1 510.7 195.1L512.5 193.2A28.6 28.6 0 0 1 514.1 194.6L512.6 196.7A26 26 0 0 1 515.1 199.5L517.3 198.1A28.6 28.6 0 0 1 518.6 199.9L516.6 201.5A26 26 0 0 1 518.4 204.8L520.9 204A28.6 28.6 0 0 1 521.7 206L519.4 207.2A26 26 0 0 1 520.3 210.8L522.9 210.6A28.6 28.6 0 0 1 523.2 212.8L520.7 213.3A26 26 0 0 1 520.8 217Z" fill="url(#sRight)" stroke="#000" stroke-width="0.7" stroke-linejoin="round"/>
<circle cx="494.8" cy="215.7" r="3.4" fill="#fff" stroke="#000" stroke-width="0.7"/>
<circle cx="511.3" cy="219.1" r="5.6" fill="#fff" stroke="#000" stroke-width="0.7"/>
<circle cx="500.1" cy="231.7" r="5.6" fill="#fff" stroke="#000" stroke-width="0.7"/>
<circle cx="483.6" cy="228.2" r="5.6" fill="#fff" stroke="#000" stroke-width="0.7"/>
<circle cx="478.3" cy="212.3" r="5.6" fill="#fff" stroke="#000" stroke-width="0.7"/>
<circle cx="489.5" cy="199.7" r="5.6" fill="#fff" stroke="#000" stroke-width="0.7"/>
<circle cx="506" cy="203.2" r="5.6" fill="#fff" stroke="#000" stroke-width="0.7"/>
<path d="M580.1 300.6L588.5 299.9A36.7 36.7 0 0 1 589.5 307.1L581.3 308.8A28.5 28.5 0 0 1 580.5 315.3L588 318.9A36.7 36.7 0 0 1 585.3 325.7L577.4 323A28.5 28.5 0 0 1 573.4 328.3L578.2 335.1A36.7 36.7 0 0 1 572.4 339.6L566.9 333.4A28.5 28.5 0 0 1 560.8 335.9L561.5 344.3A36.7 36.7 0 0 1 554.3 345.3L552.6 337.1A28.5 28.5 0 0 1 546.1 336.3L542.5 343.8A36.7 36.7 0 0 1 535.7 341.1L538.4 333.2A28.5 28.5 0 0 1 533.1 329.2L526.3 334A36.7 36.7 0 0 1 521.8 328.2L528 322.7A28.5 28.5 0 0 1 525.5 316.6L517.1 317.3A36.7 36.7 0 0 1 516.1 310.1L524.3 308.4A28.5 28.5 0 0 1 525.1 301.9L517.6 298.3A36.7 36.7 0 0 1 520.3 291.5L528.2 294.2A28.5 28.5 0 0 1 532.2 288.9L527.4 282.1A36.7 36.7 0 0 1 533.2 277.6L538.7 283.8A28.5 28.5 0 0 1 544.8 281.3L544.1 272.9A36.7 36.7 0 0 1 551.3 271.9L553 280.1A28.5 28.5 0 0 1 559.5 280.9L563.1 273.4A36.7 36.7 0 0 1 569.9 276.1L567.2 284A28.5 28.5 0 0 1 572.5 288L579.3 283.2A36.7 36.7 0 0 1 583.8 289L577.6 294.5A28.5 28.5 0 0 1 580.1 300.6Z" fill="#fff"/>
<path d="M580.1 300.6L588.5 299.9A36.7 36.7 0 0 1 589.5 307.1L581.3 308.8A28.5 28.5 0 0 1 580.5 315.3L588 318.9A36.7 36.7 0 0 1 585.3 325.7L577.4 323A28.5 28.5 0 0 1 573.4 328.3L578.2 335.1A36.7 36.7 0 0 1 572.4 339.6L566.9 333.4A28.5 28.5 0 0 1 560.8 335.9L561.5 344.3A36.7 36.7 0 0 1 554.3 345.3L552.6 337.1A28.5 28.5 0 0 1 546.1 336.3L542.5 343.8A36.7 36.7 0 0 1 535.7 341.1L538.4 333.2A28.5 28.5 0 0 1 533.1 329.2L526.3 334A36.7 36.7 0 0 1 521.8 328.2L528 322.7A28.5 28.5 0 0 1 525.5 316.6L517.1 317.3A36.7 36.7 0 0 1 516.1 310.1L524.3 308.4A28.5 28.5 0 0 1 525.1 301.9L517.6 298.3A36.7 36.7 0 0 1 520.3 291.5L528.2 294.2A28.5 28.5 0 0 1 532.2 288.9L527.4 282.1A36.7 36.7 0 0 1 533.2 277.6L538.7 283.8A28.5 28.5 0 0 1 544.8 281.3L544.1 272.9A36.7 36.7 0 0 1 551.3 271.9L553 280.1A28.5 28.5 0 0 1 559.5 280.9L563.1 273.4A36.7 36.7 0 0 1 569.9 276.1L567.2 284A28.5 28.5 0 0 1 572.5 288L579.3 283.2A36.7 36.7 0 0 1 583.8 289L577.6 294.5A28.5 28.5 0 0 1 580.1 300.6Z" fill="url(#stip)" stroke="#000" stroke-width="1" stroke-linejoin="round"/>
<circle cx="552.8" cy="308.6" r="5.6" fill="#fff" stroke="#000" stroke-width="1"/>
<path d="M577.3 309A24.5 24.5 0 0 1 570.7 325.3L567.1 321.9A19.5 19.5 0 0 0 572.3 308.9Z" fill="#fff" stroke="#000" stroke-width="0.9"/>
<path d="M564.7 330A24.5 24.5 0 0 1 547.3 332.5L548.4 327.6A19.5 19.5 0 0 0 562.3 325.7Z" fill="#fff" stroke="#000" stroke-width="0.9"/>
<path d="M540.2 329.6A24.5 24.5 0 0 1 529.4 315.8L534.2 314.3A19.5 19.5 0 0 0 542.8 325.3Z" fill="#fff" stroke="#000" stroke-width="0.9"/>
<path d="M528.3 308.2A24.5 24.5 0 0 1 534.9 291.9L538.5 295.3A19.5 19.5 0 0 0 533.3 308.3Z" fill="#fff" stroke="#000" stroke-width="0.9"/>
<path d="M540.9 287.2A24.5 24.5 0 0 1 558.3 284.7L557.2 289.6A19.5 19.5 0 0 0 543.3 291.5Z" fill="#fff" stroke="#000" stroke-width="0.9"/>
<path d="M565.4 287.6A24.5 24.5 0 0 1 576.2 301.4L571.4 302.9A19.5 19.5 0 0 0 562.8 291.9Z" fill="#fff" stroke="#000" stroke-width="0.9"/>
<path d="M563.6 394.1L567.8 395.2A19 19 0 0 1 567.3 398.5L563 398.3A14.8 14.8 0 0 1 561.6 401.4L564.6 404.5A19 19 0 0 1 562.5 407.1L558.9 404.8A14.8 14.8 0 0 1 556.2 406.8L557.3 411A19 19 0 0 1 554.1 412.2L552.1 408.4A14.8 14.8 0 0 1 548.7 408.8L547.6 413A19 19 0 0 1 544.3 412.5L544.5 408.2A14.8 14.8 0 0 1 541.4 406.8L538.3 409.8A19 19 0 0 1 535.7 407.7L538 404.1A14.8 14.8 0 0 1 536 401.4L531.8 402.5A19 19 0 0 1 530.6 399.3L534.4 397.3A14.8 14.8 0 0 1 534 393.9L529.8 392.8A19 19 0 0 1 530.3 389.5L534.6 389.7A14.8 14.8 0 0 1 536 386.6L533 383.5A19 19 0 0 1 535.1 380.9L538.7 383.2A14.8 14.8 0 0 1 541.4 381.2L540.3 377A19 19 0 0 1 543.5 375.8L545.5 379.6A14.8 14.8 0 0 1 548.9 379.2L550 375A19 19 0 0 1 553.3 375.5L553.1 379.8A14.8 14.8 0 0 1 556.2 381.2L559.3 378.2A19 19 0 0 1 561.9 380.3L559.6 383.9A14.8 14.8 0 0 1 561.6 386.6L565.8 385.5A19 19 0 0 1 567 388.7L563.2 390.7A14.8 14.8 0 0 1 563.6 394.1Z" fill="#fff"/>
<path d="M563.6 394.1L567.8 395.2A19 19 0 0 1 567.3 398.5L563 398.3A14.8 14.8 0 0 1 561.6 401.4L564.6 404.5A19 19 0 0 1 562.5 407.1L558.9 404.8A14.8 14.8 0 0 1 556.2 406.8L557.3 411A19 19 0 0 1 554.1 412.2L552.1 408.4A14.8 14.8 0 0 1 548.7 408.8L547.6 413A19 19 0 0 1 544.3 412.5L544.5 408.2A14.8 14.8 0 0 1 541.4 406.8L538.3 409.8A19 19 0 0 1 535.7 407.7L538 404.1A14.8 14.8 0 0 1 536 401.4L531.8 402.5A19 19 0 0 1 530.6 399.3L534.4 397.3A14.8 14.8 0 0 1 534 393.9L529.8 392.8A19 19 0 0 1 530.3 389.5L534.6 389.7A14.8 14.8 0 0 1 536 386.6L533 383.5A19 19 0 0 1 535.1 380.9L538.7 383.2A14.8 14.8 0 0 1 541.4 381.2L540.3 377A19 19 0 0 1 543.5 375.8L545.5 379.6A14.8 14.8 0 0 1 548.9 379.2L550 375A19 19 0 0 1 553.3 375.5L553.1 379.8A14.8 14.8 0 0 1 556.2 381.2L559.3 378.2A19 19 0 0 1 561.9 380.3L559.6 383.9A14.8 14.8 0 0 1 561.6 386.6L565.8 385.5A19 19 0 0 1 567 388.7L563.2 390.7A14.8 14.8 0 0 1 563.6 394.1Z" fill="url(#xMed)" stroke="#222" stroke-width="0.9" stroke-linejoin="round"/>
<circle cx="548.8" cy="394" r="8" fill="#fff" stroke="#222" stroke-width="1"/>
<path d="M548.8 389.4h0M548.8 399.4h0" stroke="#000" stroke-width="1.8" stroke-linecap="round" fill="none"/>
<path d="M548.8 394.4h0" stroke="#000" stroke-width="3.2" stroke-linecap="round" fill="none"/>
<path d="M469.3 381.4L470.7 376A37.6 37.6 0 0 1 478.1 377.1L477.9 382.7A32.2 32.2 0 0 1 485.3 385.9L489.3 382A37.6 37.6 0 0 1 495.1 386.6L492.2 391.4A32.2 32.2 0 0 1 497 397.8L502.3 396.4A37.6 37.6 0 0 1 505.1 403.4L500.2 406A32.2 32.2 0 0 1 501.1 414L506.5 415.4A37.6 37.6 0 0 1 505.4 422.8L499.8 422.6A32.2 32.2 0 0 1 496.6 430L500.5 434A37.6 37.6 0 0 1 495.9 439.8L491.1 436.9A32.2 32.2 0 0 1 484.7 441.7L486.1 447A37.6 37.6 0 0 1 479.1 449.8L476.5 444.9A32.2 32.2 0 0 1 468.5 445.8L467.1 451.2A37.6 37.6 0 0 1 459.7 450.1L459.9 444.5A32.2 32.2 0 0 1 452.5 441.3L448.5 445.2A37.6 37.6 0 0 1 442.7 440.6L445.6 435.8A32.2 32.2 0 0 1 440.8 429.4L435.5 430.8A37.6 37.6 0 0 1 432.7 423.8L437.6 421.2A32.2 32.2 0 0 1 436.7 413.2L431.3 411.8A37.6 37.6 0 0 1 432.4 404.4L438 404.6A32.2 32.2 0 0 1 441.2 397.2L437.3 393.2A37.6 37.6 0 0 1 441.9 387.4L446.7 390.3A32.2 32.2 0 0 1 453.1 385.5L451.7 380.2A37.6 37.6 0 0 1 458.7 377.4L461.3 382.3A32.2 32.2 0 0 1 469.3 381.4ZM440.9 413.6a28 28 0 1 0 56 0a28 28 0 1 0 -56 0Z" fill="#fff"/>
<path d="M469.3 381.4L470.7 376A37.6 37.6 0 0 1 478.1 377.1L477.9 382.7A32.2 32.2 0 0 1 485.3 385.9L489.3 382A37.6 37.6 0 0 1 495.1 386.6L492.2 391.4A32.2 32.2 0 0 1 497 397.8L502.3 396.4A37.6 37.6 0 0 1 505.1 403.4L500.2 406A32.2 32.2 0 0 1 501.1 414L506.5 415.4A37.6 37.6 0 0 1 505.4 422.8L499.8 422.6A32.2 32.2 0 0 1 496.6 430L500.5 434A37.6 37.6 0 0 1 495.9 439.8L491.1 436.9A32.2 32.2 0 0 1 484.7 441.7L486.1 447A37.6 37.6 0 0 1 479.1 449.8L476.5 444.9A32.2 32.2 0 0 1 468.5 445.8L467.1 451.2A37.6 37.6 0 0 1 459.7 450.1L459.9 444.5A32.2 32.2 0 0 1 452.5 441.3L448.5 445.2A37.6 37.6 0 0 1 442.7 440.6L445.6 435.8A32.2 32.2 0 0 1 440.8 429.4L435.5 430.8A37.6 37.6 0 0 1 432.7 423.8L437.6 421.2A32.2 32.2 0 0 1 436.7 413.2L431.3 411.8A37.6 37.6 0 0 1 432.4 404.4L438 404.6A32.2 32.2 0 0 1 441.2 397.2L437.3 393.2A37.6 37.6 0 0 1 441.9 387.4L446.7 390.3A32.2 32.2 0 0 1 453.1 385.5L451.7 380.2A37.6 37.6 0 0 1 458.7 377.4L461.3 382.3A32.2 32.2 0 0 1 469.3 381.4ZM440.9 413.6a28 28 0 1 0 56 0a28 28 0 1 0 -56 0Z" fill="url(#hLight)" fill-rule="evenodd" stroke="#444" stroke-width="0.9"/>
<circle cx="468.9" cy="413.6" r="28" fill="none" stroke="#222" stroke-width="1.3"/>
<path d="M515.4 502.2L517.9 502.4A20 20 0 0 1 517.9 504.2L515.4 504.4A17.5 17.5 0 0 1 515 507.2L517.3 508.1A20 20 0 0 1 516.8 509.8L514.3 509.3A17.5 17.5 0 0 1 513.2 511.8L515.2 513.4A20 20 0 0 1 514.2 514.8L512 513.7A17.5 17.5 0 0 1 510.2 515.8L511.6 517.8A20 20 0 0 1 510.3 519L508.5 517.2A17.5 17.5 0 0 1 506.2 518.7L507 521.1A20 20 0 0 1 505.4 521.8L504.2 519.6A17.5 17.5 0 0 1 501.5 520.4L501.6 523A20 20 0 0 1 499.9 523.2L499.3 520.7A17.5 17.5 0 0 1 496.5 520.7L495.9 523.2A20 20 0 0 1 494.2 523L494.3 520.4A17.5 17.5 0 0 1 491.6 519.6L490.4 521.8A20 20 0 0 1 488.8 521.1L489.6 518.7A17.5 17.5 0 0 1 487.3 517.2L485.5 519A20 20 0 0 1 484.2 517.8L485.6 515.8A17.5 17.5 0 0 1 483.8 513.7L481.6 514.8A20 20 0 0 1 480.6 513.4L482.6 511.8A17.5 17.5 0 0 1 481.5 509.3L479 509.8A20 20 0 0 1 478.5 508.1L480.8 507.2A17.5 17.5 0 0 1 480.4 504.4L477.9 504.2A20 20 0 0 1 477.9 502.4L480.4 502.2A17.5 17.5 0 0 1 480.8 499.4L478.5 498.5A20 20 0 0 1 479 496.8L481.5 497.3A17.5 17.5 0 0 1 482.6 494.8L480.6 493.2A20 20 0 0 1 481.6 491.8L483.8 492.9A17.5 17.5 0 0 1 485.6 490.8L484.2 488.8A20 20 0 0 1 485.5 487.6L487.3 489.4A17.5 17.5 0 0 1 489.6 487.9L488.8 485.5A20 20 0 0 1 490.4 484.8L491.6 487A17.5 17.5 0 0 1 494.3 486.2L494.2 483.6A20 20 0 0 1 495.9 483.4L496.5 485.9A17.5 17.5 0 0 1 499.3 485.9L499.9 483.4A20 20 0 0 1 501.6 483.6L501.5 486.2A17.5 17.5 0 0 1 504.2 487L505.4 484.8A20 20 0 0 1 507 485.5L506.2 487.9A17.5 17.5 0 0 1 508.5 489.4L510.3 487.6A20 20 0 0 1 511.6 488.8L510.2 490.8A17.5 17.5 0 0 1 512 492.9L514.2 491.8A20 20 0 0 1 515.2 493.2L513.2 494.8A17.5 17.5 0 0 1 514.3 497.3L516.8 496.8A20 20 0 0 1 517.3 498.5L515 499.4A17.5 17.5 0 0 1 515.4 502.2Z" fill="#fff"/>
<path d="M515.4 502.2L517.9 502.4A20 20 0 0 1 517.9 504.2L515.4 504.4A17.5 17.5 0 0 1 515 507.2L517.3 508.1A20 20 0 0 1 516.8 509.8L514.3 509.3A17.5 17.5 0 0 1 513.2 511.8L515.2 513.4A20 20 0 0 1 514.2 514.8L512 513.7A17.5 17.5 0 0 1 510.2 515.8L511.6 517.8A20 20 0 0 1 510.3 519L508.5 517.2A17.5 17.5 0 0 1 506.2 518.7L507 521.1A20 20 0 0 1 505.4 521.8L504.2 519.6A17.5 17.5 0 0 1 501.5 520.4L501.6 523A20 20 0 0 1 499.9 523.2L499.3 520.7A17.5 17.5 0 0 1 496.5 520.7L495.9 523.2A20 20 0 0 1 494.2 523L494.3 520.4A17.5 17.5 0 0 1 491.6 519.6L490.4 521.8A20 20 0 0 1 488.8 521.1L489.6 518.7A17.5 17.5 0 0 1 487.3 517.2L485.5 519A20 20 0 0 1 484.2 517.8L485.6 515.8A17.5 17.5 0 0 1 483.8 513.7L481.6 514.8A20 20 0 0 1 480.6 513.4L482.6 511.8A17.5 17.5 0 0 1 481.5 509.3L479 509.8A20 20 0 0 1 478.5 508.1L480.8 507.2A17.5 17.5 0 0 1 480.4 504.4L477.9 504.2A20 20 0 0 1 477.9 502.4L480.4 502.2A17.5 17.5 0 0 1 480.8 499.4L478.5 498.5A20 20 0 0 1 479 496.8L481.5 497.3A17.5 17.5 0 0 1 482.6 494.8L480.6 493.2A20 20 0 0 1 481.6 491.8L483.8 492.9A17.5 17.5 0 0 1 485.6 490.8L484.2 488.8A20 20 0 0 1 485.5 487.6L487.3 489.4A17.5 17.5 0 0 1 489.6 487.9L488.8 485.5A20 20 0 0 1 490.4 484.8L491.6 487A17.5 17.5 0 0 1 494.3 486.2L494.2 483.6A20 20 0 0 1 495.9 483.4L496.5 485.9A17.5 17.5 0 0 1 499.3 485.9L499.9 483.4A20 20 0 0 1 501.6 483.6L501.5 486.2A17.5 17.5 0 0 1 504.2 487L505.4 484.8A20 20 0 0 1 507 485.5L506.2 487.9A17.5 17.5 0 0 1 508.5 489.4L510.3 487.6A20 20 0 0 1 511.6 488.8L510.2 490.8A17.5 17.5 0 0 1 512 492.9L514.2 491.8A20 20 0 0 1 515.2 493.2L513.2 494.8A17.5 17.5 0 0 1 514.3 497.3L516.8 496.8A20 20 0 0 1 517.3 498.5L515 499.4A17.5 17.5 0 0 1 515.4 502.2Z" fill="url(#sSmall)" stroke="#333" stroke-width="0.7" stroke-linejoin="round"/>
<circle cx="497.9" cy="503.3" r="1.6" fill="#fff" stroke="#333" stroke-width="0.7"/>
<circle cx="508.2" cy="499.5" r="3.9" fill="#fff" stroke="#333" stroke-width="0.7"/>
<circle cx="506.3" cy="510.4" r="3.9" fill="#fff" stroke="#333" stroke-width="0.7"/>
<circle cx="496" cy="514.1" r="3.9" fill="#fff" stroke="#333" stroke-width="0.7"/>
<circle cx="487.6" cy="507.1" r="3.9" fill="#fff" stroke="#333" stroke-width="0.7"/>
<circle cx="489.5" cy="496.2" r="3.9" fill="#fff" stroke="#333" stroke-width="0.7"/>
<circle cx="499.8" cy="492.5" r="3.9" fill="#fff" stroke="#333" stroke-width="0.7"/>
<path d="M551 539.7L554.3 540.6A18.3 18.3 0 0 1 554 543.8L550.5 544.1A15 15 0 0 1 549.3 547.3L551.7 549.7A18.3 18.3 0 0 1 549.8 552.4L546.8 550.8A15 15 0 0 1 544.1 553L545 556.3A18.3 18.3 0 0 1 542 557.7L540.1 554.8A15 15 0 0 1 536.7 555.4L535.8 558.7A18.3 18.3 0 0 1 532.6 558.4L532.3 554.9A15 15 0 0 1 529.1 553.7L526.7 556.1A18.3 18.3 0 0 1 524 554.2L525.6 551.2A15 15 0 0 1 523.4 548.5L520.1 549.4A18.3 18.3 0 0 1 518.7 546.4L521.6 544.5A15 15 0 0 1 521 541.1L517.7 540.2A18.3 18.3 0 0 1 518 537L521.5 536.7A15 15 0 0 1 522.7 533.5L520.3 531.1A18.3 18.3 0 0 1 522.2 528.4L525.2 530A15 15 0 0 1 527.9 527.8L527 524.5A18.3 18.3 0 0 1 530 523.1L531.9 526A15 15 0 0 1 535.3 525.4L536.2 522.1A18.3 18.3 0 0 1 539.4 522.4L539.7 525.9A15 15 0 0 1 542.9 527.1L545.3 524.7A18.3 18.3 0 0 1 548 526.6L546.4 529.6A15 15 0 0 1 548.6 532.3L551.9 531.4A18.3 18.3 0 0 1 553.3 534.4L550.4 536.3A15 15 0 0 1 551 539.7Z" fill="#fff"/>
<path d="M551 539.7L554.3 540.6A18.3 18.3 0 0 1 554 543.8L550.5 544.1A15 15 0 0 1 549.3 547.3L551.7 549.7A18.3 18.3 0 0 1 549.8 552.4L546.8 550.8A15 15 0 0 1 544.1 553L545 556.3A18.3 18.3 0 0 1 542 557.7L540.1 554.8A15 15 0 0 1 536.7 555.4L535.8 558.7A18.3 18.3 0 0 1 532.6 558.4L532.3 554.9A15 15 0 0 1 529.1 553.7L526.7 556.1A18.3 18.3 0 0 1 524 554.2L525.6 551.2A15 15 0 0 1 523.4 548.5L520.1 549.4A18.3 18.3 0 0 1 518.7 546.4L521.6 544.5A15 15 0 0 1 521 541.1L517.7 540.2A18.3 18.3 0 0 1 518 537L521.5 536.7A15 15 0 0 1 522.7 533.5L520.3 531.1A18.3 18.3 0 0 1 522.2 528.4L525.2 530A15 15 0 0 1 527.9 527.8L527 524.5A18.3 18.3 0 0 1 530 523.1L531.9 526A15 15 0 0 1 535.3 525.4L536.2 522.1A18.3 18.3 0 0 1 539.4 522.4L539.7 525.9A15 15 0 0 1 542.9 527.1L545.3 524.7A18.3 18.3 0 0 1 548 526.6L546.4 529.6A15 15 0 0 1 548.6 532.3L551.9 531.4A18.3 18.3 0 0 1 553.3 534.4L550.4 536.3A15 15 0 0 1 551 539.7Z" fill="url(#hLightH)" stroke="#444" stroke-width="0.8" stroke-linejoin="round"/>
<circle cx="536" cy="540.4" r="6" fill="#fff" stroke="#444" stroke-width="0.8"/>
<circle cx="546.1" cy="544.7" r="1.4" fill="#fff" stroke="#444" stroke-width="0.8"/>
<circle cx="537.4" cy="551.3" r="1.4" fill="#fff" stroke="#444" stroke-width="0.8"/>
<circle cx="527.2" cy="547" r="1.4" fill="#fff" stroke="#444" stroke-width="0.8"/>
<circle cx="525.9" cy="536.1" r="1.4" fill="#fff" stroke="#444" stroke-width="0.8"/>
<circle cx="534.6" cy="529.5" r="1.4" fill="#fff" stroke="#444" stroke-width="0.8"/>
<circle cx="544.8" cy="533.8" r="1.4" fill="#fff" stroke="#444" stroke-width="0.8"/>
<path d="M585.2 539.5L588.4 541.1A18.4 18.4 0 0 1 587.4 544.2L583.9 543.7A15 15 0 0 1 582.1 546.6L584.1 549.5A18.4 18.4 0 0 1 581.7 551.8L578.9 549.6A15 15 0 0 1 575.8 551.2L576.1 554.7A18.4 18.4 0 0 1 572.9 555.4L571.6 552.2A15 15 0 0 1 568.1 552L566.5 555.2A18.4 18.4 0 0 1 563.4 554.2L563.9 550.7A15 15 0 0 1 561 548.9L558.1 550.9A18.4 18.4 0 0 1 555.8 548.5L558 545.7A15 15 0 0 1 556.4 542.6L552.9 542.9A18.4 18.4 0 0 1 552.2 539.7L555.4 538.4A15 15 0 0 1 555.6 534.9L552.4 533.3A18.4 18.4 0 0 1 553.4 530.2L556.9 530.7A15 15 0 0 1 558.7 527.8L556.7 524.9A18.4 18.4 0 0 1 559.1 522.6L561.9 524.8A15 15 0 0 1 565 523.2L564.7 519.7A18.4 18.4 0 0 1 567.9 519L569.2 522.2A15 15 0 0 1 572.7 522.4L574.3 519.2A18.4 18.4 0 0 1 577.4 520.2L576.9 523.7A15 15 0 0 1 579.8 525.5L582.7 523.5A18.4 18.4 0 0 1 585 525.9L582.8 528.7A15 15 0 0 1 584.4 531.8L587.9 531.5A18.4 18.4 0 0 1 588.6 534.7L585.4 536A15 15 0 0 1 585.2 539.5Z" fill="#fff"/>
<path d="M585.2 539.5L588.4 541.1A18.4 18.4 0 0 1 587.4 544.2L583.9 543.7A15 15 0 0 1 582.1 546.6L584.1 549.5A18.4 18.4 0 0 1 581.7 551.8L578.9 549.6A15 15 0 0 1 575.8 551.2L576.1 554.7A18.4 18.4 0 0 1 572.9 555.4L571.6 552.2A15 15 0 0 1 568.1 552L566.5 555.2A18.4 18.4 0 0 1 563.4 554.2L563.9 550.7A15 15 0 0 1 561 548.9L558.1 550.9A18.4 18.4 0 0 1 555.8 548.5L558 545.7A15 15 0 0 1 556.4 542.6L552.9 542.9A18.4 18.4 0 0 1 552.2 539.7L555.4 538.4A15 15 0 0 1 555.6 534.9L552.4 533.3A18.4 18.4 0 0 1 553.4 530.2L556.9 530.7A15 15 0 0 1 558.7 527.8L556.7 524.9A18.4 18.4 0 0 1 559.1 522.6L561.9 524.8A15 15 0 0 1 565 523.2L564.7 519.7A18.4 18.4 0 0 1 567.9 519L569.2 522.2A15 15 0 0 1 572.7 522.4L574.3 519.2A18.4 18.4 0 0 1 577.4 520.2L576.9 523.7A15 15 0 0 1 579.8 525.5L582.7 523.5A18.4 18.4 0 0 1 585 525.9L582.8 528.7A15 15 0 0 1 584.4 531.8L587.9 531.5A18.4 18.4 0 0 1 588.6 534.7L585.4 536A15 15 0 0 1 585.2 539.5Z" fill="url(#hMed)" stroke="#333" stroke-width="0.8" stroke-linejoin="round"/>
<circle cx="570.4" cy="537.2" r="6" fill="#fff" stroke="#333" stroke-width="0.8"/>
<circle cx="581.3" cy="538.3" r="1.4" fill="#fff" stroke="#333" stroke-width="0.8"/>
<circle cx="574.9" cy="547.2" r="1.4" fill="#fff" stroke="#333" stroke-width="0.8"/>
<circle cx="564" cy="546.1" r="1.4" fill="#fff" stroke="#333" stroke-width="0.8"/>
<circle cx="559.5" cy="536.1" r="1.4" fill="#fff" stroke="#333" stroke-width="0.8"/>
<circle cx="565.9" cy="527.2" r="1.4" fill="#fff" stroke="#333" stroke-width="0.8"/>
<circle cx="576.8" cy="528.3" r="1.4" fill="#fff" stroke="#333" stroke-width="0.8"/>
<path d="M571.5 569.9L575.1 570.9A19.2 19.2 0 0 1 574.3 575.1L570.6 574.5A15.5 15.5 0 0 1 569 577.6L571.7 580.3A19.2 19.2 0 0 1 568.9 583.4L565.9 581.1A15.5 15.5 0 0 1 563.1 583L564.1 586.6A19.2 19.2 0 0 1 560.1 588L558.6 584.5A15.5 15.5 0 0 1 555.3 584.7L554.3 588.3A19.2 19.2 0 0 1 550.1 587.5L550.7 583.8A15.5 15.5 0 0 1 547.6 582.2L544.9 584.9A19.2 19.2 0 0 1 541.8 582.1L544.1 579.1A15.5 15.5 0 0 1 542.2 576.3L538.6 577.3A19.2 19.2 0 0 1 537.2 573.3L540.7 571.8A15.5 15.5 0 0 1 540.5 568.5L536.9 567.5A19.2 19.2 0 0 1 537.7 563.3L541.4 563.9A15.5 15.5 0 0 1 543 560.8L540.3 558.1A19.2 19.2 0 0 1 543.1 555L546.1 557.3A15.5 15.5 0 0 1 548.9 555.4L547.9 551.8A19.2 19.2 0 0 1 551.9 550.4L553.4 553.9A15.5 15.5 0 0 1 556.7 553.7L557.7 550.1A19.2 19.2 0 0 1 561.9 550.9L561.3 554.6A15.5 15.5 0 0 1 564.4 556.2L567.1 553.5A19.2 19.2 0 0 1 570.2 556.3L567.9 559.3A15.5 15.5 0 0 1 569.8 562.1L573.4 561.1A19.2 19.2 0 0 1 574.8 565.1L571.3 566.6A15.5 15.5 0 0 1 571.5 569.9Z" fill="#fff"/>
<path d="M571.5 569.9L575.1 570.9A19.2 19.2 0 0 1 574.3 575.1L570.6 574.5A15.5 15.5 0 0 1 569 577.6L571.7 580.3A19.2 19.2 0 0 1 568.9 583.4L565.9 581.1A15.5 15.5 0 0 1 563.1 583L564.1 586.6A19.2 19.2 0 0 1 560.1 588L558.6 584.5A15.5 15.5 0 0 1 555.3 584.7L554.3 588.3A19.2 19.2 0 0 1 550.1 587.5L550.7 583.8A15.5 15.5 0 0 1 547.6 582.2L544.9 584.9A19.2 19.2 0 0 1 541.8 582.1L544.1 579.1A15.5 15.5 0 0 1 542.2 576.3L538.6 577.3A19.2 19.2 0 0 1 537.2 573.3L540.7 571.8A15.5 15.5 0 0 1 540.5 568.5L536.9 567.5A19.2 19.2 0 0 1 537.7 563.3L541.4 563.9A15.5 15.5 0 0 1 543 560.8L540.3 558.1A19.2 19.2 0 0 1 543.1 555L546.1 557.3A15.5 15.5 0 0 1 548.9 555.4L547.9 551.8A19.2 19.2 0 0 1 551.9 550.4L553.4 553.9A15.5 15.5 0 0 1 556.7 553.7L557.7 550.1A19.2 19.2 0 0 1 561.9 550.9L561.3 554.6A15.5 15.5 0 0 1 564.4 556.2L567.1 553.5A19.2 19.2 0 0 1 570.2 556.3L567.9 559.3A15.5 15.5 0 0 1 569.8 562.1L573.4 561.1A19.2 19.2 0 0 1 574.8 565.1L571.3 566.6A15.5 15.5 0 0 1 571.5 569.9Z" fill="url(#bdots)" stroke="#000" stroke-width="0.9" stroke-linejoin="round"/>
<circle cx="556" cy="569.2" r="6.4" fill="#fff" stroke="#000" stroke-width="0.9"/>
<circle cx="566.1" cy="574.7" r="1.9" fill="#fff" stroke="#000" stroke-width="0.9"/>
<circle cx="556.3" cy="580.7" r="1.9" fill="#fff" stroke="#000" stroke-width="0.9"/>
<circle cx="546.2" cy="575.2" r="1.9" fill="#fff" stroke="#000" stroke-width="0.9"/>
<circle cx="545.9" cy="563.7" r="1.9" fill="#fff" stroke="#000" stroke-width="0.9"/>
<circle cx="555.7" cy="557.7" r="1.9" fill="#fff" stroke="#000" stroke-width="0.9"/>
<circle cx="565.8" cy="563.2" r="1.9" fill="#fff" stroke="#000" stroke-width="0.9"/>
<path d="M487.7 614.6L491.2 614.8A24.5 24.5 0 0 1 491.2 617.2L487.7 617.4A21 21 0 0 1 487.3 620.1L490.6 621.2A24.5 24.5 0 0 1 490 623.4L486.6 622.8A21 21 0 0 1 485.5 625.3L488.5 627.2A24.5 24.5 0 0 1 487.3 629.2L484.2 627.7A21 21 0 0 1 482.5 629.8L484.8 632.5A24.5 24.5 0 0 1 483.2 634.1L480.5 631.8A21 21 0 0 1 478.4 633.5L479.9 636.6A24.5 24.5 0 0 1 477.9 637.8L476 634.8A21 21 0 0 1 473.5 635.9L474.1 639.3A24.5 24.5 0 0 1 471.9 639.9L470.8 636.6A21 21 0 0 1 468.1 637L467.9 640.5A24.5 24.5 0 0 1 465.5 640.5L465.3 637A21 21 0 0 1 462.6 636.6L461.5 639.9A24.5 24.5 0 0 1 459.3 639.3L459.9 635.9A21 21 0 0 1 457.4 634.8L455.5 637.8A24.5 24.5 0 0 1 453.5 636.6L455 633.5A21 21 0 0 1 452.9 631.8L450.2 634.1A24.5 24.5 0 0 1 448.6 632.5L450.9 629.8A21 21 0 0 1 449.2 627.7L446.1 629.2A24.5 24.5 0 0 1 444.9 627.2L447.9 625.3A21 21 0 0 1 446.8 622.8L443.4 623.4A24.5 24.5 0 0 1 442.8 621.2L446.1 620.1A21 21 0 0 1 445.7 617.4L442.2 617.2A24.5 24.5 0 0 1 442.2 614.8L445.7 614.6A21 21 0 0 1 446.1 611.9L442.8 610.8A24.5 24.5 0 0 1 443.4 608.6L446.8 609.2A21 21 0 0 1 447.9 606.7L444.9 604.8A24.5 24.5 0 0 1 446.1 602.8L449.2 604.3A21 21 0 0 1 450.9 602.2L448.6 599.5A24.5 24.5 0 0 1 450.2 597.9L452.9 600.2A21 21 0 0 1 455 598.5L453.5 595.4A24.5 24.5 0 0 1 455.5 594.2L457.4 597.2A21 21 0 0 1 459.9 596.1L459.3 592.7A24.5 24.5 0 0 1 461.5 592.1L462.6 595.4A21 21 0 0 1 465.3 595L465.5 591.5A24.5 24.5 0 0 1 467.9 591.5L468.1 595A21 21 0 0 1 470.8 595.4L471.9 592.1A24.5 24.5 0 0 1 474.1 592.7L473.5 596.1A21 21 0 0 1 476 597.2L477.9 594.2A24.5 24.5 0 0 1 479.9 595.4L478.4 598.5A21 21 0 0 1 480.5 600.2L483.2 597.9A24.5 24.5 0 0 1 484.8 599.5L482.5 602.2A21 21 0 0 1 484.2 604.3L487.3 602.8A24.5 24.5 0 0 1 488.5 604.8L485.5 606.7A21 21 0 0 1 486.6 609.2L490 608.6A24.5 24.5 0 0 1 490.6 610.8L487.3 611.9A21 21 0 0 1 487.7 614.6Z" fill="#fff"/>
<path d="M487.7 614.6L491.2 614.8A24.5 24.5 0 0 1 491.2 617.2L487.7 617.4A21 21 0 0 1 487.3 620.1L490.6 621.2A24.5 24.5 0 0 1 490 623.4L486.6 622.8A21 21 0 0 1 485.5 625.3L488.5 627.2A24.5 24.5 0 0 1 487.3 629.2L484.2 627.7A21 21 0 0 1 482.5 629.8L484.8 632.5A24.5 24.5 0 0 1 483.2 634.1L480.5 631.8A21 21 0 0 1 478.4 633.5L479.9 636.6A24.5 24.5 0 0 1 477.9 637.8L476 634.8A21 21 0 0 1 473.5 635.9L474.1 639.3A24.5 24.5 0 0 1 471.9 639.9L470.8 636.6A21 21 0 0 1 468.1 637L467.9 640.5A24.5 24.5 0 0 1 465.5 640.5L465.3 637A21 21 0 0 1 462.6 636.6L461.5 639.9A24.5 24.5 0 0 1 459.3 639.3L459.9 635.9A21 21 0 0 1 457.4 634.8L455.5 637.8A24.5 24.5 0 0 1 453.5 636.6L455 633.5A21 21 0 0 1 452.9 631.8L450.2 634.1A24.5 24.5 0 0 1 448.6 632.5L450.9 629.8A21 21 0 0 1 449.2 627.7L446.1 629.2A24.5 24.5 0 0 1 444.9 627.2L447.9 625.3A21 21 0 0 1 446.8 622.8L443.4 623.4A24.5 24.5 0 0 1 442.8 621.2L446.1 620.1A21 21 0 0 1 445.7 617.4L442.2 617.2A24.5 24.5 0 0 1 442.2 614.8L445.7 614.6A21 21 0 0 1 446.1 611.9L442.8 610.8A24.5 24.5 0 0 1 443.4 608.6L446.8 609.2A21 21 0 0 1 447.9 606.7L444.9 604.8A24.5 24.5 0 0 1 446.1 602.8L449.2 604.3A21 21 0 0 1 450.9 602.2L448.6 599.5A24.5 24.5 0 0 1 450.2 597.9L452.9 600.2A21 21 0 0 1 455 598.5L453.5 595.4A24.5 24.5 0 0 1 455.5 594.2L457.4 597.2A21 21 0 0 1 459.9 596.1L459.3 592.7A24.5 24.5 0 0 1 461.5 592.1L462.6 595.4A21 21 0 0 1 465.3 595L465.5 591.5A24.5 24.5 0 0 1 467.9 591.5L468.1 595A21 21 0 0 1 470.8 595.4L471.9 592.1A24.5 24.5 0 0 1 474.1 592.7L473.5 596.1A21 21 0 0 1 476 597.2L477.9 594.2A24.5 24.5 0 0 1 479.9 595.4L478.4 598.5A21 21 0 0 1 480.5 600.2L483.2 597.9A24.5 24.5 0 0 1 484.8 599.5L482.5 602.2A21 21 0 0 1 484.2 604.3L487.3 602.8A24.5 24.5 0 0 1 488.5 604.8L485.5 606.7A21 21 0 0 1 486.6 609.2L490 608.6A24.5 24.5 0 0 1 490.6 610.8L487.3 611.9A21 21 0 0 1 487.7 614.6Z" fill="url(#xMed)" stroke="#111" stroke-width="0.9" stroke-linejoin="round"/>
<circle cx="466.7" cy="616" r="15.2" fill="#fff" stroke="#111" stroke-width="1.4"/>
<path d="M466.7 601V631M451.7 616H481.7" stroke="#111" stroke-width="3.6" fill="none"/>
<path d="M466.7 601V631M451.7 616H481.7" stroke="#ddd" stroke-width="1.6" fill="none"/>
<circle cx="466.7" cy="616" r="7" fill="#bbb" stroke="#111" stroke-width="1.1"/>
<circle cx="466.7" cy="616" r="3.8" fill="#fff" stroke="#111" stroke-width="0.9"/>
<path d="M527.7 655.2L531.1 656.1A16.5 16.5 0 0 1 530.4 659.8L526.9 659.3A13 13 0 0 1 525.3 662.2L527.8 664.8A16.5 16.5 0 0 1 525.1 667.5L522.5 665.1A13 13 0 0 1 519.6 666.7L520.2 670.2A16.5 16.5 0 0 1 516.6 671.1L515.6 667.7A13 13 0 0 1 512.3 667.5L511 670.8A16.5 16.5 0 0 1 507.4 669.5L508.4 666.1A13 13 0 0 1 505.8 664.2L502.9 666.2A16.5 16.5 0 0 1 500.6 663.2L503.3 660.9A13 13 0 0 1 502.1 657.9L498.5 658A16.5 16.5 0 0 1 498.2 654.2L501.7 653.7A13 13 0 0 1 502.4 650.5L499.3 648.7A16.5 16.5 0 0 1 501.1 645.4L504.3 646.9A13 13 0 0 1 506.6 644.5L505 641.4A16.5 16.5 0 0 1 508.3 639.5L510.2 642.5A13 13 0 0 1 513.4 641.8L513.8 638.2A16.5 16.5 0 0 1 517.5 638.4L517.5 642A13 13 0 0 1 520.6 643.1L522.8 640.3A16.5 16.5 0 0 1 525.9 642.5L523.9 645.5A13 13 0 0 1 525.9 648.1L529.3 647A16.5 16.5 0 0 1 530.7 650.5L527.4 652A13 13 0 0 1 527.7 655.2Z" fill="#fff"/>
<path d="M527.7 655.2L531.1 656.1A16.5 16.5 0 0 1 530.4 659.8L526.9 659.3A13 13 0 0 1 525.3 662.2L527.8 664.8A16.5 16.5 0 0 1 525.1 667.5L522.5 665.1A13 13 0 0 1 519.6 666.7L520.2 670.2A16.5 16.5 0 0 1 516.6 671.1L515.6 667.7A13 13 0 0 1 512.3 667.5L511 670.8A16.5 16.5 0 0 1 507.4 669.5L508.4 666.1A13 13 0 0 1 505.8 664.2L502.9 666.2A16.5 16.5 0 0 1 500.6 663.2L503.3 660.9A13 13 0 0 1 502.1 657.9L498.5 658A16.5 16.5 0 0 1 498.2 654.2L501.7 653.7A13 13 0 0 1 502.4 650.5L499.3 648.7A16.5 16.5 0 0 1 501.1 645.4L504.3 646.9A13 13 0 0 1 506.6 644.5L505 641.4A16.5 16.5 0 0 1 508.3 639.5L510.2 642.5A13 13 0 0 1 513.4 641.8L513.8 638.2A16.5 16.5 0 0 1 517.5 638.4L517.5 642A13 13 0 0 1 520.6 643.1L522.8 640.3A16.5 16.5 0 0 1 525.9 642.5L523.9 645.5A13 13 0 0 1 525.9 648.1L529.3 647A16.5 16.5 0 0 1 530.7 650.5L527.4 652A13 13 0 0 1 527.7 655.2Z" fill="url(#stipL)" stroke="#777" stroke-width="0.7" stroke-linejoin="round"/>
<circle cx="514.7" cy="654.7" r="9" fill="none" stroke="#888" stroke-width="0.6"/>
<circle cx="514.7" cy="654.7" r="5.2" fill="none" stroke="#888" stroke-width="0.6"/>
<circle cx="514.7" cy="654.7" r="1.2" fill="#333" stroke="#000" stroke-width="0"/>
</svg>
<div id="ref">TAM2017</div>
<div id="logo">
<span style="left:4.4px;top:9.5px;font-size:16.6px;line-height:18px;color:#c4164f;transform:scaleX(.92);transform-origin:0 0;">A</span>
<span style="left:15.4px;top:14.5px;font-size:10.3px;line-height:12px;color:#c4164f;transform:scaleX(1.38);transform-origin:0 0;">ZZ</span>
<span style="left:32.4px;top:13.2px;font-size:12.4px;line-height:14px;color:#c4164f;">A</span>
<span style="left:17.4px;top:26.2px;font-size:2.9px;line-height:4px;color:#444;letter-spacing:.1px;">Let's scrap</span>
<i style="left:31.2px;top:14.2px;width:3px;height:3px;background:#1e9c94;"></i>
<i style="left:29.4px;top:7.4px;width:3px;height:3px;background:#c3d86f;"></i>
<i style="left:35.4px;top:8.4px;width:5px;height:4.6px;background:#c2185b;"></i>
<i style="left:39.6px;top:3.6px;width:3.1px;height:2.6px;background:#de5c8c;"></i>
<i style="left:35.3px;top:4.3px;width:1.8px;height:1.8px;background:#7d1f3f;"></i>
<i style="left:43.3px;top:7.3px;width:3.4px;height:3.4px;background:#c0607f;"></i>
<i style="left:39.4px;top:12.7px;width:2.6px;height:2.6px;background:#eaa24e;"></i>
</div>
</body>
</html>
